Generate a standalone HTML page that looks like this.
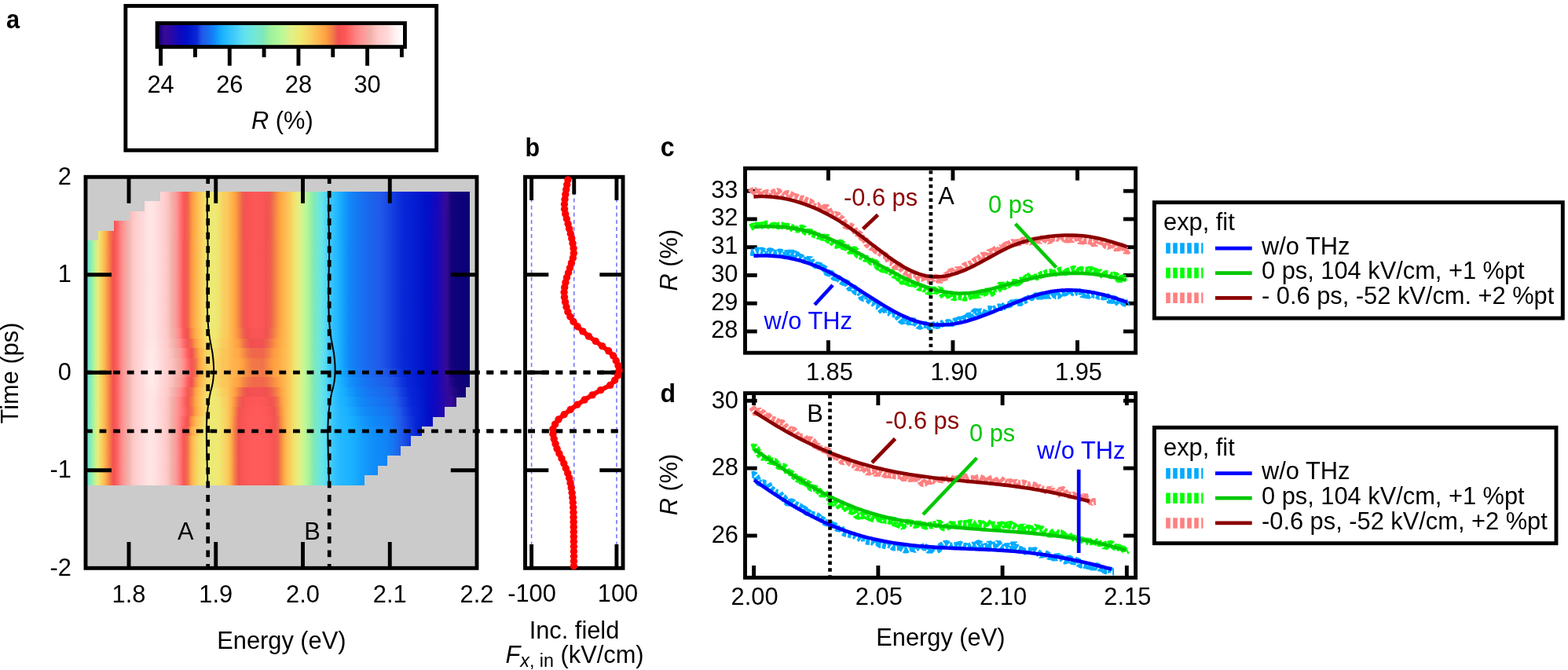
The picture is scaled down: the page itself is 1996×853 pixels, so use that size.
<!DOCTYPE html>
<html lang="en">
<head>
<meta charset="utf-8">
<title>Figure</title>
<style>html,body{margin:0;padding:0;background:#fff;}body{width:1996px;height:853px;overflow:hidden;}svg{display:block;}</style>
</head>
<body>
<svg width="1996" height="853" viewBox="0 0 1996 853" font-family='"Liberation Sans", sans-serif' fill="#000">
<defs>
<linearGradient id="cb" gradientUnits="objectBoundingBox" x1="0" y1="0" x2="1" y2="0"><stop offset="0.01" stop-color="#14047c"/><stop offset="0.03" stop-color="#3a0a98"/><stop offset="0.06" stop-color="#2808a8"/><stop offset="0.09" stop-color="#1008c0"/><stop offset="0.12" stop-color="#0010c8"/><stop offset="0.16" stop-color="#0828d8"/><stop offset="0.18" stop-color="#2058e8"/><stop offset="0.21" stop-color="#1870f0"/><stop offset="0.23" stop-color="#1088f8"/><stop offset="0.26" stop-color="#18b0ff"/><stop offset="0.29" stop-color="#30c0ff"/><stop offset="0.32" stop-color="#48d0f8"/><stop offset="0.35" stop-color="#60e0f0"/><stop offset="0.39" stop-color="#70e8d8"/><stop offset="0.43" stop-color="#80e8b8"/><stop offset="0.45" stop-color="#98f0a0"/><stop offset="0.5" stop-color="#b8f898"/><stop offset="0.51" stop-color="#c0f898"/><stop offset="0.54" stop-color="#e0f088"/><stop offset="0.58" stop-color="#f0e870"/><stop offset="0.62" stop-color="#f8d060"/><stop offset="0.65" stop-color="#ffb850"/><stop offset="0.68" stop-color="#ffa040"/><stop offset="0.71" stop-color="#f07848"/><stop offset="0.73" stop-color="#f05050"/><stop offset="0.76" stop-color="#ff5858"/><stop offset="0.8" stop-color="#ff8080"/><stop offset="0.83" stop-color="#ff9898"/><stop offset="0.86" stop-color="#f0b0a8"/><stop offset="0.89" stop-color="#ffc8c8"/><stop offset="0.93" stop-color="#ffd8d8"/><stop offset="0.96" stop-color="#fff0f0"/><stop offset="0.99" stop-color="#ffffff"/></linearGradient>
<linearGradient id="h0" gradientUnits="userSpaceOnUse" x1="203.75" y1="0" x2="598" y2="0"><stop offset="0.0000" stop-color="#ffd6d6"/><stop offset="0.0127" stop-color="#ffcfcf"/><stop offset="0.0254" stop-color="#fcc4c2"/><stop offset="0.0380" stop-color="#f0b1a9"/><stop offset="0.0507" stop-color="#fc9d9b"/><stop offset="0.0634" stop-color="#ff7b7b"/><stop offset="0.0761" stop-color="#fb5656"/><stop offset="0.0888" stop-color="#f05e4d"/><stop offset="0.1015" stop-color="#fb9542"/><stop offset="0.1141" stop-color="#ffb14b"/><stop offset="0.1268" stop-color="#fbc558"/><stop offset="0.1395" stop-color="#f5d865"/><stop offset="0.1522" stop-color="#efe871"/><stop offset="0.1649" stop-color="#ecea76"/><stop offset="0.1776" stop-color="#edea75"/><stop offset="0.1902" stop-color="#f2e36c"/><stop offset="0.2029" stop-color="#f8d161"/><stop offset="0.2156" stop-color="#facb5c"/><stop offset="0.2283" stop-color="#ffb850"/><stop offset="0.2410" stop-color="#ffa543"/><stop offset="0.2536" stop-color="#f58645"/><stop offset="0.2663" stop-color="#f05e4d"/><stop offset="0.2790" stop-color="#f55353"/><stop offset="0.2917" stop-color="#fb5656"/><stop offset="0.3044" stop-color="#fd5757"/><stop offset="0.3171" stop-color="#fc5757"/><stop offset="0.3297" stop-color="#fb5656"/><stop offset="0.3424" stop-color="#f55353"/><stop offset="0.3551" stop-color="#f05c4e"/><stop offset="0.3678" stop-color="#f07848"/><stop offset="0.3805" stop-color="#fb9742"/><stop offset="0.3932" stop-color="#ffac48"/><stop offset="0.4058" stop-color="#febc53"/><stop offset="0.4185" stop-color="#f9cb5d"/><stop offset="0.4312" stop-color="#f3e06b"/><stop offset="0.4439" stop-color="#e8ec7c"/><stop offset="0.4566" stop-color="#d7f28c"/><stop offset="0.4692" stop-color="#bcf898"/><stop offset="0.4819" stop-color="#a3f39d"/><stop offset="0.4946" stop-color="#85eab3"/><stop offset="0.5073" stop-color="#75e8ce"/><stop offset="0.5200" stop-color="#69e4e3"/><stop offset="0.5327" stop-color="#59dbf2"/><stop offset="0.5453" stop-color="#40cafa"/><stop offset="0.5580" stop-color="#31c1ff"/><stop offset="0.5707" stop-color="#23b7ff"/><stop offset="0.5834" stop-color="#17abfe"/><stop offset="0.5961" stop-color="#149bfb"/><stop offset="0.6088" stop-color="#118bf9"/><stop offset="0.6214" stop-color="#1282f6"/><stop offset="0.6341" stop-color="#157af3"/><stop offset="0.6468" stop-color="#1772f1"/><stop offset="0.6595" stop-color="#196cef"/><stop offset="0.6722" stop-color="#1b67ed"/><stop offset="0.6848" stop-color="#1c63ec"/><stop offset="0.6975" stop-color="#1e5eea"/><stop offset="0.7102" stop-color="#2059e8"/><stop offset="0.7229" stop-color="#1d52e6"/><stop offset="0.7356" stop-color="#1949e3"/><stop offset="0.7483" stop-color="#1440e0"/><stop offset="0.7609" stop-color="#1038dd"/><stop offset="0.7736" stop-color="#0b2fda"/><stop offset="0.7863" stop-color="#0827d7"/><stop offset="0.7990" stop-color="#0724d5"/><stop offset="0.8117" stop-color="#0520d3"/><stop offset="0.8244" stop-color="#041cd0"/><stop offset="0.8370" stop-color="#0318ce"/><stop offset="0.8497" stop-color="#0114cb"/><stop offset="0.8624" stop-color="#010fc7"/><stop offset="0.8751" stop-color="#080cc4"/><stop offset="0.8878" stop-color="#1008c0"/><stop offset="0.9004" stop-color="#1d08b3"/><stop offset="0.9131" stop-color="#2c08a4"/><stop offset="0.9258" stop-color="#370a96"/><stop offset="0.9385" stop-color="#14047c"/><stop offset="0.9512" stop-color="#0f027a"/><stop offset="0.9639" stop-color="#0e027a"/><stop offset="0.9765" stop-color="#0d0179"/><stop offset="0.9892" stop-color="#0b0078"/><stop offset="1.0000" stop-color="#0a0078"/></linearGradient>
<linearGradient id="h1" gradientUnits="userSpaceOnUse" x1="184.25" y1="0" x2="598" y2="0"><stop offset="0.0000" stop-color="#ffdddd"/><stop offset="0.0121" stop-color="#ffe4e4"/><stop offset="0.0242" stop-color="#ffe4e4"/><stop offset="0.0363" stop-color="#ffdddd"/><stop offset="0.0483" stop-color="#ffd6d6"/><stop offset="0.0604" stop-color="#ffcece"/><stop offset="0.0725" stop-color="#fbc2c0"/><stop offset="0.0846" stop-color="#f1afa7"/><stop offset="0.0967" stop-color="#fd9b9a"/><stop offset="0.1088" stop-color="#ff7777"/><stop offset="0.1208" stop-color="#f95555"/><stop offset="0.1329" stop-color="#f0644c"/><stop offset="0.1450" stop-color="#fd9a41"/><stop offset="0.1571" stop-color="#ffb34c"/><stop offset="0.1692" stop-color="#fbc75a"/><stop offset="0.1813" stop-color="#f5da67"/><stop offset="0.1934" stop-color="#eee972"/><stop offset="0.2054" stop-color="#ecea76"/><stop offset="0.2175" stop-color="#ede974"/><stop offset="0.2296" stop-color="#f2e16b"/><stop offset="0.2417" stop-color="#f8cf60"/><stop offset="0.2538" stop-color="#faca5c"/><stop offset="0.2659" stop-color="#ffb64e"/><stop offset="0.2779" stop-color="#ffa443"/><stop offset="0.2900" stop-color="#f48246"/><stop offset="0.3021" stop-color="#f05a4e"/><stop offset="0.3142" stop-color="#f65353"/><stop offset="0.3263" stop-color="#fb5656"/><stop offset="0.3384" stop-color="#fd5757"/><stop offset="0.3505" stop-color="#fc5757"/><stop offset="0.3625" stop-color="#fb5656"/><stop offset="0.3746" stop-color="#f45252"/><stop offset="0.3867" stop-color="#f05e4d"/><stop offset="0.3988" stop-color="#f27d47"/><stop offset="0.4109" stop-color="#fd9a41"/><stop offset="0.4230" stop-color="#ffae49"/><stop offset="0.4350" stop-color="#fdbd54"/><stop offset="0.4471" stop-color="#f9cd5e"/><stop offset="0.4592" stop-color="#f2e26c"/><stop offset="0.4713" stop-color="#e7ec7d"/><stop offset="0.4834" stop-color="#d4f38e"/><stop offset="0.4955" stop-color="#baf898"/><stop offset="0.5076" stop-color="#a0f29e"/><stop offset="0.5196" stop-color="#82e9b6"/><stop offset="0.5317" stop-color="#74e8d1"/><stop offset="0.5438" stop-color="#68e4e5"/><stop offset="0.5559" stop-color="#56d9f3"/><stop offset="0.5680" stop-color="#3ec9fb"/><stop offset="0.5801" stop-color="#30c0ff"/><stop offset="0.5921" stop-color="#22b7ff"/><stop offset="0.6042" stop-color="#17aafe"/><stop offset="0.6163" stop-color="#149afb"/><stop offset="0.6284" stop-color="#108af8"/><stop offset="0.6405" stop-color="#1281f6"/><stop offset="0.6526" stop-color="#1579f3"/><stop offset="0.6647" stop-color="#1772f1"/><stop offset="0.6767" stop-color="#196cef"/><stop offset="0.6888" stop-color="#1b67ed"/><stop offset="0.7009" stop-color="#1d62eb"/><stop offset="0.7130" stop-color="#1e5eea"/><stop offset="0.7251" stop-color="#2059e8"/><stop offset="0.7372" stop-color="#1d51e6"/><stop offset="0.7492" stop-color="#1848e3"/><stop offset="0.7613" stop-color="#1440e0"/><stop offset="0.7734" stop-color="#0f37dd"/><stop offset="0.7855" stop-color="#0b2eda"/><stop offset="0.7976" stop-color="#0827d7"/><stop offset="0.8097" stop-color="#0623d5"/><stop offset="0.8218" stop-color="#0520d3"/><stop offset="0.8338" stop-color="#041cd0"/><stop offset="0.8459" stop-color="#0318cd"/><stop offset="0.8580" stop-color="#0113ca"/><stop offset="0.8701" stop-color="#020fc7"/><stop offset="0.8822" stop-color="#090cc4"/><stop offset="0.8943" stop-color="#1208be"/><stop offset="0.9063" stop-color="#1e08b2"/><stop offset="0.9184" stop-color="#2e09a3"/><stop offset="0.9305" stop-color="#340993"/><stop offset="0.9426" stop-color="#13047c"/><stop offset="0.9547" stop-color="#0f027a"/><stop offset="0.9668" stop-color="#0e027a"/><stop offset="0.9789" stop-color="#0c0179"/><stop offset="0.9909" stop-color="#0b0078"/><stop offset="1.0000" stop-color="#0a0078"/></linearGradient>
<linearGradient id="h2" gradientUnits="userSpaceOnUse" x1="165" y1="0" x2="598" y2="0"><stop offset="0.0000" stop-color="#f5b7b2"/><stop offset="0.0115" stop-color="#ffc9c9"/><stop offset="0.0231" stop-color="#ffd1d1"/><stop offset="0.0346" stop-color="#ffd7d7"/><stop offset="0.0462" stop-color="#ffdfdf"/><stop offset="0.0577" stop-color="#ffe5e5"/><stop offset="0.0693" stop-color="#ffe4e4"/><stop offset="0.0808" stop-color="#ffdcdc"/><stop offset="0.0924" stop-color="#ffd5d5"/><stop offset="0.1039" stop-color="#ffcdcd"/><stop offset="0.1155" stop-color="#f9bfbc"/><stop offset="0.1270" stop-color="#f3aca5"/><stop offset="0.1386" stop-color="#ff9797"/><stop offset="0.1501" stop-color="#ff7070"/><stop offset="0.1617" stop-color="#f75454"/><stop offset="0.1732" stop-color="#f06d4a"/><stop offset="0.1848" stop-color="#ffa140"/><stop offset="0.1963" stop-color="#ffb54e"/><stop offset="0.2079" stop-color="#faca5c"/><stop offset="0.2194" stop-color="#f4dd69"/><stop offset="0.2309" stop-color="#ede974"/><stop offset="0.2425" stop-color="#ecea76"/><stop offset="0.2540" stop-color="#ede974"/><stop offset="0.2656" stop-color="#f3de6a"/><stop offset="0.2771" stop-color="#f9cd5e"/><stop offset="0.2887" stop-color="#fac85b"/><stop offset="0.3002" stop-color="#ffb24c"/><stop offset="0.3118" stop-color="#ffa241"/><stop offset="0.3233" stop-color="#f17b47"/><stop offset="0.3349" stop-color="#f0554f"/><stop offset="0.3464" stop-color="#f85454"/><stop offset="0.3580" stop-color="#fb5656"/><stop offset="0.3695" stop-color="#fd5757"/><stop offset="0.3811" stop-color="#fc5757"/><stop offset="0.3926" stop-color="#fb5656"/><stop offset="0.4042" stop-color="#f25151"/><stop offset="0.4157" stop-color="#f0614d"/><stop offset="0.4273" stop-color="#f48346"/><stop offset="0.4388" stop-color="#fe9e40"/><stop offset="0.4503" stop-color="#ffb04b"/><stop offset="0.4619" stop-color="#fdbf55"/><stop offset="0.4734" stop-color="#f8d060"/><stop offset="0.4850" stop-color="#f1e66f"/><stop offset="0.4965" stop-color="#e5ed80"/><stop offset="0.5081" stop-color="#d0f490"/><stop offset="0.5196" stop-color="#b7f898"/><stop offset="0.5312" stop-color="#9cf19f"/><stop offset="0.5427" stop-color="#7fe8bb"/><stop offset="0.5543" stop-color="#72e8d5"/><stop offset="0.5658" stop-color="#66e3e7"/><stop offset="0.5774" stop-color="#52d6f5"/><stop offset="0.5889" stop-color="#3bc7fc"/><stop offset="0.6005" stop-color="#2fc0ff"/><stop offset="0.6120" stop-color="#20b5ff"/><stop offset="0.6236" stop-color="#16a7fd"/><stop offset="0.6351" stop-color="#1397fb"/><stop offset="0.6467" stop-color="#1088f8"/><stop offset="0.6582" stop-color="#1380f5"/><stop offset="0.6697" stop-color="#1578f3"/><stop offset="0.6813" stop-color="#1871f0"/><stop offset="0.6928" stop-color="#1a6bee"/><stop offset="0.7044" stop-color="#1b66ed"/><stop offset="0.7159" stop-color="#1d61eb"/><stop offset="0.7275" stop-color="#1e5dea"/><stop offset="0.7390" stop-color="#2058e8"/><stop offset="0.7506" stop-color="#1c50e5"/><stop offset="0.7621" stop-color="#1747e2"/><stop offset="0.7737" stop-color="#133edf"/><stop offset="0.7852" stop-color="#0f36dd"/><stop offset="0.7968" stop-color="#0a2dda"/><stop offset="0.8083" stop-color="#0726d7"/><stop offset="0.8199" stop-color="#0623d5"/><stop offset="0.8314" stop-color="#051fd2"/><stop offset="0.8430" stop-color="#041bd0"/><stop offset="0.8545" stop-color="#0217cd"/><stop offset="0.8661" stop-color="#0113ca"/><stop offset="0.8776" stop-color="#030fc7"/><stop offset="0.8891" stop-color="#0a0bc3"/><stop offset="0.9007" stop-color="#1408bc"/><stop offset="0.9122" stop-color="#2008b0"/><stop offset="0.9238" stop-color="#3009a1"/><stop offset="0.9353" stop-color="#2e088f"/><stop offset="0.9469" stop-color="#12037b"/><stop offset="0.9584" stop-color="#0f027a"/><stop offset="0.9700" stop-color="#0e0179"/><stop offset="0.9815" stop-color="#0c0179"/><stop offset="0.9931" stop-color="#0b0078"/><stop offset="1.0000" stop-color="#0a0078"/></linearGradient>
<linearGradient id="h3" gradientUnits="userSpaceOnUse" x1="145" y1="0" x2="598" y2="0"><stop offset="0.0000" stop-color="#f65353"/><stop offset="0.0110" stop-color="#ff6868"/><stop offset="0.0221" stop-color="#ff8d8d"/><stop offset="0.0331" stop-color="#f7a4a0"/><stop offset="0.0442" stop-color="#f5b7b2"/><stop offset="0.0552" stop-color="#ffc9c9"/><stop offset="0.0662" stop-color="#ffd1d1"/><stop offset="0.0773" stop-color="#ffd7d7"/><stop offset="0.0883" stop-color="#ffdfdf"/><stop offset="0.0993" stop-color="#ffe5e5"/><stop offset="0.1104" stop-color="#ffe4e4"/><stop offset="0.1214" stop-color="#ffdcdc"/><stop offset="0.1325" stop-color="#ffd5d5"/><stop offset="0.1435" stop-color="#ffcdcd"/><stop offset="0.1545" stop-color="#f9bfbc"/><stop offset="0.1656" stop-color="#f3aca5"/><stop offset="0.1766" stop-color="#ff9797"/><stop offset="0.1876" stop-color="#ff7070"/><stop offset="0.1987" stop-color="#f75454"/><stop offset="0.2097" stop-color="#f06d4a"/><stop offset="0.2208" stop-color="#ffa140"/><stop offset="0.2318" stop-color="#ffb54e"/><stop offset="0.2428" stop-color="#faca5c"/><stop offset="0.2539" stop-color="#f4dd69"/><stop offset="0.2649" stop-color="#ede974"/><stop offset="0.2759" stop-color="#ecea76"/><stop offset="0.2870" stop-color="#ede974"/><stop offset="0.2980" stop-color="#f3de6a"/><stop offset="0.3091" stop-color="#f9cd5e"/><stop offset="0.3201" stop-color="#fac85b"/><stop offset="0.3311" stop-color="#ffb24c"/><stop offset="0.3422" stop-color="#ffa241"/><stop offset="0.3532" stop-color="#f17b47"/><stop offset="0.3642" stop-color="#f0554f"/><stop offset="0.3753" stop-color="#f85454"/><stop offset="0.3863" stop-color="#fb5656"/><stop offset="0.3974" stop-color="#fd5757"/><stop offset="0.4084" stop-color="#fc5757"/><stop offset="0.4194" stop-color="#fb5656"/><stop offset="0.4305" stop-color="#f25151"/><stop offset="0.4415" stop-color="#f0614d"/><stop offset="0.4525" stop-color="#f48346"/><stop offset="0.4636" stop-color="#fe9e40"/><stop offset="0.4746" stop-color="#ffb04b"/><stop offset="0.4857" stop-color="#fdbf55"/><stop offset="0.4967" stop-color="#f8d060"/><stop offset="0.5077" stop-color="#f1e66f"/><stop offset="0.5188" stop-color="#e5ed80"/><stop offset="0.5298" stop-color="#d0f490"/><stop offset="0.5408" stop-color="#b7f898"/><stop offset="0.5519" stop-color="#9cf19f"/><stop offset="0.5629" stop-color="#7fe8bb"/><stop offset="0.5740" stop-color="#72e8d5"/><stop offset="0.5850" stop-color="#66e3e7"/><stop offset="0.5960" stop-color="#52d6f5"/><stop offset="0.6071" stop-color="#3bc7fc"/><stop offset="0.6181" stop-color="#2fc0ff"/><stop offset="0.6291" stop-color="#20b5ff"/><stop offset="0.6402" stop-color="#16a7fd"/><stop offset="0.6512" stop-color="#1397fb"/><stop offset="0.6623" stop-color="#1088f8"/><stop offset="0.6733" stop-color="#1380f5"/><stop offset="0.6843" stop-color="#1578f3"/><stop offset="0.6954" stop-color="#1871f0"/><stop offset="0.7064" stop-color="#1a6bee"/><stop offset="0.7174" stop-color="#1b66ed"/><stop offset="0.7285" stop-color="#1d61eb"/><stop offset="0.7395" stop-color="#1e5dea"/><stop offset="0.7506" stop-color="#2058e8"/><stop offset="0.7616" stop-color="#1c50e5"/><stop offset="0.7726" stop-color="#1747e2"/><stop offset="0.7837" stop-color="#133edf"/><stop offset="0.7947" stop-color="#0f36dd"/><stop offset="0.8057" stop-color="#0a2dda"/><stop offset="0.8168" stop-color="#0726d7"/><stop offset="0.8278" stop-color="#0623d5"/><stop offset="0.8389" stop-color="#051fd2"/><stop offset="0.8499" stop-color="#041bd0"/><stop offset="0.8609" stop-color="#0217cd"/><stop offset="0.8720" stop-color="#0113ca"/><stop offset="0.8830" stop-color="#030fc7"/><stop offset="0.8940" stop-color="#0a0bc3"/><stop offset="0.9051" stop-color="#1408bc"/><stop offset="0.9161" stop-color="#2008b0"/><stop offset="0.9272" stop-color="#3009a1"/><stop offset="0.9382" stop-color="#2e088f"/><stop offset="0.9492" stop-color="#12037b"/><stop offset="0.9603" stop-color="#0f027a"/><stop offset="0.9713" stop-color="#0e0179"/><stop offset="0.9823" stop-color="#0c0179"/><stop offset="0.9934" stop-color="#0b0078"/><stop offset="1.0000" stop-color="#0a0078"/></linearGradient>
<linearGradient id="h4" gradientUnits="userSpaceOnUse" x1="125" y1="0" x2="598" y2="0"><stop offset="0.0000" stop-color="#ebeb78"/><stop offset="0.0106" stop-color="#f9cc5d"/><stop offset="0.0211" stop-color="#ffa946"/><stop offset="0.0317" stop-color="#f07648"/><stop offset="0.0423" stop-color="#f65353"/><stop offset="0.0529" stop-color="#ff6868"/><stop offset="0.0634" stop-color="#ff8d8d"/><stop offset="0.0740" stop-color="#f7a4a0"/><stop offset="0.0846" stop-color="#f5b7b2"/><stop offset="0.0951" stop-color="#ffc9c9"/><stop offset="0.1057" stop-color="#ffd1d1"/><stop offset="0.1163" stop-color="#ffd7d7"/><stop offset="0.1268" stop-color="#ffdfdf"/><stop offset="0.1374" stop-color="#ffe5e5"/><stop offset="0.1480" stop-color="#ffe4e4"/><stop offset="0.1586" stop-color="#ffdcdc"/><stop offset="0.1691" stop-color="#ffd5d5"/><stop offset="0.1797" stop-color="#ffcdcd"/><stop offset="0.1903" stop-color="#f9bfbc"/><stop offset="0.2008" stop-color="#f3aca5"/><stop offset="0.2114" stop-color="#ff9797"/><stop offset="0.2220" stop-color="#ff7070"/><stop offset="0.2326" stop-color="#f75454"/><stop offset="0.2431" stop-color="#f06d4a"/><stop offset="0.2537" stop-color="#ffa140"/><stop offset="0.2643" stop-color="#ffb54e"/><stop offset="0.2748" stop-color="#faca5c"/><stop offset="0.2854" stop-color="#f4dd69"/><stop offset="0.2960" stop-color="#ede974"/><stop offset="0.3066" stop-color="#ecea76"/><stop offset="0.3171" stop-color="#ede974"/><stop offset="0.3277" stop-color="#f3de6a"/><stop offset="0.3383" stop-color="#f9cd5e"/><stop offset="0.3488" stop-color="#fac85b"/><stop offset="0.3594" stop-color="#ffb24c"/><stop offset="0.3700" stop-color="#ffa241"/><stop offset="0.3805" stop-color="#f17b47"/><stop offset="0.3911" stop-color="#f0554f"/><stop offset="0.4017" stop-color="#f85454"/><stop offset="0.4123" stop-color="#fb5656"/><stop offset="0.4228" stop-color="#fd5757"/><stop offset="0.4334" stop-color="#fc5757"/><stop offset="0.4440" stop-color="#fb5656"/><stop offset="0.4545" stop-color="#f25151"/><stop offset="0.4651" stop-color="#f0614d"/><stop offset="0.4757" stop-color="#f48346"/><stop offset="0.4863" stop-color="#fe9e40"/><stop offset="0.4968" stop-color="#ffb04b"/><stop offset="0.5074" stop-color="#fdbf55"/><stop offset="0.5180" stop-color="#f8d060"/><stop offset="0.5285" stop-color="#f1e66f"/><stop offset="0.5391" stop-color="#e5ed80"/><stop offset="0.5497" stop-color="#d0f490"/><stop offset="0.5603" stop-color="#b7f898"/><stop offset="0.5708" stop-color="#9cf19f"/><stop offset="0.5814" stop-color="#7fe8bb"/><stop offset="0.5920" stop-color="#72e8d5"/><stop offset="0.6025" stop-color="#66e3e7"/><stop offset="0.6131" stop-color="#52d6f5"/><stop offset="0.6237" stop-color="#3bc7fc"/><stop offset="0.6342" stop-color="#2fc0ff"/><stop offset="0.6448" stop-color="#20b5ff"/><stop offset="0.6554" stop-color="#16a7fd"/><stop offset="0.6660" stop-color="#1397fb"/><stop offset="0.6765" stop-color="#1088f8"/><stop offset="0.6871" stop-color="#1380f5"/><stop offset="0.6977" stop-color="#1578f3"/><stop offset="0.7082" stop-color="#1871f0"/><stop offset="0.7188" stop-color="#1a6bee"/><stop offset="0.7294" stop-color="#1b66ed"/><stop offset="0.7400" stop-color="#1d61eb"/><stop offset="0.7505" stop-color="#1e5dea"/><stop offset="0.7611" stop-color="#2058e8"/><stop offset="0.7717" stop-color="#1c50e5"/><stop offset="0.7822" stop-color="#1747e2"/><stop offset="0.7928" stop-color="#133edf"/><stop offset="0.8034" stop-color="#0f36dd"/><stop offset="0.8140" stop-color="#0a2dda"/><stop offset="0.8245" stop-color="#0726d7"/><stop offset="0.8351" stop-color="#0623d5"/><stop offset="0.8457" stop-color="#051fd2"/><stop offset="0.8562" stop-color="#041bd0"/><stop offset="0.8668" stop-color="#0217cd"/><stop offset="0.8774" stop-color="#0113ca"/><stop offset="0.8879" stop-color="#030fc7"/><stop offset="0.8985" stop-color="#0a0bc3"/><stop offset="0.9091" stop-color="#1408bc"/><stop offset="0.9197" stop-color="#2008b0"/><stop offset="0.9302" stop-color="#3009a1"/><stop offset="0.9408" stop-color="#2e088f"/><stop offset="0.9514" stop-color="#12037b"/><stop offset="0.9619" stop-color="#0f027a"/><stop offset="0.9725" stop-color="#0e0179"/><stop offset="0.9831" stop-color="#0c0179"/><stop offset="0.9937" stop-color="#0b0078"/><stop offset="1.0000" stop-color="#0a0078"/></linearGradient>
<linearGradient id="h5" gradientUnits="userSpaceOnUse" x1="109" y1="0" x2="598" y2="0"><stop offset="0.0000" stop-color="#6ce6df"/><stop offset="0.0102" stop-color="#7ae8c4"/><stop offset="0.0204" stop-color="#abf59b"/><stop offset="0.0307" stop-color="#e6ed7f"/><stop offset="0.0409" stop-color="#f7d362"/><stop offset="0.0511" stop-color="#ffb04b"/><stop offset="0.0613" stop-color="#f48346"/><stop offset="0.0716" stop-color="#f35151"/><stop offset="0.0818" stop-color="#ff6060"/><stop offset="0.0920" stop-color="#ff8787"/><stop offset="0.1022" stop-color="#faa09e"/><stop offset="0.1125" stop-color="#f2b3ac"/><stop offset="0.1227" stop-color="#fec7c6"/><stop offset="0.1329" stop-color="#ffd0d0"/><stop offset="0.1431" stop-color="#ffd6d6"/><stop offset="0.1534" stop-color="#ffdddd"/><stop offset="0.1636" stop-color="#ffe4e4"/><stop offset="0.1738" stop-color="#ffe4e4"/><stop offset="0.1840" stop-color="#ffdede"/><stop offset="0.1943" stop-color="#ffd6d6"/><stop offset="0.2045" stop-color="#ffcfcf"/><stop offset="0.2147" stop-color="#fcc3c1"/><stop offset="0.2249" stop-color="#f0b0a8"/><stop offset="0.2352" stop-color="#fd9c9a"/><stop offset="0.2454" stop-color="#ff7979"/><stop offset="0.2556" stop-color="#fa5555"/><stop offset="0.2658" stop-color="#f0614d"/><stop offset="0.2761" stop-color="#fc9842"/><stop offset="0.2863" stop-color="#ffb24c"/><stop offset="0.2965" stop-color="#fbc659"/><stop offset="0.3067" stop-color="#f5d966"/><stop offset="0.3170" stop-color="#efe972"/><stop offset="0.3272" stop-color="#ecea76"/><stop offset="0.3374" stop-color="#ede974"/><stop offset="0.3476" stop-color="#f2e26c"/><stop offset="0.3579" stop-color="#f8d060"/><stop offset="0.3681" stop-color="#faca5c"/><stop offset="0.3783" stop-color="#ffb74f"/><stop offset="0.3885" stop-color="#ffa543"/><stop offset="0.3988" stop-color="#f48446"/><stop offset="0.4090" stop-color="#f05c4e"/><stop offset="0.4192" stop-color="#f65353"/><stop offset="0.4294" stop-color="#fb5656"/><stop offset="0.4397" stop-color="#fd5757"/><stop offset="0.4499" stop-color="#fc5757"/><stop offset="0.4601" stop-color="#fb5656"/><stop offset="0.4703" stop-color="#f45252"/><stop offset="0.4806" stop-color="#f05d4d"/><stop offset="0.4908" stop-color="#f17a48"/><stop offset="0.5010" stop-color="#fc9842"/><stop offset="0.5112" stop-color="#ffad49"/><stop offset="0.5215" stop-color="#febd53"/><stop offset="0.5317" stop-color="#f9cc5d"/><stop offset="0.5419" stop-color="#f2e16c"/><stop offset="0.5521" stop-color="#e8ec7c"/><stop offset="0.5624" stop-color="#d6f38d"/><stop offset="0.5726" stop-color="#bbf898"/><stop offset="0.5828" stop-color="#a2f29e"/><stop offset="0.5930" stop-color="#83e9b5"/><stop offset="0.6033" stop-color="#74e8d0"/><stop offset="0.6135" stop-color="#68e4e4"/><stop offset="0.6237" stop-color="#58daf3"/><stop offset="0.6339" stop-color="#3fcafb"/><stop offset="0.6442" stop-color="#30c0ff"/><stop offset="0.6544" stop-color="#23b7ff"/><stop offset="0.6646" stop-color="#17abfe"/><stop offset="0.6748" stop-color="#149afb"/><stop offset="0.6851" stop-color="#108af8"/><stop offset="0.6953" stop-color="#1281f6"/><stop offset="0.7055" stop-color="#1579f3"/><stop offset="0.7157" stop-color="#1772f1"/><stop offset="0.7260" stop-color="#196cef"/><stop offset="0.7362" stop-color="#1b67ed"/><stop offset="0.7464" stop-color="#1d62eb"/><stop offset="0.7566" stop-color="#1e5eea"/><stop offset="0.7669" stop-color="#2059e8"/><stop offset="0.7771" stop-color="#1d51e6"/><stop offset="0.7873" stop-color="#1849e3"/><stop offset="0.7975" stop-color="#1440e0"/><stop offset="0.8078" stop-color="#1037dd"/><stop offset="0.8180" stop-color="#0b2fda"/><stop offset="0.8282" stop-color="#0827d7"/><stop offset="0.8384" stop-color="#0724d5"/><stop offset="0.8487" stop-color="#0520d3"/><stop offset="0.8589" stop-color="#041cd0"/><stop offset="0.8691" stop-color="#0318cd"/><stop offset="0.8793" stop-color="#0114ca"/><stop offset="0.8896" stop-color="#010fc7"/><stop offset="0.8998" stop-color="#080cc4"/><stop offset="0.9100" stop-color="#1108bf"/><stop offset="0.9202" stop-color="#1e08b2"/><stop offset="0.9305" stop-color="#2d09a4"/><stop offset="0.9407" stop-color="#350995"/><stop offset="0.9509" stop-color="#14047c"/><stop offset="0.9611" stop-color="#0f027a"/><stop offset="0.9714" stop-color="#0e027a"/><stop offset="0.9816" stop-color="#0d0179"/><stop offset="0.9918" stop-color="#0b0078"/><stop offset="1.0000" stop-color="#0a0078"/></linearGradient>
<linearGradient id="h6" gradientUnits="userSpaceOnUse" x1="109" y1="0" x2="598" y2="0"><stop offset="0.0000" stop-color="#6ce6df"/><stop offset="0.0102" stop-color="#7ae8c4"/><stop offset="0.0204" stop-color="#abf59b"/><stop offset="0.0307" stop-color="#e6ed7f"/><stop offset="0.0409" stop-color="#f7d362"/><stop offset="0.0511" stop-color="#ffb04b"/><stop offset="0.0613" stop-color="#f48346"/><stop offset="0.0716" stop-color="#f35151"/><stop offset="0.0818" stop-color="#ff6060"/><stop offset="0.0920" stop-color="#ff8787"/><stop offset="0.1022" stop-color="#faa09e"/><stop offset="0.1125" stop-color="#f2b3ac"/><stop offset="0.1227" stop-color="#fec7c6"/><stop offset="0.1329" stop-color="#ffd0d0"/><stop offset="0.1431" stop-color="#ffd6d6"/><stop offset="0.1534" stop-color="#ffdddd"/><stop offset="0.1636" stop-color="#ffe4e4"/><stop offset="0.1738" stop-color="#ffe4e4"/><stop offset="0.1840" stop-color="#ffdede"/><stop offset="0.1943" stop-color="#ffd6d6"/><stop offset="0.2045" stop-color="#ffcfcf"/><stop offset="0.2147" stop-color="#fcc3c1"/><stop offset="0.2249" stop-color="#f0b0a8"/><stop offset="0.2352" stop-color="#fd9c9a"/><stop offset="0.2454" stop-color="#ff7979"/><stop offset="0.2556" stop-color="#fa5555"/><stop offset="0.2658" stop-color="#f0614d"/><stop offset="0.2761" stop-color="#fc9842"/><stop offset="0.2863" stop-color="#ffb24c"/><stop offset="0.2965" stop-color="#fbc659"/><stop offset="0.3067" stop-color="#f5d966"/><stop offset="0.3170" stop-color="#efe972"/><stop offset="0.3272" stop-color="#ecea76"/><stop offset="0.3374" stop-color="#ede974"/><stop offset="0.3476" stop-color="#f2e26c"/><stop offset="0.3579" stop-color="#f8d060"/><stop offset="0.3681" stop-color="#faca5c"/><stop offset="0.3783" stop-color="#ffb74f"/><stop offset="0.3885" stop-color="#ffa543"/><stop offset="0.3988" stop-color="#f48446"/><stop offset="0.4090" stop-color="#f05c4e"/><stop offset="0.4192" stop-color="#f65353"/><stop offset="0.4294" stop-color="#fb5656"/><stop offset="0.4397" stop-color="#fd5757"/><stop offset="0.4499" stop-color="#fc5757"/><stop offset="0.4601" stop-color="#fb5656"/><stop offset="0.4703" stop-color="#f45252"/><stop offset="0.4806" stop-color="#f05d4d"/><stop offset="0.4908" stop-color="#f17a48"/><stop offset="0.5010" stop-color="#fc9842"/><stop offset="0.5112" stop-color="#ffad49"/><stop offset="0.5215" stop-color="#febd53"/><stop offset="0.5317" stop-color="#f9cc5d"/><stop offset="0.5419" stop-color="#f2e16c"/><stop offset="0.5521" stop-color="#e8ec7c"/><stop offset="0.5624" stop-color="#d6f38d"/><stop offset="0.5726" stop-color="#bbf898"/><stop offset="0.5828" stop-color="#a2f29e"/><stop offset="0.5930" stop-color="#83e9b5"/><stop offset="0.6033" stop-color="#74e8d0"/><stop offset="0.6135" stop-color="#68e4e4"/><stop offset="0.6237" stop-color="#58daf3"/><stop offset="0.6339" stop-color="#3fcafb"/><stop offset="0.6442" stop-color="#30c0ff"/><stop offset="0.6544" stop-color="#23b7ff"/><stop offset="0.6646" stop-color="#17abfe"/><stop offset="0.6748" stop-color="#149afb"/><stop offset="0.6851" stop-color="#108af8"/><stop offset="0.6953" stop-color="#1281f6"/><stop offset="0.7055" stop-color="#1579f3"/><stop offset="0.7157" stop-color="#1772f1"/><stop offset="0.7260" stop-color="#196cef"/><stop offset="0.7362" stop-color="#1b67ed"/><stop offset="0.7464" stop-color="#1d62eb"/><stop offset="0.7566" stop-color="#1e5eea"/><stop offset="0.7669" stop-color="#2059e8"/><stop offset="0.7771" stop-color="#1d51e6"/><stop offset="0.7873" stop-color="#1849e3"/><stop offset="0.7975" stop-color="#1440e0"/><stop offset="0.8078" stop-color="#1037dd"/><stop offset="0.8180" stop-color="#0b2fda"/><stop offset="0.8282" stop-color="#0827d7"/><stop offset="0.8384" stop-color="#0724d5"/><stop offset="0.8487" stop-color="#0520d3"/><stop offset="0.8589" stop-color="#041cd0"/><stop offset="0.8691" stop-color="#0318cd"/><stop offset="0.8793" stop-color="#0114ca"/><stop offset="0.8896" stop-color="#010fc7"/><stop offset="0.8998" stop-color="#080cc4"/><stop offset="0.9100" stop-color="#1108bf"/><stop offset="0.9202" stop-color="#1e08b2"/><stop offset="0.9305" stop-color="#2d09a4"/><stop offset="0.9407" stop-color="#350995"/><stop offset="0.9509" stop-color="#14047c"/><stop offset="0.9611" stop-color="#0f027a"/><stop offset="0.9714" stop-color="#0e027a"/><stop offset="0.9816" stop-color="#0d0179"/><stop offset="0.9918" stop-color="#0b0078"/><stop offset="1.0000" stop-color="#0a0078"/></linearGradient>
<linearGradient id="h7" gradientUnits="userSpaceOnUse" x1="109" y1="0" x2="598" y2="0"><stop offset="0.0000" stop-color="#6ce6df"/><stop offset="0.0102" stop-color="#7ae8c4"/><stop offset="0.0204" stop-color="#abf59b"/><stop offset="0.0307" stop-color="#e6ed7f"/><stop offset="0.0409" stop-color="#f7d362"/><stop offset="0.0511" stop-color="#ffb04b"/><stop offset="0.0613" stop-color="#f48346"/><stop offset="0.0716" stop-color="#f35151"/><stop offset="0.0818" stop-color="#ff6060"/><stop offset="0.0920" stop-color="#ff8787"/><stop offset="0.1022" stop-color="#faa09e"/><stop offset="0.1125" stop-color="#f2b3ac"/><stop offset="0.1227" stop-color="#fec7c6"/><stop offset="0.1329" stop-color="#ffd0d0"/><stop offset="0.1431" stop-color="#ffd6d6"/><stop offset="0.1534" stop-color="#ffdddd"/><stop offset="0.1636" stop-color="#ffe4e4"/><stop offset="0.1738" stop-color="#ffe4e4"/><stop offset="0.1840" stop-color="#ffdede"/><stop offset="0.1943" stop-color="#ffd6d6"/><stop offset="0.2045" stop-color="#ffcfcf"/><stop offset="0.2147" stop-color="#fcc3c1"/><stop offset="0.2249" stop-color="#f0b0a8"/><stop offset="0.2352" stop-color="#fd9c9a"/><stop offset="0.2454" stop-color="#ff7979"/><stop offset="0.2556" stop-color="#fa5555"/><stop offset="0.2658" stop-color="#f0614d"/><stop offset="0.2761" stop-color="#fc9842"/><stop offset="0.2863" stop-color="#ffb24c"/><stop offset="0.2965" stop-color="#fbc659"/><stop offset="0.3067" stop-color="#f5d966"/><stop offset="0.3170" stop-color="#efe972"/><stop offset="0.3272" stop-color="#ecea76"/><stop offset="0.3374" stop-color="#ede974"/><stop offset="0.3476" stop-color="#f2e26c"/><stop offset="0.3579" stop-color="#f8d060"/><stop offset="0.3681" stop-color="#faca5c"/><stop offset="0.3783" stop-color="#ffb74f"/><stop offset="0.3885" stop-color="#ffa543"/><stop offset="0.3988" stop-color="#f48446"/><stop offset="0.4090" stop-color="#f05c4e"/><stop offset="0.4192" stop-color="#f65353"/><stop offset="0.4294" stop-color="#fb5656"/><stop offset="0.4397" stop-color="#fd5757"/><stop offset="0.4499" stop-color="#fc5757"/><stop offset="0.4601" stop-color="#fb5656"/><stop offset="0.4703" stop-color="#f45252"/><stop offset="0.4806" stop-color="#f05d4d"/><stop offset="0.4908" stop-color="#f17a48"/><stop offset="0.5010" stop-color="#fc9842"/><stop offset="0.5112" stop-color="#ffad49"/><stop offset="0.5215" stop-color="#febd53"/><stop offset="0.5317" stop-color="#f9cc5d"/><stop offset="0.5419" stop-color="#f2e16c"/><stop offset="0.5521" stop-color="#e8ec7c"/><stop offset="0.5624" stop-color="#d6f38d"/><stop offset="0.5726" stop-color="#bbf898"/><stop offset="0.5828" stop-color="#a2f29e"/><stop offset="0.5930" stop-color="#83e9b5"/><stop offset="0.6033" stop-color="#74e8d0"/><stop offset="0.6135" stop-color="#68e4e4"/><stop offset="0.6237" stop-color="#58daf3"/><stop offset="0.6339" stop-color="#3fcafb"/><stop offset="0.6442" stop-color="#30c0ff"/><stop offset="0.6544" stop-color="#23b7ff"/><stop offset="0.6646" stop-color="#17abfe"/><stop offset="0.6748" stop-color="#149afb"/><stop offset="0.6851" stop-color="#108af8"/><stop offset="0.6953" stop-color="#1281f6"/><stop offset="0.7055" stop-color="#1579f3"/><stop offset="0.7157" stop-color="#1772f1"/><stop offset="0.7260" stop-color="#196cef"/><stop offset="0.7362" stop-color="#1b67ed"/><stop offset="0.7464" stop-color="#1d62eb"/><stop offset="0.7566" stop-color="#1e5eea"/><stop offset="0.7669" stop-color="#2059e8"/><stop offset="0.7771" stop-color="#1d51e6"/><stop offset="0.7873" stop-color="#1849e3"/><stop offset="0.7975" stop-color="#1440e0"/><stop offset="0.8078" stop-color="#1037dd"/><stop offset="0.8180" stop-color="#0b2fda"/><stop offset="0.8282" stop-color="#0827d7"/><stop offset="0.8384" stop-color="#0724d5"/><stop offset="0.8487" stop-color="#0520d3"/><stop offset="0.8589" stop-color="#041cd0"/><stop offset="0.8691" stop-color="#0318cd"/><stop offset="0.8793" stop-color="#0114ca"/><stop offset="0.8896" stop-color="#010fc7"/><stop offset="0.8998" stop-color="#080cc4"/><stop offset="0.9100" stop-color="#1108bf"/><stop offset="0.9202" stop-color="#1e08b2"/><stop offset="0.9305" stop-color="#2d09a4"/><stop offset="0.9407" stop-color="#350995"/><stop offset="0.9509" stop-color="#14047c"/><stop offset="0.9611" stop-color="#0f027a"/><stop offset="0.9714" stop-color="#0e027a"/><stop offset="0.9816" stop-color="#0d0179"/><stop offset="0.9918" stop-color="#0b0078"/><stop offset="1.0000" stop-color="#0a0078"/></linearGradient>
<linearGradient id="h8" gradientUnits="userSpaceOnUse" x1="109" y1="0" x2="598" y2="0"><stop offset="0.0000" stop-color="#6ce6df"/><stop offset="0.0102" stop-color="#7ae8c4"/><stop offset="0.0204" stop-color="#abf59b"/><stop offset="0.0307" stop-color="#e6ed7f"/><stop offset="0.0409" stop-color="#f7d362"/><stop offset="0.0511" stop-color="#ffb04b"/><stop offset="0.0613" stop-color="#f48346"/><stop offset="0.0716" stop-color="#f35151"/><stop offset="0.0818" stop-color="#ff6060"/><stop offset="0.0920" stop-color="#ff8787"/><stop offset="0.1022" stop-color="#faa09e"/><stop offset="0.1125" stop-color="#f2b3ac"/><stop offset="0.1227" stop-color="#fec7c6"/><stop offset="0.1329" stop-color="#ffd0d0"/><stop offset="0.1431" stop-color="#ffd6d6"/><stop offset="0.1534" stop-color="#ffdddd"/><stop offset="0.1636" stop-color="#ffe4e4"/><stop offset="0.1738" stop-color="#ffe4e4"/><stop offset="0.1840" stop-color="#ffdede"/><stop offset="0.1943" stop-color="#ffd6d6"/><stop offset="0.2045" stop-color="#ffcfcf"/><stop offset="0.2147" stop-color="#fcc3c1"/><stop offset="0.2249" stop-color="#f0b0a8"/><stop offset="0.2352" stop-color="#fd9c9a"/><stop offset="0.2454" stop-color="#ff7979"/><stop offset="0.2556" stop-color="#fa5555"/><stop offset="0.2658" stop-color="#f0614d"/><stop offset="0.2761" stop-color="#fc9842"/><stop offset="0.2863" stop-color="#ffb24c"/><stop offset="0.2965" stop-color="#fbc659"/><stop offset="0.3067" stop-color="#f5d966"/><stop offset="0.3170" stop-color="#efe972"/><stop offset="0.3272" stop-color="#ecea76"/><stop offset="0.3374" stop-color="#ede974"/><stop offset="0.3476" stop-color="#f2e26c"/><stop offset="0.3579" stop-color="#f8d060"/><stop offset="0.3681" stop-color="#faca5c"/><stop offset="0.3783" stop-color="#ffb74f"/><stop offset="0.3885" stop-color="#ffa543"/><stop offset="0.3988" stop-color="#f48446"/><stop offset="0.4090" stop-color="#f05c4e"/><stop offset="0.4192" stop-color="#f65353"/><stop offset="0.4294" stop-color="#fb5656"/><stop offset="0.4397" stop-color="#fd5757"/><stop offset="0.4499" stop-color="#fc5757"/><stop offset="0.4601" stop-color="#fb5656"/><stop offset="0.4703" stop-color="#f45252"/><stop offset="0.4806" stop-color="#f05d4d"/><stop offset="0.4908" stop-color="#f17a48"/><stop offset="0.5010" stop-color="#fc9842"/><stop offset="0.5112" stop-color="#ffad49"/><stop offset="0.5215" stop-color="#febd53"/><stop offset="0.5317" stop-color="#f9cc5d"/><stop offset="0.5419" stop-color="#f2e16c"/><stop offset="0.5521" stop-color="#e8ec7c"/><stop offset="0.5624" stop-color="#d6f38d"/><stop offset="0.5726" stop-color="#bbf898"/><stop offset="0.5828" stop-color="#a2f29e"/><stop offset="0.5930" stop-color="#83e9b5"/><stop offset="0.6033" stop-color="#74e8d0"/><stop offset="0.6135" stop-color="#68e4e4"/><stop offset="0.6237" stop-color="#58daf3"/><stop offset="0.6339" stop-color="#3fcafb"/><stop offset="0.6442" stop-color="#30c0ff"/><stop offset="0.6544" stop-color="#23b7ff"/><stop offset="0.6646" stop-color="#17abfe"/><stop offset="0.6748" stop-color="#149afb"/><stop offset="0.6851" stop-color="#108af8"/><stop offset="0.6953" stop-color="#1281f6"/><stop offset="0.7055" stop-color="#1579f3"/><stop offset="0.7157" stop-color="#1772f1"/><stop offset="0.7260" stop-color="#196cef"/><stop offset="0.7362" stop-color="#1b67ed"/><stop offset="0.7464" stop-color="#1d62eb"/><stop offset="0.7566" stop-color="#1e5eea"/><stop offset="0.7669" stop-color="#2059e8"/><stop offset="0.7771" stop-color="#1d51e6"/><stop offset="0.7873" stop-color="#1849e3"/><stop offset="0.7975" stop-color="#1440e0"/><stop offset="0.8078" stop-color="#1037dd"/><stop offset="0.8180" stop-color="#0b2fda"/><stop offset="0.8282" stop-color="#0827d7"/><stop offset="0.8384" stop-color="#0724d5"/><stop offset="0.8487" stop-color="#0520d3"/><stop offset="0.8589" stop-color="#041cd0"/><stop offset="0.8691" stop-color="#0318cd"/><stop offset="0.8793" stop-color="#0114ca"/><stop offset="0.8896" stop-color="#010fc7"/><stop offset="0.8998" stop-color="#080cc4"/><stop offset="0.9100" stop-color="#1108bf"/><stop offset="0.9202" stop-color="#1e08b2"/><stop offset="0.9305" stop-color="#2d09a4"/><stop offset="0.9407" stop-color="#350995"/><stop offset="0.9509" stop-color="#14047c"/><stop offset="0.9611" stop-color="#0f027a"/><stop offset="0.9714" stop-color="#0e027a"/><stop offset="0.9816" stop-color="#0d0179"/><stop offset="0.9918" stop-color="#0b0078"/><stop offset="1.0000" stop-color="#0a0078"/></linearGradient>
<linearGradient id="h9" gradientUnits="userSpaceOnUse" x1="109" y1="0" x2="598" y2="0"><stop offset="0.0000" stop-color="#6ce6df"/><stop offset="0.0102" stop-color="#7ae8c4"/><stop offset="0.0204" stop-color="#abf59b"/><stop offset="0.0307" stop-color="#e6ed7f"/><stop offset="0.0409" stop-color="#f7d362"/><stop offset="0.0511" stop-color="#ffb04b"/><stop offset="0.0613" stop-color="#f48346"/><stop offset="0.0716" stop-color="#f35151"/><stop offset="0.0818" stop-color="#ff6060"/><stop offset="0.0920" stop-color="#ff8787"/><stop offset="0.1022" stop-color="#faa09e"/><stop offset="0.1125" stop-color="#f2b3ac"/><stop offset="0.1227" stop-color="#fec7c6"/><stop offset="0.1329" stop-color="#ffd0d0"/><stop offset="0.1431" stop-color="#ffd6d6"/><stop offset="0.1534" stop-color="#ffdddd"/><stop offset="0.1636" stop-color="#ffe4e4"/><stop offset="0.1738" stop-color="#ffe4e4"/><stop offset="0.1840" stop-color="#ffdede"/><stop offset="0.1943" stop-color="#ffd6d6"/><stop offset="0.2045" stop-color="#ffcfcf"/><stop offset="0.2147" stop-color="#fcc3c1"/><stop offset="0.2249" stop-color="#f0b0a8"/><stop offset="0.2352" stop-color="#fd9c9a"/><stop offset="0.2454" stop-color="#ff7979"/><stop offset="0.2556" stop-color="#fa5555"/><stop offset="0.2658" stop-color="#f0614d"/><stop offset="0.2761" stop-color="#fc9842"/><stop offset="0.2863" stop-color="#ffb24c"/><stop offset="0.2965" stop-color="#fbc659"/><stop offset="0.3067" stop-color="#f5d966"/><stop offset="0.3170" stop-color="#efe972"/><stop offset="0.3272" stop-color="#ecea76"/><stop offset="0.3374" stop-color="#ede974"/><stop offset="0.3476" stop-color="#f2e26c"/><stop offset="0.3579" stop-color="#f8d060"/><stop offset="0.3681" stop-color="#faca5c"/><stop offset="0.3783" stop-color="#ffb74f"/><stop offset="0.3885" stop-color="#ffa543"/><stop offset="0.3988" stop-color="#f48446"/><stop offset="0.4090" stop-color="#f05c4e"/><stop offset="0.4192" stop-color="#f65353"/><stop offset="0.4294" stop-color="#fb5656"/><stop offset="0.4397" stop-color="#fd5757"/><stop offset="0.4499" stop-color="#fc5757"/><stop offset="0.4601" stop-color="#fb5656"/><stop offset="0.4703" stop-color="#f45252"/><stop offset="0.4806" stop-color="#f05d4d"/><stop offset="0.4908" stop-color="#f17a48"/><stop offset="0.5010" stop-color="#fc9842"/><stop offset="0.5112" stop-color="#ffad49"/><stop offset="0.5215" stop-color="#febd53"/><stop offset="0.5317" stop-color="#f9cc5d"/><stop offset="0.5419" stop-color="#f2e16c"/><stop offset="0.5521" stop-color="#e8ec7c"/><stop offset="0.5624" stop-color="#d6f38d"/><stop offset="0.5726" stop-color="#bbf898"/><stop offset="0.5828" stop-color="#a2f29e"/><stop offset="0.5930" stop-color="#83e9b5"/><stop offset="0.6033" stop-color="#74e8d0"/><stop offset="0.6135" stop-color="#68e4e4"/><stop offset="0.6237" stop-color="#58daf3"/><stop offset="0.6339" stop-color="#3fcafb"/><stop offset="0.6442" stop-color="#30c0ff"/><stop offset="0.6544" stop-color="#23b7ff"/><stop offset="0.6646" stop-color="#17abfe"/><stop offset="0.6748" stop-color="#149afb"/><stop offset="0.6851" stop-color="#108af8"/><stop offset="0.6953" stop-color="#1281f6"/><stop offset="0.7055" stop-color="#1579f3"/><stop offset="0.7157" stop-color="#1772f1"/><stop offset="0.7260" stop-color="#196cef"/><stop offset="0.7362" stop-color="#1b67ed"/><stop offset="0.7464" stop-color="#1d62eb"/><stop offset="0.7566" stop-color="#1e5eea"/><stop offset="0.7669" stop-color="#2059e8"/><stop offset="0.7771" stop-color="#1d51e6"/><stop offset="0.7873" stop-color="#1849e3"/><stop offset="0.7975" stop-color="#1440e0"/><stop offset="0.8078" stop-color="#1037dd"/><stop offset="0.8180" stop-color="#0b2fda"/><stop offset="0.8282" stop-color="#0827d7"/><stop offset="0.8384" stop-color="#0724d5"/><stop offset="0.8487" stop-color="#0520d3"/><stop offset="0.8589" stop-color="#041cd0"/><stop offset="0.8691" stop-color="#0318cd"/><stop offset="0.8793" stop-color="#0114ca"/><stop offset="0.8896" stop-color="#010fc7"/><stop offset="0.8998" stop-color="#080cc4"/><stop offset="0.9100" stop-color="#1108bf"/><stop offset="0.9202" stop-color="#1e08b2"/><stop offset="0.9305" stop-color="#2d09a4"/><stop offset="0.9407" stop-color="#350995"/><stop offset="0.9509" stop-color="#14047c"/><stop offset="0.9611" stop-color="#0f027a"/><stop offset="0.9714" stop-color="#0e027a"/><stop offset="0.9816" stop-color="#0d0179"/><stop offset="0.9918" stop-color="#0b0078"/><stop offset="1.0000" stop-color="#0a0078"/></linearGradient>
<linearGradient id="h10" gradientUnits="userSpaceOnUse" x1="109" y1="0" x2="598" y2="0"><stop offset="0.0000" stop-color="#6ce6df"/><stop offset="0.0102" stop-color="#7ae8c4"/><stop offset="0.0204" stop-color="#abf59b"/><stop offset="0.0307" stop-color="#e6ed7f"/><stop offset="0.0409" stop-color="#f7d362"/><stop offset="0.0511" stop-color="#ffb04b"/><stop offset="0.0613" stop-color="#f48346"/><stop offset="0.0716" stop-color="#f35151"/><stop offset="0.0818" stop-color="#ff6060"/><stop offset="0.0920" stop-color="#ff8787"/><stop offset="0.1022" stop-color="#faa09e"/><stop offset="0.1125" stop-color="#f2b3ac"/><stop offset="0.1227" stop-color="#fec7c6"/><stop offset="0.1329" stop-color="#ffd0d0"/><stop offset="0.1431" stop-color="#ffd6d6"/><stop offset="0.1534" stop-color="#ffdddd"/><stop offset="0.1636" stop-color="#ffe4e4"/><stop offset="0.1738" stop-color="#ffe4e4"/><stop offset="0.1840" stop-color="#ffdede"/><stop offset="0.1943" stop-color="#ffd6d6"/><stop offset="0.2045" stop-color="#ffcfcf"/><stop offset="0.2147" stop-color="#fcc3c1"/><stop offset="0.2249" stop-color="#f0b0a8"/><stop offset="0.2352" stop-color="#fd9c9a"/><stop offset="0.2454" stop-color="#ff7979"/><stop offset="0.2556" stop-color="#fa5555"/><stop offset="0.2658" stop-color="#f0614d"/><stop offset="0.2761" stop-color="#fc9842"/><stop offset="0.2863" stop-color="#ffb24c"/><stop offset="0.2965" stop-color="#fbc659"/><stop offset="0.3067" stop-color="#f5d966"/><stop offset="0.3170" stop-color="#efe972"/><stop offset="0.3272" stop-color="#ecea76"/><stop offset="0.3374" stop-color="#ede974"/><stop offset="0.3476" stop-color="#f2e26c"/><stop offset="0.3579" stop-color="#f8d060"/><stop offset="0.3681" stop-color="#faca5c"/><stop offset="0.3783" stop-color="#ffb74f"/><stop offset="0.3885" stop-color="#ffa543"/><stop offset="0.3988" stop-color="#f48446"/><stop offset="0.4090" stop-color="#f05c4e"/><stop offset="0.4192" stop-color="#f65353"/><stop offset="0.4294" stop-color="#fb5656"/><stop offset="0.4397" stop-color="#fd5757"/><stop offset="0.4499" stop-color="#fc5757"/><stop offset="0.4601" stop-color="#fb5656"/><stop offset="0.4703" stop-color="#f45252"/><stop offset="0.4806" stop-color="#f05d4d"/><stop offset="0.4908" stop-color="#f17a48"/><stop offset="0.5010" stop-color="#fc9842"/><stop offset="0.5112" stop-color="#ffad49"/><stop offset="0.5215" stop-color="#febd53"/><stop offset="0.5317" stop-color="#f9cc5d"/><stop offset="0.5419" stop-color="#f2e16c"/><stop offset="0.5521" stop-color="#e8ec7c"/><stop offset="0.5624" stop-color="#d6f38d"/><stop offset="0.5726" stop-color="#bbf898"/><stop offset="0.5828" stop-color="#a2f29e"/><stop offset="0.5930" stop-color="#83e9b5"/><stop offset="0.6033" stop-color="#74e8d0"/><stop offset="0.6135" stop-color="#68e4e4"/><stop offset="0.6237" stop-color="#58daf3"/><stop offset="0.6339" stop-color="#3fcafb"/><stop offset="0.6442" stop-color="#30c0ff"/><stop offset="0.6544" stop-color="#23b7ff"/><stop offset="0.6646" stop-color="#17abfe"/><stop offset="0.6748" stop-color="#149afb"/><stop offset="0.6851" stop-color="#108af8"/><stop offset="0.6953" stop-color="#1281f6"/><stop offset="0.7055" stop-color="#1579f3"/><stop offset="0.7157" stop-color="#1772f1"/><stop offset="0.7260" stop-color="#196cef"/><stop offset="0.7362" stop-color="#1b67ed"/><stop offset="0.7464" stop-color="#1d62eb"/><stop offset="0.7566" stop-color="#1e5eea"/><stop offset="0.7669" stop-color="#2059e8"/><stop offset="0.7771" stop-color="#1d51e6"/><stop offset="0.7873" stop-color="#1849e3"/><stop offset="0.7975" stop-color="#1440e0"/><stop offset="0.8078" stop-color="#1037dd"/><stop offset="0.8180" stop-color="#0b2fda"/><stop offset="0.8282" stop-color="#0827d7"/><stop offset="0.8384" stop-color="#0724d5"/><stop offset="0.8487" stop-color="#0520d3"/><stop offset="0.8589" stop-color="#041cd0"/><stop offset="0.8691" stop-color="#0318cd"/><stop offset="0.8793" stop-color="#0114ca"/><stop offset="0.8896" stop-color="#010fc7"/><stop offset="0.8998" stop-color="#080cc4"/><stop offset="0.9100" stop-color="#1108bf"/><stop offset="0.9202" stop-color="#1e08b2"/><stop offset="0.9305" stop-color="#2d09a4"/><stop offset="0.9407" stop-color="#350995"/><stop offset="0.9509" stop-color="#14047c"/><stop offset="0.9611" stop-color="#0f027a"/><stop offset="0.9714" stop-color="#0e027a"/><stop offset="0.9816" stop-color="#0d0179"/><stop offset="0.9918" stop-color="#0b0078"/><stop offset="1.0000" stop-color="#0a0078"/></linearGradient>
<linearGradient id="h11" gradientUnits="userSpaceOnUse" x1="109" y1="0" x2="598" y2="0"><stop offset="0.0000" stop-color="#6ce6df"/><stop offset="0.0102" stop-color="#7ae8c4"/><stop offset="0.0204" stop-color="#abf59b"/><stop offset="0.0307" stop-color="#e6ed7f"/><stop offset="0.0409" stop-color="#f7d362"/><stop offset="0.0511" stop-color="#ffb04b"/><stop offset="0.0613" stop-color="#f48346"/><stop offset="0.0716" stop-color="#f35151"/><stop offset="0.0818" stop-color="#ff6060"/><stop offset="0.0920" stop-color="#ff8787"/><stop offset="0.1022" stop-color="#faa09e"/><stop offset="0.1125" stop-color="#f2b3ac"/><stop offset="0.1227" stop-color="#fec7c6"/><stop offset="0.1329" stop-color="#ffd0d0"/><stop offset="0.1431" stop-color="#ffd6d6"/><stop offset="0.1534" stop-color="#ffdddd"/><stop offset="0.1636" stop-color="#ffe4e4"/><stop offset="0.1738" stop-color="#ffe4e4"/><stop offset="0.1840" stop-color="#ffdede"/><stop offset="0.1943" stop-color="#ffd6d6"/><stop offset="0.2045" stop-color="#ffcfcf"/><stop offset="0.2147" stop-color="#fcc3c1"/><stop offset="0.2249" stop-color="#f0b0a8"/><stop offset="0.2352" stop-color="#fd9c9a"/><stop offset="0.2454" stop-color="#ff7979"/><stop offset="0.2556" stop-color="#fa5555"/><stop offset="0.2658" stop-color="#f0614d"/><stop offset="0.2761" stop-color="#fc9842"/><stop offset="0.2863" stop-color="#ffb24c"/><stop offset="0.2965" stop-color="#fbc659"/><stop offset="0.3067" stop-color="#f5d966"/><stop offset="0.3170" stop-color="#efe972"/><stop offset="0.3272" stop-color="#ecea76"/><stop offset="0.3374" stop-color="#ede974"/><stop offset="0.3476" stop-color="#f2e26c"/><stop offset="0.3579" stop-color="#f8d060"/><stop offset="0.3681" stop-color="#faca5c"/><stop offset="0.3783" stop-color="#ffb74f"/><stop offset="0.3885" stop-color="#ffa543"/><stop offset="0.3988" stop-color="#f48446"/><stop offset="0.4090" stop-color="#f05c4e"/><stop offset="0.4192" stop-color="#f65353"/><stop offset="0.4294" stop-color="#fb5656"/><stop offset="0.4397" stop-color="#fd5757"/><stop offset="0.4499" stop-color="#fc5757"/><stop offset="0.4601" stop-color="#fb5656"/><stop offset="0.4703" stop-color="#f45252"/><stop offset="0.4806" stop-color="#f05d4d"/><stop offset="0.4908" stop-color="#f17a48"/><stop offset="0.5010" stop-color="#fc9842"/><stop offset="0.5112" stop-color="#ffad49"/><stop offset="0.5215" stop-color="#febd53"/><stop offset="0.5317" stop-color="#f9cc5d"/><stop offset="0.5419" stop-color="#f2e16c"/><stop offset="0.5521" stop-color="#e8ec7c"/><stop offset="0.5624" stop-color="#d6f38d"/><stop offset="0.5726" stop-color="#bbf898"/><stop offset="0.5828" stop-color="#a2f29e"/><stop offset="0.5930" stop-color="#83e9b5"/><stop offset="0.6033" stop-color="#74e8d0"/><stop offset="0.6135" stop-color="#68e4e4"/><stop offset="0.6237" stop-color="#58daf3"/><stop offset="0.6339" stop-color="#3fcafb"/><stop offset="0.6442" stop-color="#30c0ff"/><stop offset="0.6544" stop-color="#23b7ff"/><stop offset="0.6646" stop-color="#17abfe"/><stop offset="0.6748" stop-color="#149afb"/><stop offset="0.6851" stop-color="#108af8"/><stop offset="0.6953" stop-color="#1281f6"/><stop offset="0.7055" stop-color="#1579f3"/><stop offset="0.7157" stop-color="#1772f1"/><stop offset="0.7260" stop-color="#196cef"/><stop offset="0.7362" stop-color="#1b67ed"/><stop offset="0.7464" stop-color="#1d62eb"/><stop offset="0.7566" stop-color="#1e5eea"/><stop offset="0.7669" stop-color="#2059e8"/><stop offset="0.7771" stop-color="#1d51e6"/><stop offset="0.7873" stop-color="#1849e3"/><stop offset="0.7975" stop-color="#1440e0"/><stop offset="0.8078" stop-color="#1037dd"/><stop offset="0.8180" stop-color="#0b2fda"/><stop offset="0.8282" stop-color="#0827d7"/><stop offset="0.8384" stop-color="#0724d5"/><stop offset="0.8487" stop-color="#0520d3"/><stop offset="0.8589" stop-color="#041cd0"/><stop offset="0.8691" stop-color="#0318cd"/><stop offset="0.8793" stop-color="#0114ca"/><stop offset="0.8896" stop-color="#010fc7"/><stop offset="0.8998" stop-color="#080cc4"/><stop offset="0.9100" stop-color="#1108bf"/><stop offset="0.9202" stop-color="#1e08b2"/><stop offset="0.9305" stop-color="#2d09a4"/><stop offset="0.9407" stop-color="#350995"/><stop offset="0.9509" stop-color="#14047c"/><stop offset="0.9611" stop-color="#0f027a"/><stop offset="0.9714" stop-color="#0e027a"/><stop offset="0.9816" stop-color="#0d0179"/><stop offset="0.9918" stop-color="#0b0078"/><stop offset="1.0000" stop-color="#0a0078"/></linearGradient>
<linearGradient id="h12" gradientUnits="userSpaceOnUse" x1="109" y1="0" x2="598" y2="0"><stop offset="0.0000" stop-color="#6ce6df"/><stop offset="0.0102" stop-color="#7ae8c4"/><stop offset="0.0204" stop-color="#abf59b"/><stop offset="0.0307" stop-color="#e6ed7f"/><stop offset="0.0409" stop-color="#f7d362"/><stop offset="0.0511" stop-color="#ffb04b"/><stop offset="0.0613" stop-color="#f48346"/><stop offset="0.0716" stop-color="#f35151"/><stop offset="0.0818" stop-color="#ff6060"/><stop offset="0.0920" stop-color="#ff8787"/><stop offset="0.1022" stop-color="#faa09e"/><stop offset="0.1125" stop-color="#f2b3ac"/><stop offset="0.1227" stop-color="#fec7c6"/><stop offset="0.1329" stop-color="#ffd0d0"/><stop offset="0.1431" stop-color="#ffd6d6"/><stop offset="0.1534" stop-color="#ffdddd"/><stop offset="0.1636" stop-color="#ffe4e4"/><stop offset="0.1738" stop-color="#ffe4e4"/><stop offset="0.1840" stop-color="#ffdede"/><stop offset="0.1943" stop-color="#ffd6d6"/><stop offset="0.2045" stop-color="#ffcfcf"/><stop offset="0.2147" stop-color="#fcc3c1"/><stop offset="0.2249" stop-color="#f0b0a8"/><stop offset="0.2352" stop-color="#fd9c9a"/><stop offset="0.2454" stop-color="#ff7979"/><stop offset="0.2556" stop-color="#fa5555"/><stop offset="0.2658" stop-color="#f0614d"/><stop offset="0.2761" stop-color="#fc9842"/><stop offset="0.2863" stop-color="#ffb24c"/><stop offset="0.2965" stop-color="#fbc659"/><stop offset="0.3067" stop-color="#f5d966"/><stop offset="0.3170" stop-color="#efe972"/><stop offset="0.3272" stop-color="#ecea76"/><stop offset="0.3374" stop-color="#ede974"/><stop offset="0.3476" stop-color="#f2e26c"/><stop offset="0.3579" stop-color="#f8d060"/><stop offset="0.3681" stop-color="#faca5c"/><stop offset="0.3783" stop-color="#ffb74f"/><stop offset="0.3885" stop-color="#ffa543"/><stop offset="0.3988" stop-color="#f48446"/><stop offset="0.4090" stop-color="#f05c4e"/><stop offset="0.4192" stop-color="#f65353"/><stop offset="0.4294" stop-color="#fb5656"/><stop offset="0.4397" stop-color="#fd5757"/><stop offset="0.4499" stop-color="#fc5757"/><stop offset="0.4601" stop-color="#fb5656"/><stop offset="0.4703" stop-color="#f45252"/><stop offset="0.4806" stop-color="#f05d4d"/><stop offset="0.4908" stop-color="#f17a48"/><stop offset="0.5010" stop-color="#fc9842"/><stop offset="0.5112" stop-color="#ffad49"/><stop offset="0.5215" stop-color="#febd53"/><stop offset="0.5317" stop-color="#f9cc5d"/><stop offset="0.5419" stop-color="#f2e16c"/><stop offset="0.5521" stop-color="#e8ec7c"/><stop offset="0.5624" stop-color="#d6f38d"/><stop offset="0.5726" stop-color="#bbf898"/><stop offset="0.5828" stop-color="#a2f29e"/><stop offset="0.5930" stop-color="#83e9b5"/><stop offset="0.6033" stop-color="#74e8d0"/><stop offset="0.6135" stop-color="#68e4e4"/><stop offset="0.6237" stop-color="#58daf3"/><stop offset="0.6339" stop-color="#3fcafb"/><stop offset="0.6442" stop-color="#30c0ff"/><stop offset="0.6544" stop-color="#23b7ff"/><stop offset="0.6646" stop-color="#17abfe"/><stop offset="0.6748" stop-color="#149afb"/><stop offset="0.6851" stop-color="#108af8"/><stop offset="0.6953" stop-color="#1281f6"/><stop offset="0.7055" stop-color="#1579f3"/><stop offset="0.7157" stop-color="#1772f1"/><stop offset="0.7260" stop-color="#196cef"/><stop offset="0.7362" stop-color="#1b67ed"/><stop offset="0.7464" stop-color="#1d62eb"/><stop offset="0.7566" stop-color="#1e5eea"/><stop offset="0.7669" stop-color="#2059e8"/><stop offset="0.7771" stop-color="#1d51e6"/><stop offset="0.7873" stop-color="#1849e3"/><stop offset="0.7975" stop-color="#1440e0"/><stop offset="0.8078" stop-color="#1037dd"/><stop offset="0.8180" stop-color="#0b2fda"/><stop offset="0.8282" stop-color="#0827d7"/><stop offset="0.8384" stop-color="#0724d5"/><stop offset="0.8487" stop-color="#0520d3"/><stop offset="0.8589" stop-color="#041cd0"/><stop offset="0.8691" stop-color="#0318cd"/><stop offset="0.8793" stop-color="#0114ca"/><stop offset="0.8896" stop-color="#010fc7"/><stop offset="0.8998" stop-color="#080cc4"/><stop offset="0.9100" stop-color="#1108bf"/><stop offset="0.9202" stop-color="#1e08b2"/><stop offset="0.9305" stop-color="#2d09a4"/><stop offset="0.9407" stop-color="#350995"/><stop offset="0.9509" stop-color="#14047c"/><stop offset="0.9611" stop-color="#0f027a"/><stop offset="0.9714" stop-color="#0e027a"/><stop offset="0.9816" stop-color="#0d0179"/><stop offset="0.9918" stop-color="#0b0078"/><stop offset="1.0000" stop-color="#0a0078"/></linearGradient>
<linearGradient id="h13" gradientUnits="userSpaceOnUse" x1="109" y1="0" x2="598" y2="0"><stop offset="0.0000" stop-color="#6ce6df"/><stop offset="0.0102" stop-color="#7ae8c4"/><stop offset="0.0204" stop-color="#abf59b"/><stop offset="0.0307" stop-color="#e6ed7f"/><stop offset="0.0409" stop-color="#f7d362"/><stop offset="0.0511" stop-color="#ffb04b"/><stop offset="0.0613" stop-color="#f48346"/><stop offset="0.0716" stop-color="#f35151"/><stop offset="0.0818" stop-color="#ff6060"/><stop offset="0.0920" stop-color="#ff8787"/><stop offset="0.1022" stop-color="#faa09e"/><stop offset="0.1125" stop-color="#f2b3ac"/><stop offset="0.1227" stop-color="#fec7c6"/><stop offset="0.1329" stop-color="#ffd0d0"/><stop offset="0.1431" stop-color="#ffd6d6"/><stop offset="0.1534" stop-color="#ffdddd"/><stop offset="0.1636" stop-color="#ffe4e4"/><stop offset="0.1738" stop-color="#ffe4e4"/><stop offset="0.1840" stop-color="#ffdede"/><stop offset="0.1943" stop-color="#ffd6d6"/><stop offset="0.2045" stop-color="#ffcfcf"/><stop offset="0.2147" stop-color="#fcc3c1"/><stop offset="0.2249" stop-color="#f0b0a8"/><stop offset="0.2352" stop-color="#fd9c9b"/><stop offset="0.2454" stop-color="#ff7979"/><stop offset="0.2556" stop-color="#fa5555"/><stop offset="0.2658" stop-color="#f0614d"/><stop offset="0.2761" stop-color="#fc9842"/><stop offset="0.2863" stop-color="#ffb24c"/><stop offset="0.2965" stop-color="#fbc659"/><stop offset="0.3067" stop-color="#f5d966"/><stop offset="0.3170" stop-color="#efe972"/><stop offset="0.3272" stop-color="#ecea76"/><stop offset="0.3374" stop-color="#ede974"/><stop offset="0.3476" stop-color="#f2e26c"/><stop offset="0.3579" stop-color="#f8d060"/><stop offset="0.3681" stop-color="#faca5c"/><stop offset="0.3783" stop-color="#ffb74f"/><stop offset="0.3885" stop-color="#ffa543"/><stop offset="0.3988" stop-color="#f58446"/><stop offset="0.4090" stop-color="#f05c4e"/><stop offset="0.4192" stop-color="#f65353"/><stop offset="0.4294" stop-color="#fb5656"/><stop offset="0.4397" stop-color="#fd5757"/><stop offset="0.4499" stop-color="#fc5757"/><stop offset="0.4601" stop-color="#fb5656"/><stop offset="0.4703" stop-color="#f45252"/><stop offset="0.4806" stop-color="#f05d4d"/><stop offset="0.4908" stop-color="#f17a48"/><stop offset="0.5010" stop-color="#fc9842"/><stop offset="0.5112" stop-color="#ffad49"/><stop offset="0.5215" stop-color="#febd53"/><stop offset="0.5317" stop-color="#f9cc5d"/><stop offset="0.5419" stop-color="#f2e16c"/><stop offset="0.5521" stop-color="#e8ec7c"/><stop offset="0.5624" stop-color="#d6f38d"/><stop offset="0.5726" stop-color="#bbf898"/><stop offset="0.5828" stop-color="#a2f29e"/><stop offset="0.5930" stop-color="#83e9b5"/><stop offset="0.6033" stop-color="#74e8d0"/><stop offset="0.6135" stop-color="#68e4e4"/><stop offset="0.6237" stop-color="#58daf3"/><stop offset="0.6339" stop-color="#3fcafb"/><stop offset="0.6442" stop-color="#30c0ff"/><stop offset="0.6544" stop-color="#23b7ff"/><stop offset="0.6646" stop-color="#17abfe"/><stop offset="0.6748" stop-color="#149afb"/><stop offset="0.6851" stop-color="#108af8"/><stop offset="0.6953" stop-color="#1281f6"/><stop offset="0.7055" stop-color="#1579f3"/><stop offset="0.7157" stop-color="#1772f1"/><stop offset="0.7260" stop-color="#196cef"/><stop offset="0.7362" stop-color="#1b67ed"/><stop offset="0.7464" stop-color="#1d62eb"/><stop offset="0.7566" stop-color="#1e5eea"/><stop offset="0.7669" stop-color="#2059e8"/><stop offset="0.7771" stop-color="#1d51e6"/><stop offset="0.7873" stop-color="#1849e3"/><stop offset="0.7975" stop-color="#1440e0"/><stop offset="0.8078" stop-color="#1037dd"/><stop offset="0.8180" stop-color="#0b2fda"/><stop offset="0.8282" stop-color="#0827d7"/><stop offset="0.8384" stop-color="#0724d5"/><stop offset="0.8487" stop-color="#0520d3"/><stop offset="0.8589" stop-color="#041cd0"/><stop offset="0.8691" stop-color="#0318cd"/><stop offset="0.8793" stop-color="#0114ca"/><stop offset="0.8896" stop-color="#010fc7"/><stop offset="0.8998" stop-color="#080cc4"/><stop offset="0.9100" stop-color="#1108bf"/><stop offset="0.9202" stop-color="#1e08b2"/><stop offset="0.9305" stop-color="#2d09a4"/><stop offset="0.9407" stop-color="#350995"/><stop offset="0.9509" stop-color="#14047c"/><stop offset="0.9611" stop-color="#0f027a"/><stop offset="0.9714" stop-color="#0e027a"/><stop offset="0.9816" stop-color="#0d0179"/><stop offset="0.9918" stop-color="#0b0078"/><stop offset="1.0000" stop-color="#0a0078"/></linearGradient>
<linearGradient id="h14" gradientUnits="userSpaceOnUse" x1="109" y1="0" x2="598" y2="0"><stop offset="0.0000" stop-color="#6ce6df"/><stop offset="0.0102" stop-color="#7ae8c4"/><stop offset="0.0204" stop-color="#abf59b"/><stop offset="0.0307" stop-color="#e6ed7f"/><stop offset="0.0409" stop-color="#f7d362"/><stop offset="0.0511" stop-color="#ffb04b"/><stop offset="0.0613" stop-color="#f48346"/><stop offset="0.0716" stop-color="#f35151"/><stop offset="0.0818" stop-color="#ff6060"/><stop offset="0.0920" stop-color="#ff8787"/><stop offset="0.1022" stop-color="#faa09e"/><stop offset="0.1125" stop-color="#f2b3ac"/><stop offset="0.1227" stop-color="#fec7c6"/><stop offset="0.1329" stop-color="#ffd0d0"/><stop offset="0.1431" stop-color="#ffd6d6"/><stop offset="0.1534" stop-color="#ffdddd"/><stop offset="0.1636" stop-color="#ffe4e4"/><stop offset="0.1738" stop-color="#ffe5e5"/><stop offset="0.1840" stop-color="#ffdfdf"/><stop offset="0.1943" stop-color="#ffd6d6"/><stop offset="0.2045" stop-color="#ffcfcf"/><stop offset="0.2147" stop-color="#fdc4c3"/><stop offset="0.2249" stop-color="#f1b2ab"/><stop offset="0.2352" stop-color="#fa9f9d"/><stop offset="0.2454" stop-color="#ff8282"/><stop offset="0.2556" stop-color="#fe5858"/><stop offset="0.2658" stop-color="#f0544f"/><stop offset="0.2761" stop-color="#f78a44"/><stop offset="0.2863" stop-color="#ffab48"/><stop offset="0.2965" stop-color="#fcc156"/><stop offset="0.3067" stop-color="#f6d563"/><stop offset="0.3170" stop-color="#f0e76f"/><stop offset="0.3272" stop-color="#eee973"/><stop offset="0.3374" stop-color="#efe972"/><stop offset="0.3476" stop-color="#f3df6a"/><stop offset="0.3579" stop-color="#f9ce5f"/><stop offset="0.3681" stop-color="#fac95b"/><stop offset="0.3783" stop-color="#ffb74f"/><stop offset="0.3885" stop-color="#ffa644"/><stop offset="0.3988" stop-color="#f78c44"/><stop offset="0.4090" stop-color="#f0664c"/><stop offset="0.4192" stop-color="#f25151"/><stop offset="0.4294" stop-color="#f75454"/><stop offset="0.4397" stop-color="#f95555"/><stop offset="0.4499" stop-color="#f95555"/><stop offset="0.4601" stop-color="#f85454"/><stop offset="0.4703" stop-color="#f25151"/><stop offset="0.4806" stop-color="#f0654c"/><stop offset="0.4908" stop-color="#f38046"/><stop offset="0.5010" stop-color="#fd9c41"/><stop offset="0.5112" stop-color="#ffae49"/><stop offset="0.5215" stop-color="#febd53"/><stop offset="0.5317" stop-color="#f9cc5d"/><stop offset="0.5419" stop-color="#f2e16c"/><stop offset="0.5521" stop-color="#e8ec7c"/><stop offset="0.5624" stop-color="#d6f38d"/><stop offset="0.5726" stop-color="#bbf898"/><stop offset="0.5828" stop-color="#a2f29e"/><stop offset="0.5930" stop-color="#83e9b5"/><stop offset="0.6033" stop-color="#74e8d0"/><stop offset="0.6135" stop-color="#68e4e4"/><stop offset="0.6237" stop-color="#58daf3"/><stop offset="0.6339" stop-color="#3fcafb"/><stop offset="0.6442" stop-color="#30c0ff"/><stop offset="0.6544" stop-color="#23b7ff"/><stop offset="0.6646" stop-color="#17abfe"/><stop offset="0.6748" stop-color="#149afb"/><stop offset="0.6851" stop-color="#108af8"/><stop offset="0.6953" stop-color="#1281f6"/><stop offset="0.7055" stop-color="#1579f3"/><stop offset="0.7157" stop-color="#1772f1"/><stop offset="0.7260" stop-color="#196cef"/><stop offset="0.7362" stop-color="#1b67ed"/><stop offset="0.7464" stop-color="#1d62eb"/><stop offset="0.7566" stop-color="#1e5eea"/><stop offset="0.7669" stop-color="#2059e8"/><stop offset="0.7771" stop-color="#1d51e6"/><stop offset="0.7873" stop-color="#1849e3"/><stop offset="0.7975" stop-color="#1440e0"/><stop offset="0.8078" stop-color="#1037dd"/><stop offset="0.8180" stop-color="#0b2fda"/><stop offset="0.8282" stop-color="#0827d7"/><stop offset="0.8384" stop-color="#0724d5"/><stop offset="0.8487" stop-color="#0520d3"/><stop offset="0.8589" stop-color="#041cd0"/><stop offset="0.8691" stop-color="#0318cd"/><stop offset="0.8793" stop-color="#0114ca"/><stop offset="0.8896" stop-color="#010fc7"/><stop offset="0.8998" stop-color="#080cc4"/><stop offset="0.9100" stop-color="#1108bf"/><stop offset="0.9202" stop-color="#1e08b2"/><stop offset="0.9305" stop-color="#2d09a4"/><stop offset="0.9407" stop-color="#350995"/><stop offset="0.9509" stop-color="#14047c"/><stop offset="0.9611" stop-color="#0f027a"/><stop offset="0.9714" stop-color="#0e027a"/><stop offset="0.9816" stop-color="#0d0179"/><stop offset="0.9918" stop-color="#0b0078"/><stop offset="1.0000" stop-color="#0a0078"/></linearGradient>
<linearGradient id="h15" gradientUnits="userSpaceOnUse" x1="109" y1="0" x2="598" y2="0"><stop offset="0.0000" stop-color="#6ce6df"/><stop offset="0.0102" stop-color="#7ae8c4"/><stop offset="0.0204" stop-color="#abf59b"/><stop offset="0.0307" stop-color="#e6ed7f"/><stop offset="0.0409" stop-color="#f7d362"/><stop offset="0.0511" stop-color="#ffb04b"/><stop offset="0.0613" stop-color="#f48346"/><stop offset="0.0716" stop-color="#f35151"/><stop offset="0.0818" stop-color="#ff6060"/><stop offset="0.0920" stop-color="#ff8787"/><stop offset="0.1022" stop-color="#faa09e"/><stop offset="0.1125" stop-color="#f2b3ac"/><stop offset="0.1227" stop-color="#fec7c6"/><stop offset="0.1329" stop-color="#ffd0d0"/><stop offset="0.1431" stop-color="#ffd6d6"/><stop offset="0.1534" stop-color="#ffdede"/><stop offset="0.1636" stop-color="#ffe6e6"/><stop offset="0.1738" stop-color="#ffe7e7"/><stop offset="0.1840" stop-color="#ffe1e1"/><stop offset="0.1943" stop-color="#ffd8d8"/><stop offset="0.2045" stop-color="#ffd1d1"/><stop offset="0.2147" stop-color="#fec7c7"/><stop offset="0.2249" stop-color="#f5b8b2"/><stop offset="0.2352" stop-color="#f6a7a2"/><stop offset="0.2454" stop-color="#ff9090"/><stop offset="0.2556" stop-color="#ff6b6b"/><stop offset="0.2658" stop-color="#f75454"/><stop offset="0.2761" stop-color="#f06d4a"/><stop offset="0.2863" stop-color="#fe9d41"/><stop offset="0.2965" stop-color="#ffb950"/><stop offset="0.3067" stop-color="#f9cd5e"/><stop offset="0.3170" stop-color="#f3e06b"/><stop offset="0.3272" stop-color="#f1e66f"/><stop offset="0.3374" stop-color="#f1e46e"/><stop offset="0.3476" stop-color="#f5d966"/><stop offset="0.3579" stop-color="#faca5c"/><stop offset="0.3681" stop-color="#fbc75a"/><stop offset="0.3783" stop-color="#ffb64f"/><stop offset="0.3885" stop-color="#ffaa47"/><stop offset="0.3988" stop-color="#fe9c41"/><stop offset="0.4090" stop-color="#f17a48"/><stop offset="0.4192" stop-color="#f0604d"/><stop offset="0.4294" stop-color="#f05050"/><stop offset="0.4397" stop-color="#f25151"/><stop offset="0.4499" stop-color="#f25151"/><stop offset="0.4601" stop-color="#f25151"/><stop offset="0.4703" stop-color="#f05e4d"/><stop offset="0.4806" stop-color="#f07449"/><stop offset="0.4908" stop-color="#f88c44"/><stop offset="0.5010" stop-color="#ffa241"/><stop offset="0.5112" stop-color="#ffb04b"/><stop offset="0.5215" stop-color="#fdbd53"/><stop offset="0.5317" stop-color="#f9cc5d"/><stop offset="0.5419" stop-color="#f2e16c"/><stop offset="0.5521" stop-color="#e8ec7c"/><stop offset="0.5624" stop-color="#d6f38d"/><stop offset="0.5726" stop-color="#bbf898"/><stop offset="0.5828" stop-color="#a2f29e"/><stop offset="0.5930" stop-color="#83e9b5"/><stop offset="0.6033" stop-color="#74e8d0"/><stop offset="0.6135" stop-color="#68e4e4"/><stop offset="0.6237" stop-color="#58daf3"/><stop offset="0.6339" stop-color="#3fcafb"/><stop offset="0.6442" stop-color="#30c0ff"/><stop offset="0.6544" stop-color="#23b7ff"/><stop offset="0.6646" stop-color="#17abfe"/><stop offset="0.6748" stop-color="#149afb"/><stop offset="0.6851" stop-color="#108af8"/><stop offset="0.6953" stop-color="#1281f6"/><stop offset="0.7055" stop-color="#1579f3"/><stop offset="0.7157" stop-color="#1772f1"/><stop offset="0.7260" stop-color="#196cef"/><stop offset="0.7362" stop-color="#1b67ed"/><stop offset="0.7464" stop-color="#1d62eb"/><stop offset="0.7566" stop-color="#1e5eea"/><stop offset="0.7669" stop-color="#2059e8"/><stop offset="0.7771" stop-color="#1d51e6"/><stop offset="0.7873" stop-color="#1849e3"/><stop offset="0.7975" stop-color="#1440e0"/><stop offset="0.8078" stop-color="#1037dd"/><stop offset="0.8180" stop-color="#0b2fda"/><stop offset="0.8282" stop-color="#0827d7"/><stop offset="0.8384" stop-color="#0724d5"/><stop offset="0.8487" stop-color="#0520d3"/><stop offset="0.8589" stop-color="#041cd0"/><stop offset="0.8691" stop-color="#0318cd"/><stop offset="0.8793" stop-color="#0114ca"/><stop offset="0.8896" stop-color="#010fc7"/><stop offset="0.8998" stop-color="#080cc4"/><stop offset="0.9100" stop-color="#1108bf"/><stop offset="0.9202" stop-color="#1e08b2"/><stop offset="0.9305" stop-color="#2d09a4"/><stop offset="0.9407" stop-color="#350995"/><stop offset="0.9509" stop-color="#14047c"/><stop offset="0.9611" stop-color="#0f027a"/><stop offset="0.9714" stop-color="#0e027a"/><stop offset="0.9816" stop-color="#0d0179"/><stop offset="0.9918" stop-color="#0b0078"/><stop offset="1.0000" stop-color="#0a0078"/></linearGradient>
<linearGradient id="h16" gradientUnits="userSpaceOnUse" x1="109" y1="0" x2="598" y2="0"><stop offset="0.0000" stop-color="#6ce6df"/><stop offset="0.0102" stop-color="#7ae8c4"/><stop offset="0.0204" stop-color="#abf59b"/><stop offset="0.0307" stop-color="#e6ed7f"/><stop offset="0.0409" stop-color="#f7d362"/><stop offset="0.0511" stop-color="#ffb04b"/><stop offset="0.0613" stop-color="#f48346"/><stop offset="0.0716" stop-color="#f35151"/><stop offset="0.0818" stop-color="#ff6060"/><stop offset="0.0920" stop-color="#ff8787"/><stop offset="0.1022" stop-color="#faa09e"/><stop offset="0.1125" stop-color="#f2b3ac"/><stop offset="0.1227" stop-color="#fec7c6"/><stop offset="0.1329" stop-color="#ffd0d0"/><stop offset="0.1431" stop-color="#ffd6d6"/><stop offset="0.1534" stop-color="#ffdfdf"/><stop offset="0.1636" stop-color="#ffe7e7"/><stop offset="0.1738" stop-color="#ffe9e9"/><stop offset="0.1840" stop-color="#ffe3e3"/><stop offset="0.1943" stop-color="#ffdada"/><stop offset="0.2045" stop-color="#ffd2d2"/><stop offset="0.2147" stop-color="#ffc9c9"/><stop offset="0.2249" stop-color="#f9bebb"/><stop offset="0.2352" stop-color="#f0b0a8"/><stop offset="0.2454" stop-color="#fb9e9c"/><stop offset="0.2556" stop-color="#ff8282"/><stop offset="0.2658" stop-color="#ff5c5c"/><stop offset="0.2761" stop-color="#f15050"/><stop offset="0.2863" stop-color="#f38046"/><stop offset="0.2965" stop-color="#ffac48"/><stop offset="0.3067" stop-color="#fbc458"/><stop offset="0.3170" stop-color="#f5d865"/><stop offset="0.3272" stop-color="#f3de69"/><stop offset="0.3374" stop-color="#f4dd69"/><stop offset="0.3476" stop-color="#f7d261"/><stop offset="0.3579" stop-color="#fbc559"/><stop offset="0.3681" stop-color="#fbc458"/><stop offset="0.3783" stop-color="#ffb64e"/><stop offset="0.3885" stop-color="#ffae4a"/><stop offset="0.3988" stop-color="#ffa845"/><stop offset="0.4090" stop-color="#fa9243"/><stop offset="0.4192" stop-color="#f17c47"/><stop offset="0.4294" stop-color="#f06c4a"/><stop offset="0.4397" stop-color="#f0664c"/><stop offset="0.4499" stop-color="#f0674b"/><stop offset="0.4601" stop-color="#f0644c"/><stop offset="0.4703" stop-color="#f07449"/><stop offset="0.4806" stop-color="#f68845"/><stop offset="0.4908" stop-color="#fd9b41"/><stop offset="0.5010" stop-color="#ffa644"/><stop offset="0.5112" stop-color="#ffb24c"/><stop offset="0.5215" stop-color="#fdbe54"/><stop offset="0.5317" stop-color="#f9cc5d"/><stop offset="0.5419" stop-color="#f2e16c"/><stop offset="0.5521" stop-color="#e8ec7c"/><stop offset="0.5624" stop-color="#d6f38d"/><stop offset="0.5726" stop-color="#bbf898"/><stop offset="0.5828" stop-color="#a2f29e"/><stop offset="0.5930" stop-color="#83e9b5"/><stop offset="0.6033" stop-color="#74e8d0"/><stop offset="0.6135" stop-color="#68e4e4"/><stop offset="0.6237" stop-color="#58daf3"/><stop offset="0.6339" stop-color="#3fcafb"/><stop offset="0.6442" stop-color="#30c0ff"/><stop offset="0.6544" stop-color="#23b7ff"/><stop offset="0.6646" stop-color="#17abfe"/><stop offset="0.6748" stop-color="#149afb"/><stop offset="0.6851" stop-color="#108af8"/><stop offset="0.6953" stop-color="#1281f6"/><stop offset="0.7055" stop-color="#1579f3"/><stop offset="0.7157" stop-color="#1772f1"/><stop offset="0.7260" stop-color="#196cef"/><stop offset="0.7362" stop-color="#1b67ed"/><stop offset="0.7464" stop-color="#1d62eb"/><stop offset="0.7566" stop-color="#1e5eea"/><stop offset="0.7669" stop-color="#2059e8"/><stop offset="0.7771" stop-color="#1d51e6"/><stop offset="0.7873" stop-color="#1849e3"/><stop offset="0.7975" stop-color="#1440e0"/><stop offset="0.8078" stop-color="#1037dd"/><stop offset="0.8180" stop-color="#0b2fda"/><stop offset="0.8282" stop-color="#0827d7"/><stop offset="0.8384" stop-color="#0724d5"/><stop offset="0.8487" stop-color="#0520d3"/><stop offset="0.8589" stop-color="#041cd0"/><stop offset="0.8691" stop-color="#0318cd"/><stop offset="0.8793" stop-color="#0114ca"/><stop offset="0.8896" stop-color="#010fc7"/><stop offset="0.8998" stop-color="#080cc4"/><stop offset="0.9100" stop-color="#1108bf"/><stop offset="0.9202" stop-color="#1e08b2"/><stop offset="0.9305" stop-color="#2d09a4"/><stop offset="0.9407" stop-color="#350995"/><stop offset="0.9509" stop-color="#14047c"/><stop offset="0.9611" stop-color="#0f027a"/><stop offset="0.9714" stop-color="#0e027a"/><stop offset="0.9816" stop-color="#0d0179"/><stop offset="0.9918" stop-color="#0b0078"/><stop offset="1.0000" stop-color="#0a0078"/></linearGradient>
<linearGradient id="h17" gradientUnits="userSpaceOnUse" x1="109" y1="0" x2="598" y2="0"><stop offset="0.0000" stop-color="#6ce6df"/><stop offset="0.0102" stop-color="#7ae8c4"/><stop offset="0.0204" stop-color="#abf59b"/><stop offset="0.0307" stop-color="#e6ed7f"/><stop offset="0.0409" stop-color="#f7d362"/><stop offset="0.0511" stop-color="#ffb04b"/><stop offset="0.0613" stop-color="#f48346"/><stop offset="0.0716" stop-color="#f35151"/><stop offset="0.0818" stop-color="#ff6060"/><stop offset="0.0920" stop-color="#ff8787"/><stop offset="0.1022" stop-color="#faa09e"/><stop offset="0.1125" stop-color="#f2b3ac"/><stop offset="0.1227" stop-color="#fec7c6"/><stop offset="0.1329" stop-color="#ffd0d0"/><stop offset="0.1431" stop-color="#ffd7d7"/><stop offset="0.1534" stop-color="#ffe0e0"/><stop offset="0.1636" stop-color="#ffe8e8"/><stop offset="0.1738" stop-color="#ffeaea"/><stop offset="0.1840" stop-color="#ffe5e5"/><stop offset="0.1943" stop-color="#ffdcdc"/><stop offset="0.2045" stop-color="#ffd3d3"/><stop offset="0.2147" stop-color="#ffcaca"/><stop offset="0.2249" stop-color="#fbc2c0"/><stop offset="0.2352" stop-color="#f4b6b0"/><stop offset="0.2454" stop-color="#f7a5a1"/><stop offset="0.2556" stop-color="#ff8d8d"/><stop offset="0.2658" stop-color="#ff6a6a"/><stop offset="0.2761" stop-color="#f65353"/><stop offset="0.2863" stop-color="#f0704a"/><stop offset="0.2965" stop-color="#ffa644"/><stop offset="0.3067" stop-color="#fdbf55"/><stop offset="0.3170" stop-color="#f7d362"/><stop offset="0.3272" stop-color="#f5da67"/><stop offset="0.3374" stop-color="#f5d966"/><stop offset="0.3476" stop-color="#f9ce5e"/><stop offset="0.3579" stop-color="#fcc357"/><stop offset="0.3681" stop-color="#fcc357"/><stop offset="0.3783" stop-color="#ffb54e"/><stop offset="0.3885" stop-color="#ffb14b"/><stop offset="0.3988" stop-color="#ffad49"/><stop offset="0.4090" stop-color="#ffa040"/><stop offset="0.4192" stop-color="#f78c44"/><stop offset="0.4294" stop-color="#f27c47"/><stop offset="0.4397" stop-color="#f07648"/><stop offset="0.4499" stop-color="#f07748"/><stop offset="0.4601" stop-color="#f07249"/><stop offset="0.4703" stop-color="#f38146"/><stop offset="0.4806" stop-color="#fa9343"/><stop offset="0.4908" stop-color="#ffa141"/><stop offset="0.5010" stop-color="#ffa946"/><stop offset="0.5112" stop-color="#ffb44d"/><stop offset="0.5215" stop-color="#fdbe54"/><stop offset="0.5317" stop-color="#f9cc5d"/><stop offset="0.5419" stop-color="#f2e16c"/><stop offset="0.5521" stop-color="#e8ec7c"/><stop offset="0.5624" stop-color="#d6f38d"/><stop offset="0.5726" stop-color="#bbf898"/><stop offset="0.5828" stop-color="#a2f29e"/><stop offset="0.5930" stop-color="#83e9b5"/><stop offset="0.6033" stop-color="#74e8d0"/><stop offset="0.6135" stop-color="#68e4e4"/><stop offset="0.6237" stop-color="#58daf3"/><stop offset="0.6339" stop-color="#3fcafb"/><stop offset="0.6442" stop-color="#30c0ff"/><stop offset="0.6544" stop-color="#23b7ff"/><stop offset="0.6646" stop-color="#17abfe"/><stop offset="0.6748" stop-color="#149afb"/><stop offset="0.6851" stop-color="#108af8"/><stop offset="0.6953" stop-color="#1281f6"/><stop offset="0.7055" stop-color="#1579f3"/><stop offset="0.7157" stop-color="#1772f1"/><stop offset="0.7260" stop-color="#196cef"/><stop offset="0.7362" stop-color="#1b67ed"/><stop offset="0.7464" stop-color="#1d62eb"/><stop offset="0.7566" stop-color="#1e5eea"/><stop offset="0.7669" stop-color="#2059e8"/><stop offset="0.7771" stop-color="#1d51e6"/><stop offset="0.7873" stop-color="#1849e3"/><stop offset="0.7975" stop-color="#1440e0"/><stop offset="0.8078" stop-color="#1037dd"/><stop offset="0.8180" stop-color="#0b2fda"/><stop offset="0.8282" stop-color="#0827d7"/><stop offset="0.8384" stop-color="#0724d5"/><stop offset="0.8487" stop-color="#0520d3"/><stop offset="0.8589" stop-color="#041cd0"/><stop offset="0.8691" stop-color="#0318cd"/><stop offset="0.8793" stop-color="#0114ca"/><stop offset="0.8896" stop-color="#010fc7"/><stop offset="0.8998" stop-color="#080cc4"/><stop offset="0.9100" stop-color="#1108bf"/><stop offset="0.9202" stop-color="#1e08b2"/><stop offset="0.9305" stop-color="#2d09a4"/><stop offset="0.9407" stop-color="#350995"/><stop offset="0.9509" stop-color="#14047c"/><stop offset="0.9611" stop-color="#0f027a"/><stop offset="0.9714" stop-color="#0e027a"/><stop offset="0.9816" stop-color="#0d0179"/><stop offset="0.9918" stop-color="#0b0078"/><stop offset="1.0000" stop-color="#0a0078"/></linearGradient>
<linearGradient id="h18" gradientUnits="userSpaceOnUse" x1="109" y1="0" x2="598" y2="0"><stop offset="0.0000" stop-color="#6ce6df"/><stop offset="0.0102" stop-color="#7ae8c4"/><stop offset="0.0204" stop-color="#abf59b"/><stop offset="0.0307" stop-color="#e6ed7f"/><stop offset="0.0409" stop-color="#f7d362"/><stop offset="0.0511" stop-color="#ffb04b"/><stop offset="0.0613" stop-color="#f48346"/><stop offset="0.0716" stop-color="#f35151"/><stop offset="0.0818" stop-color="#ff6060"/><stop offset="0.0920" stop-color="#ff8787"/><stop offset="0.1022" stop-color="#faa09e"/><stop offset="0.1125" stop-color="#f2b3ac"/><stop offset="0.1227" stop-color="#fec7c6"/><stop offset="0.1329" stop-color="#ffd0d0"/><stop offset="0.1431" stop-color="#ffd7d7"/><stop offset="0.1534" stop-color="#ffe0e0"/><stop offset="0.1636" stop-color="#ffe8e8"/><stop offset="0.1738" stop-color="#ffeaea"/><stop offset="0.1840" stop-color="#ffe5e5"/><stop offset="0.1943" stop-color="#ffdcdc"/><stop offset="0.2045" stop-color="#ffd3d3"/><stop offset="0.2147" stop-color="#ffcbcb"/><stop offset="0.2249" stop-color="#fcc3c1"/><stop offset="0.2352" stop-color="#f5b7b2"/><stop offset="0.2454" stop-color="#f6a7a2"/><stop offset="0.2556" stop-color="#ff9090"/><stop offset="0.2658" stop-color="#ff6d6d"/><stop offset="0.2761" stop-color="#f75454"/><stop offset="0.2863" stop-color="#f0704a"/><stop offset="0.2965" stop-color="#ffa644"/><stop offset="0.3067" stop-color="#fdbf55"/><stop offset="0.3170" stop-color="#f7d261"/><stop offset="0.3272" stop-color="#f5d966"/><stop offset="0.3374" stop-color="#f5d865"/><stop offset="0.3476" stop-color="#f9cd5e"/><stop offset="0.3579" stop-color="#fcc357"/><stop offset="0.3681" stop-color="#fcc357"/><stop offset="0.3783" stop-color="#ffb54e"/><stop offset="0.3885" stop-color="#ffb04a"/><stop offset="0.3988" stop-color="#ffac48"/><stop offset="0.4090" stop-color="#ffa040"/><stop offset="0.4192" stop-color="#f88e44"/><stop offset="0.4294" stop-color="#f38046"/><stop offset="0.4397" stop-color="#f17a48"/><stop offset="0.4499" stop-color="#f17b47"/><stop offset="0.4601" stop-color="#f07549"/><stop offset="0.4703" stop-color="#f38146"/><stop offset="0.4806" stop-color="#f99143"/><stop offset="0.4908" stop-color="#ffa040"/><stop offset="0.5010" stop-color="#ffa745"/><stop offset="0.5112" stop-color="#ffb24c"/><stop offset="0.5215" stop-color="#fdbd54"/><stop offset="0.5317" stop-color="#f9cc5d"/><stop offset="0.5419" stop-color="#f2e16c"/><stop offset="0.5521" stop-color="#e8ec7c"/><stop offset="0.5624" stop-color="#d6f38d"/><stop offset="0.5726" stop-color="#bbf898"/><stop offset="0.5828" stop-color="#a2f29e"/><stop offset="0.5930" stop-color="#83e9b5"/><stop offset="0.6033" stop-color="#74e8d0"/><stop offset="0.6135" stop-color="#68e4e4"/><stop offset="0.6237" stop-color="#58dbf3"/><stop offset="0.6339" stop-color="#40cafa"/><stop offset="0.6442" stop-color="#31c1ff"/><stop offset="0.6544" stop-color="#23b8ff"/><stop offset="0.6646" stop-color="#17adff"/><stop offset="0.6748" stop-color="#149efc"/><stop offset="0.6851" stop-color="#118ef9"/><stop offset="0.6953" stop-color="#1184f7"/><stop offset="0.7055" stop-color="#147cf4"/><stop offset="0.7157" stop-color="#1675f2"/><stop offset="0.7260" stop-color="#186ff0"/><stop offset="0.7362" stop-color="#1a6aee"/><stop offset="0.7464" stop-color="#1b66ed"/><stop offset="0.7566" stop-color="#1d61eb"/><stop offset="0.7669" stop-color="#1e5dea"/><stop offset="0.7771" stop-color="#2058e8"/><stop offset="0.7873" stop-color="#1c50e5"/><stop offset="0.7975" stop-color="#1747e2"/><stop offset="0.8078" stop-color="#133ddf"/><stop offset="0.8180" stop-color="#0e33dc"/><stop offset="0.8282" stop-color="#0829d8"/><stop offset="0.8384" stop-color="#0725d6"/><stop offset="0.8487" stop-color="#0621d3"/><stop offset="0.8589" stop-color="#041dd1"/><stop offset="0.8691" stop-color="#0319ce"/><stop offset="0.8793" stop-color="#0114cb"/><stop offset="0.8896" stop-color="#010fc7"/><stop offset="0.8998" stop-color="#080cc4"/><stop offset="0.9100" stop-color="#1108bf"/><stop offset="0.9202" stop-color="#1d08b3"/><stop offset="0.9305" stop-color="#2c08a5"/><stop offset="0.9407" stop-color="#3a0a98"/><stop offset="0.9509" stop-color="#18057f"/><stop offset="0.9611" stop-color="#11037b"/><stop offset="0.9714" stop-color="#0f027a"/><stop offset="0.9816" stop-color="#0e0179"/><stop offset="0.9918" stop-color="#0c0179"/><stop offset="1.0000" stop-color="#0b0078"/></linearGradient>
<linearGradient id="h19" gradientUnits="userSpaceOnUse" x1="109" y1="0" x2="598" y2="0"><stop offset="0.0000" stop-color="#6ce6df"/><stop offset="0.0102" stop-color="#7ae8c4"/><stop offset="0.0204" stop-color="#abf59b"/><stop offset="0.0307" stop-color="#e6ed7f"/><stop offset="0.0409" stop-color="#f7d362"/><stop offset="0.0511" stop-color="#ffb04b"/><stop offset="0.0613" stop-color="#f48346"/><stop offset="0.0716" stop-color="#f35151"/><stop offset="0.0818" stop-color="#ff6060"/><stop offset="0.0920" stop-color="#ff8787"/><stop offset="0.1022" stop-color="#faa09e"/><stop offset="0.1125" stop-color="#f2b3ac"/><stop offset="0.1227" stop-color="#fec7c6"/><stop offset="0.1329" stop-color="#ffd0d0"/><stop offset="0.1431" stop-color="#ffd6d6"/><stop offset="0.1534" stop-color="#ffdfdf"/><stop offset="0.1636" stop-color="#ffe7e7"/><stop offset="0.1738" stop-color="#ffe9e9"/><stop offset="0.1840" stop-color="#ffe4e4"/><stop offset="0.1943" stop-color="#ffdbdb"/><stop offset="0.2045" stop-color="#ffd3d3"/><stop offset="0.2147" stop-color="#ffcaca"/><stop offset="0.2249" stop-color="#fac0bd"/><stop offset="0.2352" stop-color="#f1b2ab"/><stop offset="0.2454" stop-color="#faa19e"/><stop offset="0.2556" stop-color="#ff8787"/><stop offset="0.2658" stop-color="#ff5e5e"/><stop offset="0.2761" stop-color="#f05150"/><stop offset="0.2863" stop-color="#f68945"/><stop offset="0.2965" stop-color="#ffb14b"/><stop offset="0.3067" stop-color="#fbc659"/><stop offset="0.3170" stop-color="#f5d865"/><stop offset="0.3272" stop-color="#f4dd69"/><stop offset="0.3374" stop-color="#f4dc68"/><stop offset="0.3476" stop-color="#f8d161"/><stop offset="0.3579" stop-color="#fbc75a"/><stop offset="0.3681" stop-color="#fbc558"/><stop offset="0.3783" stop-color="#ffb44d"/><stop offset="0.3885" stop-color="#ffaa46"/><stop offset="0.3988" stop-color="#ffa241"/><stop offset="0.4090" stop-color="#f78b44"/><stop offset="0.4192" stop-color="#f17a48"/><stop offset="0.4294" stop-color="#f06e4a"/><stop offset="0.4397" stop-color="#f0694b"/><stop offset="0.4499" stop-color="#f06a4b"/><stop offset="0.4601" stop-color="#f0654c"/><stop offset="0.4703" stop-color="#f06f4a"/><stop offset="0.4806" stop-color="#f27d47"/><stop offset="0.4908" stop-color="#f88e44"/><stop offset="0.5010" stop-color="#ffa040"/><stop offset="0.5112" stop-color="#ffae49"/><stop offset="0.5215" stop-color="#febc53"/><stop offset="0.5317" stop-color="#f9cc5d"/><stop offset="0.5419" stop-color="#f2e16c"/><stop offset="0.5521" stop-color="#e8ec7c"/><stop offset="0.5624" stop-color="#d6f38d"/><stop offset="0.5726" stop-color="#bbf898"/><stop offset="0.5828" stop-color="#a2f29e"/><stop offset="0.5930" stop-color="#83e9b5"/><stop offset="0.6033" stop-color="#74e8d0"/><stop offset="0.6135" stop-color="#68e4e4"/><stop offset="0.6237" stop-color="#59dbf2"/><stop offset="0.6339" stop-color="#42ccfa"/><stop offset="0.6442" stop-color="#33c2fe"/><stop offset="0.6544" stop-color="#25b9ff"/><stop offset="0.6646" stop-color="#19b1ff"/><stop offset="0.6748" stop-color="#16a4fd"/><stop offset="0.6851" stop-color="#1396fa"/><stop offset="0.6953" stop-color="#118bf9"/><stop offset="0.7055" stop-color="#1283f6"/><stop offset="0.7157" stop-color="#147cf4"/><stop offset="0.7260" stop-color="#1676f2"/><stop offset="0.7362" stop-color="#1870f0"/><stop offset="0.7464" stop-color="#196cef"/><stop offset="0.7566" stop-color="#1b68ed"/><stop offset="0.7669" stop-color="#1c64ec"/><stop offset="0.7771" stop-color="#1d60eb"/><stop offset="0.7873" stop-color="#1f5be9"/><stop offset="0.7975" stop-color="#1e55e7"/><stop offset="0.8078" stop-color="#1949e3"/><stop offset="0.8180" stop-color="#123cdf"/><stop offset="0.8282" stop-color="#0c30db"/><stop offset="0.8384" stop-color="#0827d7"/><stop offset="0.8487" stop-color="#0623d5"/><stop offset="0.8589" stop-color="#051fd2"/><stop offset="0.8691" stop-color="#031acf"/><stop offset="0.8793" stop-color="#0215cb"/><stop offset="0.8896" stop-color="#0110c8"/><stop offset="0.8998" stop-color="#080cc4"/><stop offset="0.9100" stop-color="#1008c0"/><stop offset="0.9202" stop-color="#1c08b4"/><stop offset="0.9305" stop-color="#2a08a7"/><stop offset="0.9407" stop-color="#370a9b"/><stop offset="0.9509" stop-color="#240688"/><stop offset="0.9611" stop-color="#14047c"/><stop offset="0.9714" stop-color="#12037b"/><stop offset="0.9816" stop-color="#10027a"/><stop offset="0.9918" stop-color="#0e027a"/><stop offset="1.0000" stop-color="#0d0179"/></linearGradient>
<linearGradient id="h20" gradientUnits="userSpaceOnUse" x1="109" y1="0" x2="593" y2="0"><stop offset="0.0000" stop-color="#6ce6df"/><stop offset="0.0103" stop-color="#7ae8c4"/><stop offset="0.0207" stop-color="#abf59b"/><stop offset="0.0310" stop-color="#e6ed7f"/><stop offset="0.0413" stop-color="#f7d362"/><stop offset="0.0517" stop-color="#ffb04b"/><stop offset="0.0620" stop-color="#f48346"/><stop offset="0.0723" stop-color="#f35151"/><stop offset="0.0826" stop-color="#ff6060"/><stop offset="0.0930" stop-color="#ff8787"/><stop offset="0.1033" stop-color="#faa09e"/><stop offset="0.1136" stop-color="#f2b3ac"/><stop offset="0.1240" stop-color="#fec7c6"/><stop offset="0.1343" stop-color="#ffd0d0"/><stop offset="0.1446" stop-color="#ffd6d6"/><stop offset="0.1550" stop-color="#ffdede"/><stop offset="0.1653" stop-color="#ffe5e5"/><stop offset="0.1756" stop-color="#ffe7e7"/><stop offset="0.1860" stop-color="#ffe1e1"/><stop offset="0.1963" stop-color="#ffd7d7"/><stop offset="0.2066" stop-color="#ffd1d1"/><stop offset="0.2169" stop-color="#fec7c7"/><stop offset="0.2273" stop-color="#f5b7b2"/><stop offset="0.2376" stop-color="#f6a6a2"/><stop offset="0.2479" stop-color="#ff9292"/><stop offset="0.2583" stop-color="#ff7272"/><stop offset="0.2686" stop-color="#fa5555"/><stop offset="0.2789" stop-color="#f06e4a"/><stop offset="0.2893" stop-color="#ffa241"/><stop offset="0.2996" stop-color="#febc52"/><stop offset="0.3099" stop-color="#f8cf5f"/><stop offset="0.3202" stop-color="#f3e06a"/><stop offset="0.3306" stop-color="#f1e56e"/><stop offset="0.3409" stop-color="#f1e56e"/><stop offset="0.3512" stop-color="#f4db68"/><stop offset="0.3616" stop-color="#f8cf5f"/><stop offset="0.3719" stop-color="#fac95b"/><stop offset="0.3822" stop-color="#ffb34d"/><stop offset="0.3926" stop-color="#ffa040"/><stop offset="0.4029" stop-color="#f38046"/><stop offset="0.4132" stop-color="#f0634c"/><stop offset="0.4236" stop-color="#f05150"/><stop offset="0.4339" stop-color="#f35252"/><stop offset="0.4442" stop-color="#f45252"/><stop offset="0.4545" stop-color="#f45252"/><stop offset="0.4649" stop-color="#f45252"/><stop offset="0.4752" stop-color="#f15151"/><stop offset="0.4855" stop-color="#f05c4e"/><stop offset="0.4959" stop-color="#f07149"/><stop offset="0.5062" stop-color="#f78b44"/><stop offset="0.5165" stop-color="#ffa845"/><stop offset="0.5269" stop-color="#febb52"/><stop offset="0.5372" stop-color="#f9cc5d"/><stop offset="0.5475" stop-color="#f2e16c"/><stop offset="0.5579" stop-color="#e8ec7c"/><stop offset="0.5682" stop-color="#d6f38d"/><stop offset="0.5785" stop-color="#bbf898"/><stop offset="0.5888" stop-color="#a2f29e"/><stop offset="0.5992" stop-color="#83e9b5"/><stop offset="0.6095" stop-color="#74e8d0"/><stop offset="0.6198" stop-color="#68e4e4"/><stop offset="0.6302" stop-color="#5adcf2"/><stop offset="0.6405" stop-color="#44cdf9"/><stop offset="0.6508" stop-color="#34c3fe"/><stop offset="0.6612" stop-color="#27baff"/><stop offset="0.6715" stop-color="#1cb3ff"/><stop offset="0.6818" stop-color="#17abfe"/><stop offset="0.6921" stop-color="#149efc"/><stop offset="0.7025" stop-color="#1294fa"/><stop offset="0.7128" stop-color="#108af8"/><stop offset="0.7231" stop-color="#1283f6"/><stop offset="0.7335" stop-color="#147df4"/><stop offset="0.7438" stop-color="#1677f2"/><stop offset="0.7541" stop-color="#1773f1"/><stop offset="0.7645" stop-color="#186ff0"/><stop offset="0.7748" stop-color="#1a6bee"/><stop offset="0.7851" stop-color="#1b68ed"/><stop offset="0.7955" stop-color="#1c63ec"/><stop offset="0.8058" stop-color="#1e5dea"/><stop offset="0.8161" stop-color="#1e55e7"/><stop offset="0.8264" stop-color="#1745e2"/><stop offset="0.8368" stop-color="#1037dd"/><stop offset="0.8471" stop-color="#0a2cd9"/><stop offset="0.8574" stop-color="#0725d6"/><stop offset="0.8678" stop-color="#0621d3"/><stop offset="0.8781" stop-color="#041cd0"/><stop offset="0.8884" stop-color="#0216cc"/><stop offset="0.8988" stop-color="#0110c8"/><stop offset="0.9091" stop-color="#080cc4"/><stop offset="0.9194" stop-color="#1008c0"/><stop offset="0.9298" stop-color="#1b08b5"/><stop offset="0.9401" stop-color="#2808a8"/><stop offset="0.9504" stop-color="#33099e"/><stop offset="0.9607" stop-color="#2f0890"/><stop offset="0.9711" stop-color="#1e0684"/><stop offset="0.9814" stop-color="#16047d"/><stop offset="0.9917" stop-color="#12037b"/><stop offset="1.0000" stop-color="#11037b"/></linearGradient>
<linearGradient id="h21" gradientUnits="userSpaceOnUse" x1="109" y1="0" x2="581.25" y2="0"><stop offset="0.0000" stop-color="#6ce6df"/><stop offset="0.0106" stop-color="#7ae8c4"/><stop offset="0.0212" stop-color="#abf59b"/><stop offset="0.0318" stop-color="#e6ed7f"/><stop offset="0.0424" stop-color="#f7d362"/><stop offset="0.0529" stop-color="#ffb04b"/><stop offset="0.0635" stop-color="#f48346"/><stop offset="0.0741" stop-color="#f35151"/><stop offset="0.0847" stop-color="#ff6060"/><stop offset="0.0953" stop-color="#ff8787"/><stop offset="0.1059" stop-color="#faa09e"/><stop offset="0.1165" stop-color="#f2b3ac"/><stop offset="0.1271" stop-color="#fec7c6"/><stop offset="0.1376" stop-color="#ffd0d0"/><stop offset="0.1482" stop-color="#ffd6d6"/><stop offset="0.1588" stop-color="#ffdddd"/><stop offset="0.1694" stop-color="#ffe4e4"/><stop offset="0.1800" stop-color="#ffe5e5"/><stop offset="0.1906" stop-color="#ffdede"/><stop offset="0.2012" stop-color="#ffd6d6"/><stop offset="0.2118" stop-color="#ffcfcf"/><stop offset="0.2223" stop-color="#fcc4c2"/><stop offset="0.2329" stop-color="#f1b1aa"/><stop offset="0.2435" stop-color="#fb9e9c"/><stop offset="0.2541" stop-color="#ff8686"/><stop offset="0.2647" stop-color="#ff6767"/><stop offset="0.2753" stop-color="#f65353"/><stop offset="0.2859" stop-color="#f17b47"/><stop offset="0.2965" stop-color="#ffa745"/><stop offset="0.3070" stop-color="#fdc055"/><stop offset="0.3176" stop-color="#f7d362"/><stop offset="0.3282" stop-color="#f1e46d"/><stop offset="0.3388" stop-color="#efe972"/><stop offset="0.3494" stop-color="#eee973"/><stop offset="0.3600" stop-color="#f2e36d"/><stop offset="0.3706" stop-color="#f6d564"/><stop offset="0.3812" stop-color="#f9cc5d"/><stop offset="0.3917" stop-color="#ffb34c"/><stop offset="0.4023" stop-color="#f99143"/><stop offset="0.4129" stop-color="#f0654c"/><stop offset="0.4235" stop-color="#f35252"/><stop offset="0.4341" stop-color="#f95555"/><stop offset="0.4447" stop-color="#fc5656"/><stop offset="0.4553" stop-color="#fd5757"/><stop offset="0.4659" stop-color="#fd5757"/><stop offset="0.4764" stop-color="#fc5757"/><stop offset="0.4870" stop-color="#f95555"/><stop offset="0.4976" stop-color="#f45252"/><stop offset="0.5082" stop-color="#f0594e"/><stop offset="0.5188" stop-color="#f17a48"/><stop offset="0.5294" stop-color="#ffa241"/><stop offset="0.5400" stop-color="#feba51"/><stop offset="0.5506" stop-color="#f9cc5d"/><stop offset="0.5611" stop-color="#f2e16c"/><stop offset="0.5717" stop-color="#e8ec7c"/><stop offset="0.5823" stop-color="#d6f38d"/><stop offset="0.5929" stop-color="#bbf898"/><stop offset="0.6035" stop-color="#a2f29e"/><stop offset="0.6141" stop-color="#83e9b5"/><stop offset="0.6247" stop-color="#74e8d0"/><stop offset="0.6353" stop-color="#68e4e4"/><stop offset="0.6458" stop-color="#5bddf2"/><stop offset="0.6564" stop-color="#46cff9"/><stop offset="0.6670" stop-color="#36c4fd"/><stop offset="0.6776" stop-color="#28bbff"/><stop offset="0.6882" stop-color="#1eb4ff"/><stop offset="0.6988" stop-color="#19b0ff"/><stop offset="0.7094" stop-color="#16a6fd"/><stop offset="0.7200" stop-color="#149cfc"/><stop offset="0.7305" stop-color="#1293fa"/><stop offset="0.7411" stop-color="#108af8"/><stop offset="0.7517" stop-color="#1184f7"/><stop offset="0.7623" stop-color="#137ff5"/><stop offset="0.7729" stop-color="#157af3"/><stop offset="0.7835" stop-color="#1676f2"/><stop offset="0.7941" stop-color="#1773f1"/><stop offset="0.8047" stop-color="#186ff0"/><stop offset="0.8152" stop-color="#1a6bee"/><stop offset="0.8258" stop-color="#1c65ec"/><stop offset="0.8364" stop-color="#1e5dea"/><stop offset="0.8470" stop-color="#1b4ee5"/><stop offset="0.8576" stop-color="#133fe0"/><stop offset="0.8682" stop-color="#0d32db"/><stop offset="0.8788" stop-color="#0827d8"/><stop offset="0.8894" stop-color="#0623d5"/><stop offset="0.8999" stop-color="#041dd1"/><stop offset="0.9105" stop-color="#0217cc"/><stop offset="0.9211" stop-color="#0010c8"/><stop offset="0.9317" stop-color="#080cc4"/><stop offset="0.9423" stop-color="#1008c0"/><stop offset="0.9529" stop-color="#1a08b6"/><stop offset="0.9635" stop-color="#2508ab"/><stop offset="0.9741" stop-color="#3009a1"/><stop offset="0.9846" stop-color="#3a0a98"/><stop offset="0.9952" stop-color="#2a078c"/><stop offset="1.0000" stop-color="#250789"/></linearGradient>
<linearGradient id="h22" gradientUnits="userSpaceOnUse" x1="109" y1="0" x2="566.25" y2="0"><stop offset="0.0000" stop-color="#6ce6df"/><stop offset="0.0109" stop-color="#7ae8c4"/><stop offset="0.0219" stop-color="#abf59b"/><stop offset="0.0328" stop-color="#e6ed7f"/><stop offset="0.0437" stop-color="#f7d362"/><stop offset="0.0547" stop-color="#ffb04b"/><stop offset="0.0656" stop-color="#f48346"/><stop offset="0.0765" stop-color="#f35151"/><stop offset="0.0875" stop-color="#ff6060"/><stop offset="0.0984" stop-color="#ff8787"/><stop offset="0.1093" stop-color="#faa09e"/><stop offset="0.1203" stop-color="#f2b3ac"/><stop offset="0.1312" stop-color="#fec7c6"/><stop offset="0.1422" stop-color="#ffd0d0"/><stop offset="0.1531" stop-color="#ffd6d6"/><stop offset="0.1640" stop-color="#ffdddd"/><stop offset="0.1750" stop-color="#ffe4e4"/><stop offset="0.1859" stop-color="#ffe4e4"/><stop offset="0.1968" stop-color="#ffdede"/><stop offset="0.2078" stop-color="#ffd6d6"/><stop offset="0.2187" stop-color="#ffcfcf"/><stop offset="0.2296" stop-color="#fcc3c1"/><stop offset="0.2406" stop-color="#f0b0a8"/><stop offset="0.2515" stop-color="#fd9c9a"/><stop offset="0.2624" stop-color="#ff8686"/><stop offset="0.2734" stop-color="#ff6d6d"/><stop offset="0.2843" stop-color="#fa5555"/><stop offset="0.2952" stop-color="#f07149"/><stop offset="0.3062" stop-color="#ffa241"/><stop offset="0.3171" stop-color="#febc53"/><stop offset="0.3280" stop-color="#f8d160"/><stop offset="0.3390" stop-color="#f2e26c"/><stop offset="0.3499" stop-color="#efe871"/><stop offset="0.3609" stop-color="#eee974"/><stop offset="0.3718" stop-color="#f1e56e"/><stop offset="0.3827" stop-color="#f5d966"/><stop offset="0.3937" stop-color="#f9cd5e"/><stop offset="0.4046" stop-color="#ffb24c"/><stop offset="0.4155" stop-color="#f68845"/><stop offset="0.4265" stop-color="#f0564f"/><stop offset="0.4374" stop-color="#f75454"/><stop offset="0.4483" stop-color="#fc5757"/><stop offset="0.4593" stop-color="#ff5858"/><stop offset="0.4702" stop-color="#ff5959"/><stop offset="0.4811" stop-color="#ff5959"/><stop offset="0.4921" stop-color="#ff5858"/><stop offset="0.5030" stop-color="#fd5757"/><stop offset="0.5139" stop-color="#f85555"/><stop offset="0.5249" stop-color="#f15151"/><stop offset="0.5358" stop-color="#f06f4a"/><stop offset="0.5467" stop-color="#fe9c41"/><stop offset="0.5577" stop-color="#ffb951"/><stop offset="0.5686" stop-color="#f9cc5d"/><stop offset="0.5796" stop-color="#f2e16c"/><stop offset="0.5905" stop-color="#e8ec7c"/><stop offset="0.6014" stop-color="#d6f38d"/><stop offset="0.6124" stop-color="#bbf898"/><stop offset="0.6233" stop-color="#a2f29e"/><stop offset="0.6342" stop-color="#83e9b5"/><stop offset="0.6452" stop-color="#74e8d0"/><stop offset="0.6561" stop-color="#68e4e4"/><stop offset="0.6670" stop-color="#5cddf1"/><stop offset="0.6780" stop-color="#48d0f8"/><stop offset="0.6889" stop-color="#37c5fd"/><stop offset="0.6998" stop-color="#2abcff"/><stop offset="0.7108" stop-color="#21b6ff"/><stop offset="0.7217" stop-color="#1cb3ff"/><stop offset="0.7326" stop-color="#18aeff"/><stop offset="0.7436" stop-color="#16a5fd"/><stop offset="0.7545" stop-color="#149cfb"/><stop offset="0.7654" stop-color="#1293fa"/><stop offset="0.7764" stop-color="#118bf9"/><stop offset="0.7873" stop-color="#1186f7"/><stop offset="0.7983" stop-color="#1282f6"/><stop offset="0.8092" stop-color="#137ef5"/><stop offset="0.8201" stop-color="#147cf4"/><stop offset="0.8311" stop-color="#1578f3"/><stop offset="0.8420" stop-color="#1773f1"/><stop offset="0.8529" stop-color="#196cef"/><stop offset="0.8639" stop-color="#1c63ec"/><stop offset="0.8748" stop-color="#2057e8"/><stop offset="0.8857" stop-color="#1746e2"/><stop offset="0.8967" stop-color="#1039de"/><stop offset="0.9076" stop-color="#0a2cd9"/><stop offset="0.9185" stop-color="#0725d6"/><stop offset="0.9295" stop-color="#051fd2"/><stop offset="0.9404" stop-color="#0318cd"/><stop offset="0.9513" stop-color="#0010c8"/><stop offset="0.9623" stop-color="#070cc4"/><stop offset="0.9732" stop-color="#0f08c0"/><stop offset="0.9841" stop-color="#1908b7"/><stop offset="0.9951" stop-color="#2308ad"/><stop offset="1.0000" stop-color="#2808a8"/></linearGradient>
<linearGradient id="h23" gradientUnits="userSpaceOnUse" x1="109" y1="0" x2="551.25" y2="0"><stop offset="0.0000" stop-color="#6ce6df"/><stop offset="0.0113" stop-color="#7ae8c4"/><stop offset="0.0226" stop-color="#abf59b"/><stop offset="0.0339" stop-color="#e6ed7f"/><stop offset="0.0452" stop-color="#f7d362"/><stop offset="0.0565" stop-color="#ffb04b"/><stop offset="0.0678" stop-color="#f48346"/><stop offset="0.0791" stop-color="#f35151"/><stop offset="0.0904" stop-color="#ff6060"/><stop offset="0.1018" stop-color="#ff8787"/><stop offset="0.1131" stop-color="#faa09e"/><stop offset="0.1244" stop-color="#f2b3ac"/><stop offset="0.1357" stop-color="#fec7c6"/><stop offset="0.1470" stop-color="#ffd0d0"/><stop offset="0.1583" stop-color="#ffd6d6"/><stop offset="0.1696" stop-color="#ffdddd"/><stop offset="0.1809" stop-color="#ffe4e4"/><stop offset="0.1922" stop-color="#ffe4e4"/><stop offset="0.2035" stop-color="#ffdede"/><stop offset="0.2148" stop-color="#ffd6d6"/><stop offset="0.2261" stop-color="#ffcfcf"/><stop offset="0.2374" stop-color="#fcc3c1"/><stop offset="0.2487" stop-color="#f0b0a8"/><stop offset="0.2600" stop-color="#fd9c9a"/><stop offset="0.2713" stop-color="#ff8282"/><stop offset="0.2826" stop-color="#ff6161"/><stop offset="0.2940" stop-color="#f25151"/><stop offset="0.3053" stop-color="#fa9243"/><stop offset="0.3166" stop-color="#ffb64e"/><stop offset="0.3279" stop-color="#faca5c"/><stop offset="0.3392" stop-color="#f4db67"/><stop offset="0.3505" stop-color="#f0e870"/><stop offset="0.3618" stop-color="#eee974"/><stop offset="0.3731" stop-color="#ede974"/><stop offset="0.3844" stop-color="#f1e66f"/><stop offset="0.3957" stop-color="#f5da67"/><stop offset="0.4070" stop-color="#f9ce5f"/><stop offset="0.4183" stop-color="#ffb14b"/><stop offset="0.4296" stop-color="#f38046"/><stop offset="0.4409" stop-color="#f15151"/><stop offset="0.4522" stop-color="#fa5555"/><stop offset="0.4635" stop-color="#fe5757"/><stop offset="0.4748" stop-color="#ff5a5a"/><stop offset="0.4862" stop-color="#ff5a5a"/><stop offset="0.4975" stop-color="#ff5a5a"/><stop offset="0.5088" stop-color="#ff5a5a"/><stop offset="0.5201" stop-color="#fe5858"/><stop offset="0.5314" stop-color="#fb5656"/><stop offset="0.5427" stop-color="#f45252"/><stop offset="0.5540" stop-color="#f0664c"/><stop offset="0.5653" stop-color="#fb9642"/><stop offset="0.5766" stop-color="#ffb850"/><stop offset="0.5879" stop-color="#f9cc5d"/><stop offset="0.5992" stop-color="#f2e16c"/><stop offset="0.6105" stop-color="#e8ec7c"/><stop offset="0.6218" stop-color="#d6f38d"/><stop offset="0.6331" stop-color="#bbf898"/><stop offset="0.6444" stop-color="#a2f29e"/><stop offset="0.6557" stop-color="#83e9b5"/><stop offset="0.6670" stop-color="#74e8d0"/><stop offset="0.6783" stop-color="#68e4e4"/><stop offset="0.6897" stop-color="#5ddef1"/><stop offset="0.7010" stop-color="#4bd2f7"/><stop offset="0.7123" stop-color="#39c6fc"/><stop offset="0.7236" stop-color="#2cbdff"/><stop offset="0.7349" stop-color="#24b8ff"/><stop offset="0.7462" stop-color="#1fb5ff"/><stop offset="0.7575" stop-color="#1bb2ff"/><stop offset="0.7688" stop-color="#17adff"/><stop offset="0.7801" stop-color="#16a5fd"/><stop offset="0.7914" stop-color="#149dfc"/><stop offset="0.8027" stop-color="#1395fa"/><stop offset="0.8140" stop-color="#118ff9"/><stop offset="0.8253" stop-color="#108af8"/><stop offset="0.8366" stop-color="#1186f7"/><stop offset="0.8479" stop-color="#1184f7"/><stop offset="0.8592" stop-color="#1281f6"/><stop offset="0.8705" stop-color="#147cf4"/><stop offset="0.8819" stop-color="#1774f1"/><stop offset="0.8932" stop-color="#1a69ee"/><stop offset="0.9045" stop-color="#1f5ce9"/><stop offset="0.9158" stop-color="#1b4de4"/><stop offset="0.9271" stop-color="#143fe0"/><stop offset="0.9384" stop-color="#0d32db"/><stop offset="0.9497" stop-color="#0827d7"/><stop offset="0.9610" stop-color="#0520d3"/><stop offset="0.9723" stop-color="#0318ce"/><stop offset="0.9836" stop-color="#0011c8"/><stop offset="0.9949" stop-color="#070cc4"/><stop offset="1.0000" stop-color="#0b0bc3"/></linearGradient>
<linearGradient id="h24" gradientUnits="userSpaceOnUse" x1="109" y1="0" x2="537" y2="0"><stop offset="0.0000" stop-color="#6ce6df"/><stop offset="0.0117" stop-color="#7ae8c4"/><stop offset="0.0234" stop-color="#abf59b"/><stop offset="0.0350" stop-color="#e6ed7f"/><stop offset="0.0467" stop-color="#f7d362"/><stop offset="0.0584" stop-color="#ffb04b"/><stop offset="0.0701" stop-color="#f48346"/><stop offset="0.0818" stop-color="#f35151"/><stop offset="0.0935" stop-color="#ff6060"/><stop offset="0.1051" stop-color="#ff8787"/><stop offset="0.1168" stop-color="#faa09e"/><stop offset="0.1285" stop-color="#f2b3ac"/><stop offset="0.1402" stop-color="#fec7c6"/><stop offset="0.1519" stop-color="#ffd0d0"/><stop offset="0.1636" stop-color="#ffd6d6"/><stop offset="0.1752" stop-color="#ffdddd"/><stop offset="0.1869" stop-color="#ffe4e4"/><stop offset="0.1986" stop-color="#ffe4e4"/><stop offset="0.2103" stop-color="#ffdede"/><stop offset="0.2220" stop-color="#ffd6d6"/><stop offset="0.2336" stop-color="#ffcfcf"/><stop offset="0.2453" stop-color="#fcc3c1"/><stop offset="0.2570" stop-color="#f0b0a8"/><stop offset="0.2687" stop-color="#fd9c9a"/><stop offset="0.2804" stop-color="#ff7d7d"/><stop offset="0.2921" stop-color="#fe5757"/><stop offset="0.3037" stop-color="#f0614d"/><stop offset="0.3154" stop-color="#ffa845"/><stop offset="0.3271" stop-color="#fbc458"/><stop offset="0.3388" stop-color="#f6d664"/><stop offset="0.3505" stop-color="#f1e46d"/><stop offset="0.3621" stop-color="#ede974"/><stop offset="0.3738" stop-color="#ecea76"/><stop offset="0.3855" stop-color="#ede974"/><stop offset="0.3972" stop-color="#f0e76f"/><stop offset="0.4089" stop-color="#f4db68"/><stop offset="0.4206" stop-color="#f9ce5f"/><stop offset="0.4322" stop-color="#ffb04b"/><stop offset="0.4439" stop-color="#f27c47"/><stop offset="0.4556" stop-color="#f25151"/><stop offset="0.4673" stop-color="#fb5656"/><stop offset="0.4790" stop-color="#fe5858"/><stop offset="0.4907" stop-color="#ff5b5b"/><stop offset="0.5023" stop-color="#ff5b5b"/><stop offset="0.5140" stop-color="#ff5b5b"/><stop offset="0.5257" stop-color="#ff5b5b"/><stop offset="0.5374" stop-color="#ff5959"/><stop offset="0.5491" stop-color="#fd5757"/><stop offset="0.5607" stop-color="#f65353"/><stop offset="0.5724" stop-color="#f0624c"/><stop offset="0.5841" stop-color="#fa9343"/><stop offset="0.5958" stop-color="#ffb850"/><stop offset="0.6075" stop-color="#f9cc5d"/><stop offset="0.6192" stop-color="#f2e16c"/><stop offset="0.6308" stop-color="#e8ec7c"/><stop offset="0.6425" stop-color="#d6f38d"/><stop offset="0.6542" stop-color="#bbf898"/><stop offset="0.6659" stop-color="#a2f29e"/><stop offset="0.6776" stop-color="#83e9b5"/><stop offset="0.6893" stop-color="#74e8d0"/><stop offset="0.7009" stop-color="#68e4e4"/><stop offset="0.7126" stop-color="#5ddef1"/><stop offset="0.7243" stop-color="#4cd2f7"/><stop offset="0.7360" stop-color="#39c6fc"/><stop offset="0.7477" stop-color="#2cbeff"/><stop offset="0.7593" stop-color="#25b9ff"/><stop offset="0.7710" stop-color="#20b6ff"/><stop offset="0.7827" stop-color="#1db3ff"/><stop offset="0.7944" stop-color="#19b0ff"/><stop offset="0.8061" stop-color="#17a9fe"/><stop offset="0.8178" stop-color="#15a1fc"/><stop offset="0.8294" stop-color="#149afb"/><stop offset="0.8411" stop-color="#1294fa"/><stop offset="0.8528" stop-color="#118ff9"/><stop offset="0.8645" stop-color="#118bf9"/><stop offset="0.8762" stop-color="#1089f8"/><stop offset="0.8879" stop-color="#1186f7"/><stop offset="0.8995" stop-color="#1380f5"/><stop offset="0.9112" stop-color="#1578f3"/><stop offset="0.9229" stop-color="#196cef"/><stop offset="0.9346" stop-color="#1e5fea"/><stop offset="0.9463" stop-color="#1d51e6"/><stop offset="0.9579" stop-color="#1543e1"/><stop offset="0.9696" stop-color="#0f36dd"/><stop offset="0.9813" stop-color="#0828d8"/><stop offset="0.9930" stop-color="#0621d3"/><stop offset="1.0000" stop-color="#041cd0"/></linearGradient>
<linearGradient id="h25" gradientUnits="userSpaceOnUse" x1="109" y1="0" x2="522.5" y2="0"><stop offset="0.0000" stop-color="#6ce6df"/><stop offset="0.0121" stop-color="#7ae8c4"/><stop offset="0.0242" stop-color="#abf59b"/><stop offset="0.0363" stop-color="#e6ed7f"/><stop offset="0.0484" stop-color="#f7d362"/><stop offset="0.0605" stop-color="#ffb04b"/><stop offset="0.0726" stop-color="#f48346"/><stop offset="0.0846" stop-color="#f35151"/><stop offset="0.0967" stop-color="#ff6060"/><stop offset="0.1088" stop-color="#ff8787"/><stop offset="0.1209" stop-color="#faa09e"/><stop offset="0.1330" stop-color="#f2b3ac"/><stop offset="0.1451" stop-color="#fec7c6"/><stop offset="0.1572" stop-color="#ffd0d0"/><stop offset="0.1693" stop-color="#ffd6d6"/><stop offset="0.1814" stop-color="#ffdddd"/><stop offset="0.1935" stop-color="#ffe4e4"/><stop offset="0.2056" stop-color="#ffe4e4"/><stop offset="0.2177" stop-color="#ffdede"/><stop offset="0.2297" stop-color="#ffd6d6"/><stop offset="0.2418" stop-color="#ffcfcf"/><stop offset="0.2539" stop-color="#fcc3c1"/><stop offset="0.2660" stop-color="#f0b0a8"/><stop offset="0.2781" stop-color="#fd9c9a"/><stop offset="0.2902" stop-color="#ff7979"/><stop offset="0.3023" stop-color="#fa5555"/><stop offset="0.3144" stop-color="#f07349"/><stop offset="0.3265" stop-color="#ffb24c"/><stop offset="0.3386" stop-color="#f9ce5e"/><stop offset="0.3507" stop-color="#f3df6a"/><stop offset="0.3628" stop-color="#efe871"/><stop offset="0.3748" stop-color="#ebea77"/><stop offset="0.3869" stop-color="#ebea77"/><stop offset="0.3990" stop-color="#edea75"/><stop offset="0.4111" stop-color="#f0e76f"/><stop offset="0.4232" stop-color="#f4db68"/><stop offset="0.4353" stop-color="#f9ce5f"/><stop offset="0.4474" stop-color="#ffb04b"/><stop offset="0.4595" stop-color="#f27c47"/><stop offset="0.4716" stop-color="#f25151"/><stop offset="0.4837" stop-color="#fb5656"/><stop offset="0.4958" stop-color="#fe5858"/><stop offset="0.5079" stop-color="#ff5b5b"/><stop offset="0.5200" stop-color="#ff5b5b"/><stop offset="0.5320" stop-color="#ff5b5b"/><stop offset="0.5441" stop-color="#ff5b5b"/><stop offset="0.5562" stop-color="#ff5959"/><stop offset="0.5683" stop-color="#fd5757"/><stop offset="0.5804" stop-color="#f65353"/><stop offset="0.5925" stop-color="#f0624c"/><stop offset="0.6046" stop-color="#fa9343"/><stop offset="0.6167" stop-color="#ffb850"/><stop offset="0.6288" stop-color="#f9cc5d"/><stop offset="0.6409" stop-color="#f2e16c"/><stop offset="0.6530" stop-color="#e8ec7c"/><stop offset="0.6651" stop-color="#d6f38d"/><stop offset="0.6771" stop-color="#bbf898"/><stop offset="0.6892" stop-color="#a2f29e"/><stop offset="0.7013" stop-color="#83e9b5"/><stop offset="0.7134" stop-color="#74e8d0"/><stop offset="0.7255" stop-color="#68e4e4"/><stop offset="0.7376" stop-color="#5ddef1"/><stop offset="0.7497" stop-color="#4cd2f7"/><stop offset="0.7618" stop-color="#39c6fc"/><stop offset="0.7739" stop-color="#2cbeff"/><stop offset="0.7860" stop-color="#25b9ff"/><stop offset="0.7981" stop-color="#20b6ff"/><stop offset="0.8102" stop-color="#1db3ff"/><stop offset="0.8222" stop-color="#19b0ff"/><stop offset="0.8343" stop-color="#17a9fe"/><stop offset="0.8464" stop-color="#15a1fc"/><stop offset="0.8585" stop-color="#149afb"/><stop offset="0.8706" stop-color="#1294fa"/><stop offset="0.8827" stop-color="#118ff9"/><stop offset="0.8948" stop-color="#118bf9"/><stop offset="0.9069" stop-color="#1089f8"/><stop offset="0.9190" stop-color="#1186f7"/><stop offset="0.9311" stop-color="#1380f5"/><stop offset="0.9432" stop-color="#1578f3"/><stop offset="0.9553" stop-color="#196cef"/><stop offset="0.9674" stop-color="#1e5fea"/><stop offset="0.9794" stop-color="#1d51e6"/><stop offset="0.9915" stop-color="#1543e1"/><stop offset="1.0000" stop-color="#113ade"/></linearGradient>
<linearGradient id="h26" gradientUnits="userSpaceOnUse" x1="109" y1="0" x2="510" y2="0"><stop offset="0.0000" stop-color="#6ce6df"/><stop offset="0.0125" stop-color="#7ae8c4"/><stop offset="0.0249" stop-color="#abf59b"/><stop offset="0.0374" stop-color="#e6ed7f"/><stop offset="0.0499" stop-color="#f7d362"/><stop offset="0.0623" stop-color="#ffb04b"/><stop offset="0.0748" stop-color="#f48346"/><stop offset="0.0873" stop-color="#f35151"/><stop offset="0.0998" stop-color="#ff6060"/><stop offset="0.1122" stop-color="#ff8787"/><stop offset="0.1247" stop-color="#faa09e"/><stop offset="0.1372" stop-color="#f2b3ac"/><stop offset="0.1496" stop-color="#fec7c6"/><stop offset="0.1621" stop-color="#ffd0d0"/><stop offset="0.1746" stop-color="#ffd6d6"/><stop offset="0.1870" stop-color="#ffdddd"/><stop offset="0.1995" stop-color="#ffe4e4"/><stop offset="0.2120" stop-color="#ffe4e4"/><stop offset="0.2244" stop-color="#ffdede"/><stop offset="0.2369" stop-color="#ffd6d6"/><stop offset="0.2494" stop-color="#ffcfcf"/><stop offset="0.2618" stop-color="#fcc3c1"/><stop offset="0.2743" stop-color="#f0b0a8"/><stop offset="0.2868" stop-color="#fd9c9a"/><stop offset="0.2993" stop-color="#ff7979"/><stop offset="0.3117" stop-color="#fa5555"/><stop offset="0.3242" stop-color="#f07349"/><stop offset="0.3367" stop-color="#ffb24c"/><stop offset="0.3491" stop-color="#f9ce5e"/><stop offset="0.3616" stop-color="#f3df6a"/><stop offset="0.3741" stop-color="#efe871"/><stop offset="0.3865" stop-color="#ebea77"/><stop offset="0.3990" stop-color="#ebea77"/><stop offset="0.4115" stop-color="#edea75"/><stop offset="0.4239" stop-color="#f0e76f"/><stop offset="0.4364" stop-color="#f4db68"/><stop offset="0.4489" stop-color="#f9ce5f"/><stop offset="0.4613" stop-color="#ffb04b"/><stop offset="0.4738" stop-color="#f27c47"/><stop offset="0.4863" stop-color="#f25151"/><stop offset="0.4988" stop-color="#fb5656"/><stop offset="0.5112" stop-color="#fe5858"/><stop offset="0.5237" stop-color="#ff5b5b"/><stop offset="0.5362" stop-color="#ff5b5b"/><stop offset="0.5486" stop-color="#ff5b5b"/><stop offset="0.5611" stop-color="#ff5b5b"/><stop offset="0.5736" stop-color="#ff5959"/><stop offset="0.5860" stop-color="#fd5757"/><stop offset="0.5985" stop-color="#f65353"/><stop offset="0.6110" stop-color="#f0624c"/><stop offset="0.6234" stop-color="#fa9343"/><stop offset="0.6359" stop-color="#ffb850"/><stop offset="0.6484" stop-color="#f9cc5d"/><stop offset="0.6608" stop-color="#f2e16c"/><stop offset="0.6733" stop-color="#e8ec7c"/><stop offset="0.6858" stop-color="#d6f38d"/><stop offset="0.6983" stop-color="#bbf898"/><stop offset="0.7107" stop-color="#a2f29e"/><stop offset="0.7232" stop-color="#83e9b5"/><stop offset="0.7357" stop-color="#74e8d0"/><stop offset="0.7481" stop-color="#68e4e4"/><stop offset="0.7606" stop-color="#5ddef1"/><stop offset="0.7731" stop-color="#4cd2f7"/><stop offset="0.7855" stop-color="#39c6fc"/><stop offset="0.7980" stop-color="#2cbeff"/><stop offset="0.8105" stop-color="#25b9ff"/><stop offset="0.8229" stop-color="#20b6ff"/><stop offset="0.8354" stop-color="#1db3ff"/><stop offset="0.8479" stop-color="#19b0ff"/><stop offset="0.8603" stop-color="#17a9fe"/><stop offset="0.8728" stop-color="#15a1fc"/><stop offset="0.8853" stop-color="#149afb"/><stop offset="0.8978" stop-color="#1294fa"/><stop offset="0.9102" stop-color="#118ff9"/><stop offset="0.9227" stop-color="#118bf9"/><stop offset="0.9352" stop-color="#1089f8"/><stop offset="0.9476" stop-color="#1186f7"/><stop offset="0.9601" stop-color="#1380f5"/><stop offset="0.9726" stop-color="#1578f3"/><stop offset="0.9850" stop-color="#196cef"/><stop offset="0.9975" stop-color="#1e5fea"/><stop offset="1.0000" stop-color="#1f5ce9"/></linearGradient>
<linearGradient id="h27" gradientUnits="userSpaceOnUse" x1="109" y1="0" x2="493.25" y2="0"><stop offset="0.0000" stop-color="#6ce6df"/><stop offset="0.0130" stop-color="#7ae8c4"/><stop offset="0.0260" stop-color="#abf59b"/><stop offset="0.0390" stop-color="#e6ed7f"/><stop offset="0.0520" stop-color="#f7d362"/><stop offset="0.0651" stop-color="#ffb04b"/><stop offset="0.0781" stop-color="#f48346"/><stop offset="0.0911" stop-color="#f35151"/><stop offset="0.1041" stop-color="#ff6060"/><stop offset="0.1171" stop-color="#ff8787"/><stop offset="0.1301" stop-color="#faa09e"/><stop offset="0.1431" stop-color="#f2b3ac"/><stop offset="0.1561" stop-color="#fec7c6"/><stop offset="0.1692" stop-color="#ffd0d0"/><stop offset="0.1822" stop-color="#ffd6d6"/><stop offset="0.1952" stop-color="#ffdddd"/><stop offset="0.2082" stop-color="#ffe4e4"/><stop offset="0.2212" stop-color="#ffe4e4"/><stop offset="0.2342" stop-color="#ffdede"/><stop offset="0.2472" stop-color="#ffd6d6"/><stop offset="0.2602" stop-color="#ffcfcf"/><stop offset="0.2733" stop-color="#fcc3c1"/><stop offset="0.2863" stop-color="#f0b0a8"/><stop offset="0.2993" stop-color="#fd9c9a"/><stop offset="0.3123" stop-color="#ff7979"/><stop offset="0.3253" stop-color="#fa5555"/><stop offset="0.3383" stop-color="#f07349"/><stop offset="0.3513" stop-color="#ffb24c"/><stop offset="0.3643" stop-color="#f9ce5e"/><stop offset="0.3774" stop-color="#f3df6a"/><stop offset="0.3904" stop-color="#efe871"/><stop offset="0.4034" stop-color="#ebea77"/><stop offset="0.4164" stop-color="#ebea77"/><stop offset="0.4294" stop-color="#edea75"/><stop offset="0.4424" stop-color="#f0e76f"/><stop offset="0.4554" stop-color="#f4db68"/><stop offset="0.4684" stop-color="#f9ce5f"/><stop offset="0.4815" stop-color="#ffb04b"/><stop offset="0.4945" stop-color="#f27c47"/><stop offset="0.5075" stop-color="#f25151"/><stop offset="0.5205" stop-color="#fb5656"/><stop offset="0.5335" stop-color="#fe5858"/><stop offset="0.5465" stop-color="#ff5b5b"/><stop offset="0.5595" stop-color="#ff5b5b"/><stop offset="0.5725" stop-color="#ff5b5b"/><stop offset="0.5856" stop-color="#ff5b5b"/><stop offset="0.5986" stop-color="#ff5959"/><stop offset="0.6116" stop-color="#fd5757"/><stop offset="0.6246" stop-color="#f65353"/><stop offset="0.6376" stop-color="#f0624c"/><stop offset="0.6506" stop-color="#fa9343"/><stop offset="0.6636" stop-color="#ffb850"/><stop offset="0.6766" stop-color="#f9cc5d"/><stop offset="0.6897" stop-color="#f2e16c"/><stop offset="0.7027" stop-color="#e8ec7c"/><stop offset="0.7157" stop-color="#d6f38d"/><stop offset="0.7287" stop-color="#bbf898"/><stop offset="0.7417" stop-color="#a2f29e"/><stop offset="0.7547" stop-color="#83e9b5"/><stop offset="0.7677" stop-color="#74e8d0"/><stop offset="0.7807" stop-color="#68e4e4"/><stop offset="0.7938" stop-color="#5ddef1"/><stop offset="0.8068" stop-color="#4cd2f7"/><stop offset="0.8198" stop-color="#39c6fc"/><stop offset="0.8328" stop-color="#2cbeff"/><stop offset="0.8458" stop-color="#25b9ff"/><stop offset="0.8588" stop-color="#20b6ff"/><stop offset="0.8718" stop-color="#1db3ff"/><stop offset="0.8848" stop-color="#19b0ff"/><stop offset="0.8979" stop-color="#17a9fe"/><stop offset="0.9109" stop-color="#15a1fc"/><stop offset="0.9239" stop-color="#149afb"/><stop offset="0.9369" stop-color="#1294fa"/><stop offset="0.9499" stop-color="#118ff9"/><stop offset="0.9629" stop-color="#118bf9"/><stop offset="0.9759" stop-color="#1089f8"/><stop offset="0.9889" stop-color="#1186f7"/><stop offset="1.0000" stop-color="#1282f6"/></linearGradient>
<linearGradient id="h28" gradientUnits="userSpaceOnUse" x1="109" y1="0" x2="480.75" y2="0"><stop offset="0.0000" stop-color="#6ce6df"/><stop offset="0.0134" stop-color="#7ae8c4"/><stop offset="0.0269" stop-color="#abf59b"/><stop offset="0.0403" stop-color="#e6ed7f"/><stop offset="0.0538" stop-color="#f7d362"/><stop offset="0.0672" stop-color="#ffb04b"/><stop offset="0.0807" stop-color="#f48346"/><stop offset="0.0941" stop-color="#f35151"/><stop offset="0.1076" stop-color="#ff6060"/><stop offset="0.1210" stop-color="#ff8787"/><stop offset="0.1345" stop-color="#faa09e"/><stop offset="0.1479" stop-color="#f2b3ac"/><stop offset="0.1614" stop-color="#fec7c6"/><stop offset="0.1748" stop-color="#ffd0d0"/><stop offset="0.1883" stop-color="#ffd6d6"/><stop offset="0.2017" stop-color="#ffdddd"/><stop offset="0.2152" stop-color="#ffe4e4"/><stop offset="0.2286" stop-color="#ffe4e4"/><stop offset="0.2421" stop-color="#ffdede"/><stop offset="0.2555" stop-color="#ffd6d6"/><stop offset="0.2690" stop-color="#ffcfcf"/><stop offset="0.2824" stop-color="#fcc3c1"/><stop offset="0.2959" stop-color="#f0b0a8"/><stop offset="0.3093" stop-color="#fd9c9a"/><stop offset="0.3228" stop-color="#ff7979"/><stop offset="0.3362" stop-color="#fa5555"/><stop offset="0.3497" stop-color="#f07349"/><stop offset="0.3631" stop-color="#ffb24c"/><stop offset="0.3766" stop-color="#f9ce5e"/><stop offset="0.3900" stop-color="#f3df6a"/><stop offset="0.4035" stop-color="#efe871"/><stop offset="0.4169" stop-color="#ebea77"/><stop offset="0.4304" stop-color="#ebea77"/><stop offset="0.4438" stop-color="#edea75"/><stop offset="0.4573" stop-color="#f0e76f"/><stop offset="0.4707" stop-color="#f4db68"/><stop offset="0.4842" stop-color="#f9ce5f"/><stop offset="0.4976" stop-color="#ffb04b"/><stop offset="0.5111" stop-color="#f27c47"/><stop offset="0.5245" stop-color="#f25151"/><stop offset="0.5380" stop-color="#fb5656"/><stop offset="0.5514" stop-color="#fe5858"/><stop offset="0.5649" stop-color="#ff5b5b"/><stop offset="0.5783" stop-color="#ff5b5b"/><stop offset="0.5918" stop-color="#ff5b5b"/><stop offset="0.6052" stop-color="#ff5b5b"/><stop offset="0.6187" stop-color="#ff5959"/><stop offset="0.6321" stop-color="#fd5757"/><stop offset="0.6456" stop-color="#f65353"/><stop offset="0.6590" stop-color="#f0624c"/><stop offset="0.6725" stop-color="#fa9343"/><stop offset="0.6859" stop-color="#ffb850"/><stop offset="0.6994" stop-color="#f9cc5d"/><stop offset="0.7128" stop-color="#f2e16c"/><stop offset="0.7263" stop-color="#e8ec7c"/><stop offset="0.7397" stop-color="#d6f38d"/><stop offset="0.7532" stop-color="#bbf898"/><stop offset="0.7666" stop-color="#a2f29e"/><stop offset="0.7801" stop-color="#83e9b5"/><stop offset="0.7935" stop-color="#74e8d0"/><stop offset="0.8070" stop-color="#68e4e4"/><stop offset="0.8204" stop-color="#5ddef1"/><stop offset="0.8339" stop-color="#4cd2f7"/><stop offset="0.8473" stop-color="#39c6fc"/><stop offset="0.8608" stop-color="#2cbeff"/><stop offset="0.8742" stop-color="#25b9ff"/><stop offset="0.8877" stop-color="#20b6ff"/><stop offset="0.9011" stop-color="#1db3ff"/><stop offset="0.9146" stop-color="#19b0ff"/><stop offset="0.9280" stop-color="#17a9fe"/><stop offset="0.9415" stop-color="#15a1fc"/><stop offset="0.9549" stop-color="#149afb"/><stop offset="0.9684" stop-color="#1294fa"/><stop offset="0.9818" stop-color="#118ff9"/><stop offset="0.9953" stop-color="#118bf9"/><stop offset="1.0000" stop-color="#108af8"/></linearGradient>
<linearGradient id="h29" gradientUnits="userSpaceOnUse" x1="109" y1="0" x2="463.75" y2="0"><stop offset="0.0000" stop-color="#6ce6df"/><stop offset="0.0141" stop-color="#7ae8c4"/><stop offset="0.0282" stop-color="#abf59b"/><stop offset="0.0423" stop-color="#e6ed7f"/><stop offset="0.0564" stop-color="#f7d362"/><stop offset="0.0705" stop-color="#ffb04b"/><stop offset="0.0846" stop-color="#f48346"/><stop offset="0.0987" stop-color="#f35151"/><stop offset="0.1128" stop-color="#ff6060"/><stop offset="0.1268" stop-color="#ff8787"/><stop offset="0.1409" stop-color="#faa09e"/><stop offset="0.1550" stop-color="#f2b3ac"/><stop offset="0.1691" stop-color="#fec7c6"/><stop offset="0.1832" stop-color="#ffd0d0"/><stop offset="0.1973" stop-color="#ffd6d6"/><stop offset="0.2114" stop-color="#ffdddd"/><stop offset="0.2255" stop-color="#ffe4e4"/><stop offset="0.2396" stop-color="#ffe4e4"/><stop offset="0.2537" stop-color="#ffdede"/><stop offset="0.2678" stop-color="#ffd6d6"/><stop offset="0.2819" stop-color="#ffcfcf"/><stop offset="0.2960" stop-color="#fcc3c1"/><stop offset="0.3101" stop-color="#f0b0a8"/><stop offset="0.3242" stop-color="#fd9c9a"/><stop offset="0.3383" stop-color="#ff7979"/><stop offset="0.3524" stop-color="#fa5555"/><stop offset="0.3665" stop-color="#f07349"/><stop offset="0.3805" stop-color="#ffb24c"/><stop offset="0.3946" stop-color="#f9ce5e"/><stop offset="0.4087" stop-color="#f3df6a"/><stop offset="0.4228" stop-color="#efe871"/><stop offset="0.4369" stop-color="#ebea77"/><stop offset="0.4510" stop-color="#ebea77"/><stop offset="0.4651" stop-color="#edea75"/><stop offset="0.4792" stop-color="#f0e76f"/><stop offset="0.4933" stop-color="#f4db68"/><stop offset="0.5074" stop-color="#f9ce5f"/><stop offset="0.5215" stop-color="#ffb04b"/><stop offset="0.5356" stop-color="#f27c47"/><stop offset="0.5497" stop-color="#f25151"/><stop offset="0.5638" stop-color="#fb5656"/><stop offset="0.5779" stop-color="#fe5858"/><stop offset="0.5920" stop-color="#ff5b5b"/><stop offset="0.6061" stop-color="#ff5b5b"/><stop offset="0.6202" stop-color="#ff5b5b"/><stop offset="0.6342" stop-color="#ff5b5b"/><stop offset="0.6483" stop-color="#ff5959"/><stop offset="0.6624" stop-color="#fd5757"/><stop offset="0.6765" stop-color="#f65353"/><stop offset="0.6906" stop-color="#f0624c"/><stop offset="0.7047" stop-color="#fa9343"/><stop offset="0.7188" stop-color="#ffb850"/><stop offset="0.7329" stop-color="#f9cc5d"/><stop offset="0.7470" stop-color="#f2e16c"/><stop offset="0.7611" stop-color="#e8ec7c"/><stop offset="0.7752" stop-color="#d6f38d"/><stop offset="0.7893" stop-color="#bbf898"/><stop offset="0.8034" stop-color="#a2f29e"/><stop offset="0.8175" stop-color="#83e9b5"/><stop offset="0.8316" stop-color="#74e8d0"/><stop offset="0.8457" stop-color="#68e4e4"/><stop offset="0.8598" stop-color="#5ddef1"/><stop offset="0.8739" stop-color="#4cd2f7"/><stop offset="0.8879" stop-color="#39c6fc"/><stop offset="0.9020" stop-color="#2cbeff"/><stop offset="0.9161" stop-color="#25b9ff"/><stop offset="0.9302" stop-color="#20b6ff"/><stop offset="0.9443" stop-color="#1db3ff"/><stop offset="0.9584" stop-color="#19b0ff"/><stop offset="0.9725" stop-color="#17a9fe"/><stop offset="0.9866" stop-color="#15a1fc"/><stop offset="1.0000" stop-color="#149afb"/></linearGradient>
</defs>
<rect x="0" y="0" width="1996" height="853" fill="#fff"/>
<rect x="159.85" y="7.5" width="395.8" height="183.8" fill="none" stroke="#000" stroke-width="4.9"/>
<rect x="200.1" y="29.55" width="315.35" height="30.15" fill="url(#cb)" stroke="#000" stroke-width="4.9"/>
<line x1="204.6" y1="61" x2="204.6" y2="83.7" stroke="#000" stroke-width="4.9"/>
<text x="204.6" y="118" font-size="30.8" text-anchor="middle">24</text>
<line x1="248.43" y1="61" x2="248.43" y2="72.8" stroke="#000" stroke-width="4.9"/>
<line x1="292.26" y1="61" x2="292.26" y2="83.7" stroke="#000" stroke-width="4.9"/>
<text x="292.26" y="118" font-size="30.8" text-anchor="middle">26</text>
<line x1="336.09" y1="61" x2="336.09" y2="72.8" stroke="#000" stroke-width="4.9"/>
<line x1="379.92" y1="61" x2="379.92" y2="83.7" stroke="#000" stroke-width="4.9"/>
<text x="379.92" y="118" font-size="30.8" text-anchor="middle">28</text>
<line x1="423.75" y1="61" x2="423.75" y2="72.8" stroke="#000" stroke-width="4.9"/>
<line x1="467.58" y1="61" x2="467.58" y2="83.7" stroke="#000" stroke-width="4.9"/>
<text x="467.58" y="118" font-size="30.8" text-anchor="middle">30</text>
<line x1="511.41" y1="61" x2="511.41" y2="72.8" stroke="#000" stroke-width="4.9"/>
<text x="359.3" y="163.6" font-size="30.8" text-anchor="middle"><tspan font-style="italic">R</tspan> (%)</text>
<text transform="translate(7.9 36.2) scale(0.93 1)" font-size="33" font-weight="bold">a</text>
<rect x="109" y="225.3" width="498" height="498" fill="#cbcbcb"/>
<g shape-rendering="crispEdges">
<rect x="203.75" y="243.87" width="394.25" height="12.75" fill="url(#h0)"/>
<rect x="184.25" y="256.32" width="413.75" height="12.75" fill="url(#h1)"/>
<rect x="165" y="268.77" width="433" height="12.75" fill="url(#h2)"/>
<rect x="145" y="281.23" width="453" height="12.75" fill="url(#h3)"/>
<rect x="125" y="293.67" width="473" height="12.75" fill="url(#h4)"/>
<rect x="109" y="306.12" width="489" height="12.75" fill="url(#h5)"/>
<rect x="109" y="318.57" width="489" height="12.75" fill="url(#h6)"/>
<rect x="109" y="331.02" width="489" height="12.75" fill="url(#h7)"/>
<rect x="109" y="343.48" width="489" height="12.75" fill="url(#h8)"/>
<rect x="109" y="355.92" width="489" height="12.75" fill="url(#h9)"/>
<rect x="109" y="368.38" width="489" height="12.75" fill="url(#h10)"/>
<rect x="109" y="380.82" width="489" height="12.75" fill="url(#h11)"/>
<rect x="109" y="393.27" width="489" height="12.75" fill="url(#h12)"/>
<rect x="109" y="405.72" width="489" height="12.75" fill="url(#h13)"/>
<rect x="109" y="418.18" width="489" height="12.75" fill="url(#h14)"/>
<rect x="109" y="430.62" width="489" height="12.75" fill="url(#h15)"/>
<rect x="109" y="443.07" width="489" height="12.75" fill="url(#h16)"/>
<rect x="109" y="455.52" width="489" height="12.75" fill="url(#h17)"/>
<rect x="109" y="467.97" width="489" height="12.75" fill="url(#h18)"/>
<rect x="109" y="480.43" width="489" height="12.75" fill="url(#h19)"/>
<rect x="109" y="492.88" width="484" height="12.75" fill="url(#h20)"/>
<rect x="109" y="505.32" width="472.25" height="12.75" fill="url(#h21)"/>
<rect x="109" y="517.77" width="457.25" height="12.75" fill="url(#h22)"/>
<rect x="109" y="530.23" width="442.25" height="12.75" fill="url(#h23)"/>
<rect x="109" y="542.67" width="428" height="12.75" fill="url(#h24)"/>
<rect x="109" y="555.12" width="413.5" height="12.75" fill="url(#h25)"/>
<rect x="109" y="567.58" width="401" height="12.75" fill="url(#h26)"/>
<rect x="109" y="580.02" width="384.25" height="12.75" fill="url(#h27)"/>
<rect x="109" y="592.48" width="371.75" height="12.75" fill="url(#h28)"/>
<rect x="109" y="604.92" width="354.75" height="12.75" fill="url(#h29)"/>
</g>
<path d="M263.86 243.87 L263.8 250.1 L263.75 256.32 L263.72 262.55 L263.76 268.77 L263.86 275 L263.99 281.23 L264.11 287.45 L264.24 293.68 L264.37 299.9 L264.48 306.12 L264.59 312.35 L264.66 318.58 L264.64 324.8 L264.52 331.03 L264.35 337.25 L264.2 343.48 L264.04 349.7 L263.89 355.93 L263.79 362.15 L263.72 368.38 L263.71 374.6 L263.75 380.83 L263.84 387.05 L263.95 393.28 L264.13 399.5 L264.42 405.73 L264.79 411.95 L265.34 418.18 L266.08 424.4 L267.01 430.63 L268.13 436.85 L269.27 443.08 L270.45 449.3 L271.19 455.53 L271.74 461.75 L272.1 467.98 L272.12 474.2 L271.68 480.43 L270.93 486.65 L269.64 492.88 L267.95 499.1 L266.67 505.33 L265.61 511.55 L264.74 517.78 L264.06 524 L263.49 530.23 L263.14 536.45 L262.92 542.68 L262.85 548.9 L262.88 555.13 L262.96 561.35 L263.06 567.58 L263.19 573.8 L263.37 580.03 L263.57 586.25 L263.75 592.48 L263.93 598.7 L264.1 604.93 L264.24 611.15 L264.34 617.38" fill="none" stroke="#000" stroke-width="2" stroke-linejoin="round"/>
<path d="M418.36 243.87 L418.3 250.1 L418.25 256.32 L418.22 262.55 L418.26 268.77 L418.36 275 L418.49 281.23 L418.61 287.45 L418.74 293.68 L418.87 299.9 L418.98 306.12 L419.09 312.35 L419.16 318.58 L419.14 324.8 L419.02 331.03 L418.85 337.25 L418.7 343.48 L418.54 349.7 L418.39 355.93 L418.29 362.15 L418.22 368.38 L418.21 374.6 L418.25 380.83 L418.34 387.05 L418.45 393.28 L418.63 399.5 L418.92 405.73 L419.29 411.95 L419.84 418.18 L420.58 424.4 L421.51 430.63 L422.63 436.85 L423.77 443.08 L424.95 449.3 L425.69 455.53 L426.24 461.75 L426.6 467.98 L426.62 474.2 L426.18 480.43 L425.43 486.65 L424.14 492.88 L422.45 499.1 L421.17 505.33 L420.11 511.55 L419.24 517.78 L418.56 524 L417.99 530.23 L417.64 536.45 L417.42 542.68 L417.35 548.9 L417.38 555.13 L417.46 561.35 L417.56 567.58 L417.69 573.8 L417.87 580.03 L418.07 586.25 L418.25 592.48 L418.43 598.7 L418.6 604.93 L418.74 611.15 L418.84 617.38" fill="none" stroke="#000" stroke-width="2" stroke-linejoin="round"/>
<line x1="264.7" y1="225.3" x2="264.7" y2="723.3" stroke="#000" stroke-width="4.7" stroke-dasharray="8.8 8.8"/>
<line x1="419.2" y1="225.3" x2="419.2" y2="723.3" stroke="#000" stroke-width="4.7" stroke-dasharray="8.8 8.8"/>
<line x1="109" y1="474.2" x2="793" y2="474.2" stroke="#000" stroke-width="4.7" stroke-dasharray="8.8 8.8"/>
<line x1="109" y1="548.9" x2="793" y2="548.9" stroke="#000" stroke-width="4.7" stroke-dasharray="8.8 8.8"/>
<line x1="164" y1="225.3" x2="164" y2="258.8" stroke="#000" stroke-width="4.9"/>
<line x1="164" y1="723.3" x2="164" y2="690" stroke="#000" stroke-width="4.9"/>
<line x1="274.75" y1="225.3" x2="274.75" y2="258.8" stroke="#000" stroke-width="4.9"/>
<line x1="274.75" y1="723.3" x2="274.75" y2="690" stroke="#000" stroke-width="4.9"/>
<line x1="385.5" y1="225.3" x2="385.5" y2="258.8" stroke="#000" stroke-width="4.9"/>
<line x1="385.5" y1="723.3" x2="385.5" y2="690" stroke="#000" stroke-width="4.9"/>
<line x1="496.25" y1="225.3" x2="496.25" y2="258.8" stroke="#000" stroke-width="4.9"/>
<line x1="496.25" y1="723.3" x2="496.25" y2="690" stroke="#000" stroke-width="4.9"/>
<line x1="109" y1="349.7" x2="142" y2="349.7" stroke="#000" stroke-width="4.9"/>
<line x1="607" y1="349.7" x2="573.8" y2="349.7" stroke="#000" stroke-width="4.9"/>
<line x1="109" y1="474.2" x2="142" y2="474.2" stroke="#000" stroke-width="4.9"/>
<line x1="607" y1="474.2" x2="573.8" y2="474.2" stroke="#000" stroke-width="4.9"/>
<line x1="109" y1="598.7" x2="142" y2="598.7" stroke="#000" stroke-width="4.9"/>
<line x1="607" y1="598.7" x2="573.8" y2="598.7" stroke="#000" stroke-width="4.9"/>
<rect x="109" y="225.3" width="498" height="498" fill="none" stroke="#000" stroke-width="4.9"/>
<text x="164" y="767.3" font-size="30.8" text-anchor="middle">1.8</text>
<text x="274.75" y="767.3" font-size="30.8" text-anchor="middle">1.9</text>
<text x="385.5" y="767.3" font-size="30.8" text-anchor="middle">2.0</text>
<text x="496.25" y="767.3" font-size="30.8" text-anchor="middle">2.1</text>
<text x="607" y="767.3" font-size="30.8" text-anchor="middle">2.2</text>
<text x="91" y="234.7" font-size="30.8" text-anchor="end">2</text>
<text x="91" y="359.2" font-size="30.8" text-anchor="end">1</text>
<text x="91" y="483.7" font-size="30.8" text-anchor="end">0</text>
<text x="91" y="608.2" font-size="30.8" text-anchor="end">-1</text>
<text x="91" y="732.7" font-size="30.8" text-anchor="end">-2</text>
<text x="358.4" y="826.2" font-size="30.8" text-anchor="middle">Energy (eV)</text>
<text transform="translate(23.3 475) rotate(-90)" font-size="30.8" text-anchor="middle">Time (ps)</text>
<text x="236.2" y="687" font-size="30.8" text-anchor="middle">A</text>
<text x="397.5" y="687" font-size="30.8" text-anchor="middle">B</text>
<text transform="translate(668.6 198.7) scale(0.9 1)" font-size="33.8" font-weight="bold">b</text>
<line x1="676.6" y1="225.3" x2="676.6" y2="723.3" stroke="#7676ff" stroke-width="1.6" stroke-dasharray="5 4.1"/>
<line x1="730.75" y1="225.3" x2="730.75" y2="723.3" stroke="#7676ff" stroke-width="1.6" stroke-dasharray="5 4.1"/>
<line x1="784.9" y1="225.3" x2="784.9" y2="723.3" stroke="#7676ff" stroke-width="1.6" stroke-dasharray="5 4.1"/>
<line x1="676.6" y1="225.3" x2="676.6" y2="255" stroke="#000" stroke-width="4.9"/>
<line x1="676.6" y1="723.3" x2="676.6" y2="693" stroke="#000" stroke-width="4.9"/>
<line x1="784.9" y1="225.3" x2="784.9" y2="255" stroke="#000" stroke-width="4.9"/>
<line x1="784.9" y1="723.3" x2="784.9" y2="693" stroke="#000" stroke-width="4.9"/>
<line x1="730.75" y1="225.3" x2="730.75" y2="247.5" stroke="#000" stroke-width="4.9"/>
<line x1="730.75" y1="723.3" x2="730.75" y2="700.5" stroke="#000" stroke-width="4.9"/>
<line x1="668.5" y1="349.7" x2="698.3" y2="349.7" stroke="#000" stroke-width="4.9"/>
<line x1="793" y1="349.7" x2="763.3" y2="349.7" stroke="#000" stroke-width="4.9"/>
<line x1="668.5" y1="474.2" x2="698.3" y2="474.2" stroke="#000" stroke-width="4.9"/>
<line x1="793" y1="474.2" x2="763.3" y2="474.2" stroke="#000" stroke-width="4.9"/>
<line x1="668.5" y1="598.7" x2="698.3" y2="598.7" stroke="#000" stroke-width="4.9"/>
<line x1="793" y1="598.7" x2="763.3" y2="598.7" stroke="#000" stroke-width="4.9"/>
<rect x="668.5" y="225.3" width="124.5" height="498" fill="none" stroke="#000" stroke-width="4.9"/>
<line x1="607" y1="474.2" x2="793" y2="474.2" stroke="#000" stroke-width="4.7" stroke-dasharray="8.8 8.8" stroke-dashoffset="5.2"/>
<line x1="607" y1="548.9" x2="788" y2="548.9" stroke="#000" stroke-width="4.7" stroke-dasharray="8.8 8.8" stroke-dashoffset="5.2"/>
<path d="M722.92 228.94 L721.74 235.16 L720.72 241.38 L719.86 247.61 L719.02 253.84 L718.46 260.06 L718.61 266.29 L719.72 272.51 L721.36 278.74 L723.09 284.96 L724.62 291.19 L726.28 297.41 L727.76 303.64 L728.98 309.86 L730.05 316.09 L730.36 322.31 L729.33 328.54 L727.44 334.76 L725.5 340.99 L723.54 347.21 L721.48 353.44 L719.94 359.66 L718.7 365.89 L718.1 372.11 L718.5 378.34 L719.54 384.56 L720.97 390.79 L722.83 397.01 L725.93 403.24 L729.93 409.46 L735.07 415.69 L741.86 421.91 L749.42 428.14 L758.17 434.36 L766.49 440.59 L774.69 446.81 L780.7 453.04 L784.25 459.26 L786.94 465.49 L788 471.71 L786.47 477.94 L782.58 484.16 L776.74 490.39 L764.67 496.61 L754.06 502.84 L744.06 509.06 L734.77 515.29 L726.2 521.51 L718.12 527.74 L710.98 533.96 L706.59 540.19 L703.8 546.41 L703.92 552.64 L705.24 558.86 L707.06 565.09 L709.09 571.31 L711.89 577.54 L714.99 583.76 L717.8 589.99 L720.31 596.21 L722.71 602.44 L724.69 608.66 L726.08 614.89 L727.22 621.11 L728.14 627.34 L728.8 633.56 L729.29 639.79 L729.69 646.01 L729.95 652.24 L730.05 658.46 L730.14 664.69 L730.21 670.91 L730.28 677.14 L730.33 683.36 L730.38 689.59 L730.42 695.81 L730.45 702.04 L730.48 708.26 L730.49 714.49 L730.5 720.71" fill="none" stroke="#ff0000" stroke-width="6" stroke-linejoin="round" stroke-linecap="round"/>
<g fill="#ff0000"><circle cx="722.92" cy="228.94" r="4.7"/><circle cx="721.74" cy="235.16" r="4.7"/><circle cx="720.72" cy="241.38" r="4.7"/><circle cx="719.86" cy="247.61" r="4.7"/><circle cx="719.02" cy="253.84" r="4.7"/><circle cx="718.46" cy="260.06" r="4.7"/><circle cx="718.61" cy="266.29" r="4.7"/><circle cx="719.72" cy="272.51" r="4.7"/><circle cx="721.36" cy="278.74" r="4.7"/><circle cx="723.09" cy="284.96" r="4.7"/><circle cx="724.62" cy="291.19" r="4.7"/><circle cx="726.28" cy="297.41" r="4.7"/><circle cx="727.76" cy="303.64" r="4.7"/><circle cx="728.98" cy="309.86" r="4.7"/><circle cx="730.05" cy="316.09" r="4.7"/><circle cx="730.36" cy="322.31" r="4.7"/><circle cx="729.33" cy="328.54" r="4.7"/><circle cx="727.44" cy="334.76" r="4.7"/><circle cx="725.5" cy="340.99" r="4.7"/><circle cx="723.54" cy="347.21" r="4.7"/><circle cx="721.48" cy="353.44" r="4.7"/><circle cx="719.94" cy="359.66" r="4.7"/><circle cx="718.7" cy="365.89" r="4.7"/><circle cx="718.1" cy="372.11" r="4.7"/><circle cx="718.5" cy="378.34" r="4.7"/><circle cx="719.54" cy="384.56" r="4.7"/><circle cx="720.97" cy="390.79" r="4.7"/><circle cx="722.83" cy="397.01" r="4.7"/><circle cx="725.93" cy="403.24" r="4.7"/><circle cx="729.93" cy="409.46" r="4.7"/><circle cx="735.07" cy="415.69" r="4.7"/><circle cx="741.86" cy="421.91" r="4.7"/><circle cx="749.42" cy="428.14" r="4.7"/><circle cx="758.17" cy="434.36" r="4.7"/><circle cx="766.49" cy="440.59" r="4.7"/><circle cx="774.69" cy="446.81" r="4.7"/><circle cx="780.7" cy="453.04" r="4.7"/><circle cx="784.25" cy="459.26" r="4.7"/><circle cx="786.94" cy="465.49" r="4.7"/><circle cx="788" cy="471.71" r="4.7"/><circle cx="786.47" cy="477.94" r="4.7"/><circle cx="782.58" cy="484.16" r="4.7"/><circle cx="776.74" cy="490.39" r="4.7"/><circle cx="764.67" cy="496.61" r="4.7"/><circle cx="754.06" cy="502.84" r="4.7"/><circle cx="744.06" cy="509.06" r="4.7"/><circle cx="734.77" cy="515.29" r="4.7"/><circle cx="726.2" cy="521.51" r="4.7"/><circle cx="718.12" cy="527.74" r="4.7"/><circle cx="710.98" cy="533.96" r="4.7"/><circle cx="706.59" cy="540.19" r="4.7"/><circle cx="703.8" cy="546.41" r="4.7"/><circle cx="703.92" cy="552.64" r="4.7"/><circle cx="705.24" cy="558.86" r="4.7"/><circle cx="707.06" cy="565.09" r="4.7"/><circle cx="709.09" cy="571.31" r="4.7"/><circle cx="711.89" cy="577.54" r="4.7"/><circle cx="714.99" cy="583.76" r="4.7"/><circle cx="717.8" cy="589.99" r="4.7"/><circle cx="720.31" cy="596.21" r="4.7"/><circle cx="722.71" cy="602.44" r="4.7"/><circle cx="724.69" cy="608.66" r="4.7"/><circle cx="726.08" cy="614.89" r="4.7"/><circle cx="727.22" cy="621.11" r="4.7"/><circle cx="728.14" cy="627.34" r="4.7"/><circle cx="728.8" cy="633.56" r="4.7"/><circle cx="729.29" cy="639.79" r="4.7"/><circle cx="729.69" cy="646.01" r="4.7"/><circle cx="729.95" cy="652.24" r="4.7"/><circle cx="730.05" cy="658.46" r="4.7"/><circle cx="730.14" cy="664.69" r="4.7"/><circle cx="730.21" cy="670.91" r="4.7"/><circle cx="730.28" cy="677.14" r="4.7"/><circle cx="730.33" cy="683.36" r="4.7"/><circle cx="730.38" cy="689.59" r="4.7"/><circle cx="730.42" cy="695.81" r="4.7"/><circle cx="730.45" cy="702.04" r="4.7"/><circle cx="730.48" cy="708.26" r="4.7"/><circle cx="730.49" cy="714.49" r="4.7"/><circle cx="730.5" cy="720.71" r="4.7"/></g>
<text x="677" y="766" font-size="30.8" text-anchor="middle">-100</text>
<text x="786.5" y="766" font-size="30.8" text-anchor="middle">100</text>
<text x="731" y="812.5" font-size="30.8" text-anchor="middle">Inc. field</text>
<text x="731.5" y="843.7" font-size="30.8" text-anchor="middle"><tspan font-style="italic">F</tspan><tspan font-style="italic" font-size="23.3" dy="5.5">x</tspan><tspan font-size="23.3">, in</tspan><tspan dy="-5.5"> (kV/cm)</tspan></text>
<text transform="translate(840.8 199.2) scale(0.92 1)" font-size="35" font-weight="bold">c</text>
<line x1="1054.4" y1="214.3" x2="1054.4" y2="229.7" stroke="#000" stroke-width="4.9"/>
<line x1="1054.4" y1="449.2" x2="1054.4" y2="433.2" stroke="#000" stroke-width="4.9"/>
<line x1="1212.95" y1="214.3" x2="1212.95" y2="229.7" stroke="#000" stroke-width="4.9"/>
<line x1="1212.95" y1="449.2" x2="1212.95" y2="433.2" stroke="#000" stroke-width="4.9"/>
<line x1="1371.5" y1="214.3" x2="1371.5" y2="229.7" stroke="#000" stroke-width="4.9"/>
<line x1="1371.5" y1="449.2" x2="1371.5" y2="433.2" stroke="#000" stroke-width="4.9"/>
<line x1="948.5" y1="421.95" x2="963.7" y2="421.95" stroke="#000" stroke-width="4.9"/>
<line x1="1445.6" y1="421.95" x2="1430" y2="421.95" stroke="#000" stroke-width="4.9"/>
<line x1="948.5" y1="386.2" x2="963.7" y2="386.2" stroke="#000" stroke-width="4.9"/>
<line x1="1445.6" y1="386.2" x2="1430" y2="386.2" stroke="#000" stroke-width="4.9"/>
<line x1="948.5" y1="350.45" x2="963.7" y2="350.45" stroke="#000" stroke-width="4.9"/>
<line x1="1445.6" y1="350.45" x2="1430" y2="350.45" stroke="#000" stroke-width="4.9"/>
<line x1="948.5" y1="314.7" x2="963.7" y2="314.7" stroke="#000" stroke-width="4.9"/>
<line x1="1445.6" y1="314.7" x2="1430" y2="314.7" stroke="#000" stroke-width="4.9"/>
<line x1="948.5" y1="278.95" x2="963.7" y2="278.95" stroke="#000" stroke-width="4.9"/>
<line x1="1445.6" y1="278.95" x2="1430" y2="278.95" stroke="#000" stroke-width="4.9"/>
<line x1="948.5" y1="243.2" x2="963.7" y2="243.2" stroke="#000" stroke-width="4.9"/>
<line x1="1445.6" y1="243.2" x2="1430" y2="243.2" stroke="#000" stroke-width="4.9"/>
<path d="M955.4 321.03 L958.3 321.48 L961.2 320.2 L964.1 318.87 L967 319.7 L969.9 318.62 L972.8 320.76 L975.7 323.4 L978.6 319.87 L981.5 319.79 L984.4 322.23 L987.3 322.23 L990.2 322.05 L993.1 320.34 L996 322.56 L998.9 324.47 L1001.8 321.03 L1004.7 323.58 L1007.6 321.51 L1010.5 323.61 L1013.4 323.42 L1016.3 327.61 L1019.2 326.57 L1022.1 330.72 L1025 331.62 L1027.9 332.12 L1030.8 328.73 L1033.7 334.12 L1036.6 336.59 L1039.5 338.46 L1042.4 336.77 L1045.3 340.53 L1048.2 341.23 L1051.1 343.34 L1054 348.9 L1056.9 347.03 L1059.8 350.5 L1062.7 354.11 L1065.6 352.98 L1068.5 355.77 L1071.4 358.09 L1074.3 359.91 L1077.2 359.27 L1080.1 363.84 L1083 368.39 L1085.9 364.58 L1088.8 371.42 L1091.7 371.97 L1094.6 372.49 L1097.5 379.83 L1100.4 379.4 L1103.3 377.52 L1106.2 382.11 L1109.1 385.14 L1112 385.63 L1114.9 389.38 L1117.8 389.87 L1120.7 393.31 L1123.6 396.8 L1126.5 394.34 L1129.4 397.69 L1132.3 397.92 L1135.2 400.62 L1138.1 399.47 L1141 402.12 L1143.9 404.27 L1146.8 407.78 L1149.7 409.55 L1152.6 405.66 L1155.5 407.68 L1158.4 411.46 L1161.3 407.01 L1164.2 410.81 L1167.1 412.21 L1170 415.49 L1172.9 414.85 L1175.8 413.21 L1178.7 413.42 L1181.6 413.87 L1184.5 417.53 L1187.4 413.65 L1190.3 413.8 L1193.2 414.68 L1196.1 413.21 L1199 412.45 L1201.9 409.94 L1204.8 411.38 L1207.7 409.89 L1210.6 412.42 L1213.5 410.64 L1216.4 408.46 L1219.3 408.96 L1222.2 405.99 L1225.1 407.77 L1228 404.89 L1230.9 405.24 L1233.8 400.62 L1236.7 402.97 L1239.6 397.93 L1242.5 396.22 L1245.4 398.63 L1248.3 396.35 L1251.2 397.5 L1254.1 400.86 L1257 393.88 L1259.9 393.44 L1262.8 394.23 L1265.7 393.91 L1268.6 391.67 L1271.5 390.8 L1274.4 391.9 L1277.3 390.8 L1280.2 386.97 L1283.1 388.15 L1286 387.67 L1288.9 384.75 L1291.8 386.6 L1294.7 383.6 L1297.6 386.51 L1300.5 384.23 L1303.4 383.32 L1306.3 381.3 L1309.2 381.6 L1312.1 377.03 L1315 377.9 L1317.9 380.08 L1320.8 374.32 L1323.7 379.55 L1326.6 373.7 L1329.5 378.09 L1332.4 374.33 L1335.3 377.09 L1338.2 375.37 L1341.1 371.62 L1344 376.78 L1346.9 376.81 L1349.8 373.51 L1352.7 372.87 L1355.6 372.94 L1358.5 371.21 L1361.4 375.32 L1364.3 372.05 L1367.2 373.11 L1370.1 371.75 L1373 372.27 L1375.9 371.21 L1378.8 376.56 L1381.7 374.08 L1384.6 376.71 L1387.5 375.24 L1390.4 374.3 L1393.3 375.57 L1396.2 375.67 L1399.1 377.42 L1402 377.3 L1404.9 378.15 L1407.8 376.72 L1410.7 378.63 L1413.6 384.36 L1416.5 380.55 L1419.4 380.65 L1422.3 384.34 L1425.2 387.41 L1428.1 382.65 L1431 386.13 L1433.9 386.3 L1436.8 385.08" fill="none" stroke="#00aaff" stroke-width="9" stroke-dasharray="4.8 2" stroke-linejoin="bevel"/>
<path d="M955.4 289.86 L958.3 288.1 L961.2 288.05 L964.1 286.19 L967 288.44 L969.9 286.32 L972.8 287.02 L975.7 285.03 L978.6 284.8 L981.5 289.93 L984.4 286.31 L987.3 288.02 L990.2 287.52 L993.1 286.89 L996 286.99 L998.9 289.54 L1001.8 288.04 L1004.7 288.77 L1007.6 289.6 L1010.5 292.43 L1013.4 292.01 L1016.3 292.02 L1019.2 290.79 L1022.1 289.86 L1025 295.27 L1027.9 296.1 L1030.8 294.73 L1033.7 296.99 L1036.6 298.42 L1039.5 299.51 L1042.4 300.79 L1045.3 299.2 L1048.2 304.35 L1051.1 300.09 L1054 305.62 L1056.9 306.25 L1059.8 308.42 L1062.7 311.88 L1065.6 312.58 L1068.5 308.85 L1071.4 309.32 L1074.3 315.93 L1077.2 313.89 L1080.1 317.54 L1083 320.85 L1085.9 317.51 L1088.8 318.22 L1091.7 324.62 L1094.6 325.86 L1097.5 326.97 L1100.4 329.24 L1103.3 329.14 L1106.2 329.54 L1109.1 333.94 L1112 334.04 L1114.9 334.4 L1117.8 340.39 L1120.7 340.93 L1123.6 343.47 L1126.5 342.27 L1129.4 344.5 L1132.3 345.38 L1135.2 347.13 L1138.1 350.81 L1141 350.34 L1143.9 354.08 L1146.8 355.49 L1149.7 360.26 L1152.6 354.8 L1155.5 360.7 L1158.4 360.06 L1161.3 361.48 L1164.2 359.84 L1167.1 363.01 L1170 366.56 L1172.9 366.16 L1175.8 367.69 L1178.7 368.1 L1181.6 372.1 L1184.5 370.8 L1187.4 367.45 L1190.3 371.4 L1193.2 369.63 L1196.1 367.79 L1199 373.89 L1201.9 378.22 L1204.8 376.18 L1207.7 374.21 L1210.6 375.08 L1213.5 379.55 L1216.4 377.87 L1219.3 377.83 L1222.2 377.74 L1225.1 377.96 L1228 379.45 L1230.9 378.76 L1233.8 377.69 L1236.7 374.7 L1239.6 377.28 L1242.5 374.3 L1245.4 377.21 L1248.3 371.78 L1251.2 373.31 L1254.1 372.78 L1257 369.29 L1259.9 374.46 L1262.8 372.99 L1265.7 368.17 L1268.6 369.65 L1271.5 367.85 L1274.4 360.84 L1277.3 365.53 L1280.2 363.87 L1283.1 363.05 L1286 359.63 L1288.9 360.16 L1291.8 359.26 L1294.7 360.92 L1297.6 358.16 L1300.5 356.45 L1303.4 358.59 L1306.3 353.52 L1309.2 352.96 L1312.1 349.24 L1315 355.16 L1317.9 353.13 L1320.8 352.25 L1323.7 350.98 L1326.6 349.13 L1329.5 348.64 L1332.4 347.14 L1335.3 346.74 L1338.2 346.79 L1341.1 349.28 L1344 346.98 L1346.9 345.4 L1349.8 344.04 L1352.7 343.66 L1355.6 347.89 L1358.5 345.5 L1361.4 344.46 L1364.3 343.5 L1367.2 341.88 L1370.1 343.91 L1373 345.78 L1375.9 343.26 L1378.8 343.65 L1381.7 343.89 L1384.6 344.93 L1387.5 341.94 L1390.4 345.1 L1393.3 344.34 L1396.2 348.34 L1399.1 345.58 L1402 348.86 L1404.9 351.38 L1407.8 348.36 L1410.7 348.45 L1413.6 350.66 L1416.5 350.94 L1419.4 349.65 L1422.3 353.29 L1425.2 357.16 L1428.1 353.41 L1431 354.34 L1433.9 353.52" fill="none" stroke="#00ff00" stroke-width="9" stroke-dasharray="4.8 2" stroke-linejoin="bevel"/>
<path d="M955.4 245.78 L958.3 242.45 L961.2 242.55 L964.1 247.19 L967 242.74 L969.9 246.7 L972.8 247.62 L975.7 245.19 L978.6 245.93 L981.5 248.93 L984.4 244.9 L987.3 244.42 L990.2 243.28 L993.1 246.49 L996 249.85 L998.9 249.35 L1001.8 246.14 L1004.7 246.96 L1007.6 248.36 L1010.5 250.7 L1013.4 250.51 L1016.3 252.21 L1019.2 253.28 L1022.1 253.05 L1025 254.58 L1027.9 256.14 L1030.8 256.67 L1033.7 259.01 L1036.6 262.97 L1039.5 261.68 L1042.4 262.09 L1045.3 260.18 L1048.2 265.96 L1051.1 262.96 L1054 265.76 L1056.9 272.07 L1059.8 273.59 L1062.7 273.75 L1065.6 272.55 L1068.5 277.2 L1071.4 278.61 L1074.3 283.31 L1077.2 288.95 L1080.1 287.4 L1083 288 L1085.9 289.84 L1088.8 294.74 L1091.7 297.21 L1094.6 298 L1097.5 303.3 L1100.4 303.5 L1103.3 310.46 L1106.2 312.81 L1109.1 315.3 L1112 314.64 L1114.9 319.06 L1117.8 320.21 L1120.7 322.12 L1123.6 324.62 L1126.5 325.07 L1129.4 327.13 L1132.3 333.92 L1135.2 334.22 L1138.1 337.26 L1141 340.9 L1143.9 337.25 L1146.8 340.89 L1149.7 344.48 L1152.6 346.5 L1155.5 346.46 L1158.4 350.66 L1161.3 350.32 L1164.2 348.64 L1167.1 350.26 L1170 354.67 L1172.9 354.8 L1175.8 350.77 L1178.7 357.83 L1181.6 356.56 L1184.5 358 L1187.4 354.36 L1190.3 354.22 L1193.2 352.12 L1196.1 358.87 L1199 352.76 L1201.9 355.26 L1204.8 349.54 L1207.7 349.8 L1210.6 344.67 L1213.5 345.7 L1216.4 347.08 L1219.3 341.48 L1222.2 344.93 L1225.1 342.17 L1228 338.06 L1230.9 337.72 L1233.8 336.32 L1236.7 335.59 L1239.6 333.02 L1242.5 330.8 L1245.4 330.16 L1248.3 327 L1251.2 324.83 L1254.1 325.81 L1257 326.14 L1259.9 319.79 L1262.8 321.34 L1265.7 318.52 L1268.6 316.37 L1271.5 318.56 L1274.4 314.38 L1277.3 317.01 L1280.2 311.11 L1283.1 312.14 L1286 309.85 L1288.9 308.12 L1291.8 310.21 L1294.7 308.19 L1297.6 309.24 L1300.5 307.54 L1303.4 305.13 L1306.3 306.82 L1309.2 306.91 L1312.1 308.57 L1315 304.73 L1317.9 306.41 L1320.8 303.04 L1323.7 307.83 L1326.6 304.23 L1329.5 302.51 L1332.4 305.77 L1335.3 307.91 L1338.2 302.49 L1341.1 303.24 L1344 303.84 L1346.9 303.02 L1349.8 306.03 L1352.7 303.52 L1355.6 303.58 L1358.5 306.13 L1361.4 303.43 L1364.3 305.84 L1367.2 303.1 L1370.1 302.74 L1373 301.66 L1375.9 309.27 L1378.8 305.17 L1381.7 306.62 L1384.6 306.44 L1387.5 307.25 L1390.4 307.51 L1393.3 311.77 L1396.2 306.46 L1399.1 306.06 L1402 307.8 L1404.9 307.84 L1407.8 312.73 L1410.7 313.64 L1413.6 310.86 L1416.5 310.82 L1419.4 313.74 L1422.3 318.1 L1425.2 310.57 L1428.1 318.17 L1431 315.88 L1433.9 321.04 L1436.8 317.74" fill="none" stroke="#ff8080" stroke-width="9" stroke-dasharray="4.8 2" stroke-linejoin="bevel"/>
<path d="M959.4 325.78 L963.39 325.58 L967.39 325.46 L971.38 325.43 L975.37 325.48 L979.37 325.62 L983.36 325.85 L987.35 326.17 L991.35 326.57 L995.34 327.07 L999.33 327.66 L1003.33 328.34 L1007.32 329.12 L1011.31 329.99 L1015.31 330.96 L1019.3 332.03 L1023.29 333.2 L1027.29 334.46 L1031.28 335.83 L1035.27 337.3 L1039.27 338.87 L1043.26 340.55 L1047.25 342.33 L1051.25 344.21 L1055.24 346.2 L1059.23 348.29 L1063.23 350.47 L1067.22 352.72 L1071.21 355.04 L1075.21 357.43 L1079.2 359.87 L1083.19 362.35 L1087.18 364.87 L1091.18 367.42 L1095.17 369.98 L1099.16 372.56 L1103.16 375.13 L1107.15 377.7 L1111.14 380.25 L1115.14 382.77 L1119.13 385.27 L1123.12 387.72 L1127.12 390.11 L1131.11 392.45 L1135.1 394.72 L1139.1 396.91 L1143.09 399 L1147.08 401 L1151.08 402.88 L1155.07 404.64 L1159.06 406.27 L1163.06 407.76 L1167.05 409.1 L1171.04 410.27 L1175.04 411.27 L1179.03 412.09 L1183.02 412.74 L1187.02 413.21 L1191.01 413.51 L1195 413.66 L1199 413.65 L1202.99 413.49 L1206.98 413.18 L1210.98 412.74 L1214.97 412.17 L1218.96 411.47 L1222.96 410.65 L1226.95 409.72 L1230.94 408.68 L1234.94 407.54 L1238.93 406.31 L1242.92 405 L1246.92 403.61 L1250.91 402.16 L1254.9 400.65 L1258.9 399.09 L1262.89 397.5 L1266.88 395.87 L1270.88 394.23 L1274.87 392.56 L1278.86 390.9 L1282.86 389.23 L1286.85 387.58 L1290.84 385.95 L1294.84 384.35 L1298.83 382.78 L1302.82 381.26 L1306.82 379.8 L1310.81 378.39 L1314.8 377.06 L1318.79 375.82 L1322.79 374.65 L1326.78 373.59 L1330.77 372.63 L1334.77 371.79 L1338.76 371.07 L1342.75 370.48 L1346.75 370.01 L1350.74 369.67 L1354.73 369.45 L1358.73 369.34 L1362.72 369.35 L1366.71 369.46 L1370.71 369.68 L1374.7 370 L1378.69 370.43 L1382.69 370.94 L1386.68 371.55 L1390.67 372.25 L1394.67 373.03 L1398.66 373.89 L1402.65 374.83 L1406.65 375.85 L1410.64 376.94 L1414.63 378.09 L1418.63 379.31 L1422.62 380.59 L1426.61 381.93 L1430.61 383.32 L1434.6 384.76" fill="none" stroke="#0000ff" stroke-width="4.6" stroke-linejoin="round"/>
<path d="M959.4 289.05 L963.38 288.74 L967.36 288.51 L971.35 288.35 L975.33 288.25 L979.31 288.24 L983.29 288.3 L987.28 288.43 L991.26 288.65 L995.24 288.94 L999.22 289.31 L1003.21 289.77 L1007.19 290.3 L1011.17 290.93 L1015.15 291.63 L1019.14 292.42 L1023.12 293.3 L1027.1 294.27 L1031.08 295.32 L1035.06 296.47 L1039.05 297.71 L1043.03 299.04 L1047.01 300.47 L1050.99 301.99 L1054.98 303.6 L1058.96 305.31 L1062.94 307.09 L1066.92 308.95 L1070.91 310.88 L1074.89 312.88 L1078.87 314.92 L1082.85 317.02 L1086.84 319.15 L1090.82 321.32 L1094.8 323.52 L1098.78 325.74 L1102.76 327.98 L1106.75 330.22 L1110.73 332.47 L1114.71 334.71 L1118.69 336.94 L1122.68 339.15 L1126.66 341.33 L1130.64 343.49 L1134.62 345.6 L1138.61 347.68 L1142.59 349.71 L1146.57 351.69 L1150.55 353.62 L1154.54 355.49 L1158.52 357.29 L1162.5 359.02 L1166.48 360.68 L1170.46 362.26 L1174.45 363.75 L1178.43 365.16 L1182.41 366.47 L1186.39 367.69 L1190.38 368.8 L1194.36 369.81 L1198.34 370.7 L1202.32 371.48 L1206.31 372.14 L1210.29 372.66 L1214.27 373.06 L1218.25 373.33 L1222.24 373.45 L1226.22 373.42 L1230.2 373.25 L1234.18 372.95 L1238.16 372.52 L1242.15 371.97 L1246.13 371.32 L1250.11 370.57 L1254.09 369.75 L1258.08 368.85 L1262.06 367.88 L1266.04 366.87 L1270.02 365.81 L1274.01 364.73 L1277.99 363.63 L1281.97 362.51 L1285.95 361.4 L1289.94 360.3 L1293.92 359.22 L1297.9 358.17 L1301.88 357.15 L1305.86 356.15 L1309.85 355.2 L1313.83 354.28 L1317.81 353.42 L1321.79 352.6 L1325.78 351.84 L1329.76 351.13 L1333.74 350.49 L1337.72 349.91 L1341.71 349.41 L1345.69 348.97 L1349.67 348.61 L1353.65 348.32 L1357.64 348.1 L1361.62 347.94 L1365.6 347.86 L1369.58 347.85 L1373.56 347.9 L1377.55 348.02 L1381.53 348.21 L1385.51 348.47 L1389.49 348.79 L1393.48 349.19 L1397.46 349.64 L1401.44 350.16 L1405.42 350.75 L1409.41 351.4 L1413.39 352.12 L1417.37 352.9 L1421.35 353.74 L1425.34 354.65 L1429.32 355.62 L1433.3 356.65" fill="none" stroke="#00c800" stroke-width="4.6" stroke-linejoin="round"/>
<path d="M959.4 250.37 L963.39 250.16 L967.39 250.05 L971.38 250.05 L975.37 250.16 L979.37 250.37 L983.36 250.69 L987.35 251.12 L991.35 251.65 L995.34 252.28 L999.33 253.02 L1003.33 253.85 L1007.32 254.8 L1011.31 255.84 L1015.31 256.98 L1019.3 258.22 L1023.29 259.56 L1027.29 261 L1031.28 262.53 L1035.27 264.16 L1039.27 265.89 L1043.26 267.71 L1047.25 269.63 L1051.25 271.64 L1055.24 273.75 L1059.23 275.95 L1063.23 278.24 L1067.22 280.62 L1071.21 283.1 L1075.21 285.67 L1079.2 288.34 L1083.19 291.09 L1087.18 293.93 L1091.18 296.84 L1095.17 299.81 L1099.16 302.83 L1103.16 305.88 L1107.15 308.95 L1111.14 312.03 L1115.14 315.1 L1119.13 318.15 L1123.12 321.17 L1127.12 324.14 L1131.11 327.06 L1135.1 329.9 L1139.1 332.65 L1143.09 335.29 L1147.08 337.81 L1151.08 340.17 L1155.07 342.37 L1159.06 344.39 L1163.06 346.2 L1167.05 347.78 L1171.04 349.14 L1175.04 350.27 L1179.03 351.16 L1183.02 351.81 L1187.02 352.21 L1191.01 352.37 L1195 352.28 L1199 351.96 L1202.99 351.42 L1206.98 350.68 L1210.98 349.75 L1214.97 348.63 L1218.96 347.35 L1222.96 345.91 L1226.95 344.33 L1230.94 342.61 L1234.94 340.78 L1238.93 338.84 L1242.92 336.8 L1246.92 334.7 L1250.91 332.54 L1254.9 330.34 L1258.9 328.13 L1262.89 325.92 L1266.88 323.72 L1270.88 321.57 L1274.87 319.48 L1278.86 317.46 L1282.86 315.54 L1286.85 313.73 L1290.84 312.05 L1294.84 310.51 L1298.83 309.09 L1302.82 307.8 L1306.82 306.62 L1310.81 305.55 L1314.8 304.59 L1318.79 303.73 L1322.79 302.95 L1326.78 302.27 L1330.77 301.67 L1334.77 301.14 L1338.76 300.68 L1342.75 300.29 L1346.75 299.97 L1350.74 299.73 L1354.73 299.55 L1358.73 299.46 L1362.72 299.45 L1366.71 299.53 L1370.71 299.69 L1374.7 299.95 L1378.69 300.3 L1382.69 300.75 L1386.68 301.3 L1390.67 301.96 L1394.67 302.72 L1398.66 303.57 L1402.65 304.51 L1406.65 305.53 L1410.64 306.61 L1414.63 307.76 L1418.63 308.96 L1422.62 310.2 L1426.61 311.48 L1430.61 312.79 L1434.6 314.12" fill="none" stroke="#8b0000" stroke-width="4.6" stroke-linejoin="round"/>
<line x1="1184.9" y1="214.3" x2="1184.9" y2="449.2" stroke="#000" stroke-width="4.7" stroke-dasharray="4.4 4.42" stroke-dashoffset="5.92"/>
<text x="1055.9" y="484.3" font-size="30.8" text-anchor="middle">1.85</text>
<text x="1214.45" y="484.3" font-size="30.8" text-anchor="middle">1.90</text>
<text x="1373" y="484.3" font-size="30.8" text-anchor="middle">1.95</text>
<text x="939.5" y="430.45" font-size="30.8" text-anchor="end">28</text>
<text x="939.5" y="394.7" font-size="30.8" text-anchor="end">29</text>
<text x="939.5" y="358.95" font-size="30.8" text-anchor="end">30</text>
<text x="939.5" y="323.2" font-size="30.8" text-anchor="end">31</text>
<text x="939.5" y="287.45" font-size="30.8" text-anchor="end">32</text>
<text x="939.5" y="251.7" font-size="30.8" text-anchor="end">33</text>
<rect x="948.5" y="214.3" width="497.1" height="234.9" fill="none" stroke="#000" stroke-width="4.9"/>
<text transform="translate(862.4 331.2) rotate(-90)" font-size="30.8" text-anchor="middle"><tspan font-style="italic">R</tspan> (%)</text>
<text x="1074" y="262.2" font-size="30.8" text-anchor="start" fill="#8b0000">-0.6 ps</text>
<line x1="1117.5" y1="273.5" x2="1098.5" y2="291.5" stroke="#8b0000" stroke-width="4.7"/>
<text x="1204.5" y="260" font-size="30.8" text-anchor="middle">A</text>
<text x="1258" y="270.8" font-size="30.8" text-anchor="start" fill="#00c800">0 ps</text>
<line x1="1292.5" y1="285" x2="1344.5" y2="340.5" stroke="#00c800" stroke-width="4.7"/>
<text x="972.5" y="419" font-size="30.8" text-anchor="start" fill="#0000ff">w/o THz</text>
<line x1="1060" y1="363" x2="1037" y2="388" stroke="#0000ff" stroke-width="4.7"/>
<text transform="translate(840.6 511.9) scale(0.96 1)" font-size="33.4" font-weight="bold">d</text>
<line x1="959.6" y1="500.6" x2="959.6" y2="516" stroke="#000" stroke-width="4.9"/>
<line x1="959.6" y1="735.4" x2="959.6" y2="720" stroke="#000" stroke-width="4.9"/>
<line x1="1117.85" y1="500.6" x2="1117.85" y2="516" stroke="#000" stroke-width="4.9"/>
<line x1="1117.85" y1="735.4" x2="1117.85" y2="720" stroke="#000" stroke-width="4.9"/>
<line x1="1276.1" y1="500.6" x2="1276.1" y2="516" stroke="#000" stroke-width="4.9"/>
<line x1="1276.1" y1="735.4" x2="1276.1" y2="720" stroke="#000" stroke-width="4.9"/>
<line x1="1434.35" y1="500.6" x2="1434.35" y2="516" stroke="#000" stroke-width="4.9"/>
<line x1="1434.35" y1="735.4" x2="1434.35" y2="720" stroke="#000" stroke-width="4.9"/>
<line x1="948.5" y1="682" x2="963.7" y2="682" stroke="#000" stroke-width="4.9"/>
<line x1="1445.6" y1="682" x2="1430" y2="682" stroke="#000" stroke-width="4.9"/>
<line x1="948.5" y1="596.1" x2="963.7" y2="596.1" stroke="#000" stroke-width="4.9"/>
<line x1="1445.6" y1="596.1" x2="1430" y2="596.1" stroke="#000" stroke-width="4.9"/>
<line x1="948.5" y1="510.2" x2="963.7" y2="510.2" stroke="#000" stroke-width="4.9"/>
<line x1="1445.6" y1="510.2" x2="1430" y2="510.2" stroke="#000" stroke-width="4.9"/>
<path d="M957 604.37 L959.9 603.97 L962.8 607.24 L965.7 614.34 L968.6 615.27 L971.5 614.8 L974.4 615.9 L977.3 615.8 L980.2 620.99 L983.1 623.76 L986 625.64 L988.9 627.58 L991.8 627.37 L994.7 631.5 L997.6 633.46 L1000.5 638.12 L1003.4 641.19 L1006.3 638.81 L1009.2 639.3 L1012.1 642.55 L1015 643.16 L1017.9 644.61 L1020.8 647.75 L1023.7 647.35 L1026.6 652.46 L1029.5 652.59 L1032.4 654.92 L1035.3 655.58 L1038.2 655.97 L1041.1 657.12 L1044 660.38 L1046.9 661.46 L1049.8 664.81 L1052.7 665.98 L1055.6 664.77 L1058.5 669.47 L1061.4 668.18 L1064.3 671.35 L1067.2 673.64 L1070.1 671.48 L1073 677.57 L1075.9 679.12 L1078.8 679.66 L1081.7 680.27 L1084.6 681.5 L1087.5 681.33 L1090.4 683.88 L1093.3 684.32 L1096.2 686.68 L1099.1 684.93 L1102 688.78 L1104.9 689.33 L1107.8 689.45 L1110.7 689.52 L1113.6 692.26 L1116.5 688.25 L1119.4 693.32 L1122.3 693.46 L1125.2 694.1 L1128.1 694.86 L1131 693.2 L1133.9 694.52 L1136.8 696.88 L1139.7 696.9 L1142.6 696.87 L1145.5 693.67 L1148.4 698.37 L1151.3 700.02 L1154.2 699.92 L1157.1 698.51 L1160 694.95 L1162.9 700.39 L1165.8 698.27 L1168.7 693.42 L1171.6 699.67 L1174.5 695.87 L1177.4 696.4 L1180.3 697.89 L1183.2 701.99 L1186.1 698.23 L1189 698.61 L1191.9 700.74 L1194.8 699.43 L1197.7 694.87 L1200.6 693.79 L1203.5 691.63 L1206.4 692.79 L1209.3 695.11 L1212.2 695.01 L1215.1 694.36 L1218 696.17 L1220.9 692.41 L1223.8 693.86 L1226.7 695.55 L1229.6 695.33 L1232.5 696.45 L1235.4 695.13 L1238.3 693.74 L1241.2 695.24 L1244.1 692.47 L1247 691.23 L1249.9 696 L1252.8 694.77 L1255.7 695.64 L1258.6 691.54 L1261.5 694.46 L1264.4 694.09 L1267.3 693.67 L1270.2 690.89 L1273.1 695.07 L1276 697.81 L1278.9 696.9 L1281.8 695.01 L1284.7 696.43 L1287.6 698.24 L1290.5 691.1 L1293.4 697.08 L1296.3 698.93 L1299.2 699.68 L1302.1 702.3 L1305 701.61 L1307.9 700.39 L1310.8 700.88 L1313.7 702.44 L1316.6 700.2 L1319.5 701.82 L1322.4 704.58 L1325.3 707.63 L1328.2 704.03 L1331.1 705.12 L1334 706.52 L1336.9 709.81 L1339.8 707.83 L1342.7 711.72 L1345.6 707.35 L1348.5 709.74 L1351.4 710.48 L1354.3 713.33 L1357.2 714.67 L1360.1 710.11 L1363 712.18 L1365.9 715.64 L1368.8 714.4 L1371.7 713.32 L1374.6 719.36 L1377.5 718.89 L1380.4 719.58 L1383.3 718.25 L1386.2 722.12 L1389.1 720.18 L1392 723.73 L1394.9 720.27 L1397.8 721.15 L1400.7 724.16 L1403.6 723.04 L1406.5 726.74 L1409.4 726.69 L1412.3 725.03 L1415.2 727.97 L1418.1 727.92" fill="none" stroke="#00aaff" stroke-width="9" stroke-dasharray="4.8 2" stroke-linejoin="bevel"/>
<path d="M957 569.84 L959.9 568.72 L962.8 571.26 L965.7 576.86 L968.6 581.14 L971.5 582.76 L974.4 580.82 L977.3 583.26 L980.2 588.12 L983.1 586.74 L986 587.04 L988.9 591.41 L991.8 594.18 L994.7 593.54 L997.6 593.87 L1000.5 596.33 L1003.4 602.7 L1006.3 601.65 L1009.2 604.87 L1012.1 607.52 L1015 610.26 L1017.9 610.13 L1020.8 613.73 L1023.7 612.64 L1026.6 615.55 L1029.5 615.95 L1032.4 622.23 L1035.3 621.53 L1038.2 621.75 L1041.1 624.35 L1044 626.58 L1046.9 630.44 L1049.8 627.51 L1052.7 630.55 L1055.6 633.78 L1058.5 641.65 L1061.4 640.07 L1064.3 639.52 L1067.2 642.92 L1070.1 647.38 L1073 644.17 L1075.9 645.41 L1078.8 650.08 L1081.7 649.89 L1084.6 651.55 L1087.5 650.32 L1090.4 656.65 L1093.3 657.38 L1096.2 656.13 L1099.1 657.5 L1102 652.73 L1104.9 659.15 L1107.8 658.2 L1110.7 660.28 L1113.6 661.54 L1116.5 660.09 L1119.4 657.94 L1122.3 662.91 L1125.2 661.21 L1128.1 662.67 L1131 662.67 L1133.9 663.77 L1136.8 660.17 L1139.7 668.07 L1142.6 666.53 L1145.5 668.79 L1148.4 671.06 L1151.3 667.36 L1154.2 663.93 L1157.1 666.22 L1160 665.92 L1162.9 667.75 L1165.8 669.3 L1168.7 665.23 L1171.6 670.45 L1174.5 666.84 L1177.4 670.52 L1180.3 669.46 L1183.2 668.8 L1186.1 669.07 L1189 667.85 L1191.9 667.44 L1194.8 664.92 L1197.7 668.11 L1200.6 671.81 L1203.5 672.03 L1206.4 670.58 L1209.3 669.21 L1212.2 666.22 L1215.1 670.58 L1218 667.34 L1220.9 667.21 L1223.8 666.63 L1226.7 667.36 L1229.6 666.19 L1232.5 666.87 L1235.4 664.7 L1238.3 666.12 L1241.2 671.62 L1244.1 666.61 L1247 666.17 L1249.9 667.71 L1252.8 668 L1255.7 664.19 L1258.6 666.43 L1261.5 669.12 L1264.4 668.1 L1267.3 668.12 L1270.2 671.46 L1273.1 667.11 L1276 669.05 L1278.9 668.12 L1281.8 672.69 L1284.7 665.8 L1287.6 668.85 L1290.5 669.49 L1293.4 672.36 L1296.3 672.6 L1299.2 674.62 L1302.1 668.82 L1305 674.16 L1307.9 672.44 L1310.8 672.14 L1313.7 675.15 L1316.6 672.58 L1319.5 670.65 L1322.4 674.74 L1325.3 672.88 L1328.2 675.19 L1331.1 677.86 L1334 678.28 L1336.9 681.51 L1339.8 678.32 L1342.7 676.16 L1345.6 678.45 L1348.5 678.77 L1351.4 678.82 L1354.3 682.98 L1357.2 681.42 L1360.1 679.34 L1363 685.68 L1365.9 684.65 L1368.8 686.14 L1371.7 686.13 L1374.6 687.77 L1377.5 687.08 L1380.4 690.16 L1383.3 689.04 L1386.2 689.57 L1389.1 690.22 L1392 686.94 L1394.9 690.3 L1397.8 690.77 L1400.7 692.44 L1403.6 689.85 L1406.5 696.86 L1409.4 694.4 L1412.3 692.4 L1415.2 692.14 L1418.1 695.94 L1421 697.17 L1423.9 696.7 L1426.8 699.27 L1429.7 698.62 L1432.6 702.04 L1435.5 700.29" fill="none" stroke="#00ff00" stroke-width="9" stroke-dasharray="4.8 2" stroke-linejoin="bevel"/>
<path d="M957 518.07 L959.9 522.13 L962.8 527.39 L965.7 521.76 L968.6 524.77 L971.5 525.84 L974.4 531.08 L977.3 528.83 L980.2 532.02 L983.1 534.74 L986 534.5 L988.9 536.27 L991.8 538.98 L994.7 537.26 L997.6 540.29 L1000.5 544.12 L1003.4 546.99 L1006.3 547.95 L1009.2 546.27 L1012.1 550.64 L1015 554.9 L1017.9 555.97 L1020.8 556.19 L1023.7 556.03 L1026.6 560.73 L1029.5 559.68 L1032.4 559.91 L1035.3 562.12 L1038.2 568.27 L1041.1 567.27 L1044 571.08 L1046.9 569.46 L1049.8 574.24 L1052.7 572.78 L1055.6 575.46 L1058.5 582.8 L1061.4 580.95 L1064.3 580.04 L1067.2 582.63 L1070.1 585.19 L1073 588.71 L1075.9 586.64 L1078.8 585.13 L1081.7 589.3 L1084.6 591 L1087.5 592.25 L1090.4 595.82 L1093.3 594.73 L1096.2 596.75 L1099.1 593.7 L1102 598.69 L1104.9 602.07 L1107.8 600.08 L1110.7 599.75 L1113.6 600.28 L1116.5 604.43 L1119.4 599.43 L1122.3 601.83 L1125.2 603.69 L1128.1 604.94 L1131 603.08 L1133.9 605.26 L1136.8 604.62 L1139.7 606.03 L1142.6 606.06 L1145.5 604.48 L1148.4 607.36 L1151.3 609.73 L1154.2 606.27 L1157.1 608.19 L1160 610.48 L1162.9 607.21 L1165.8 610.2 L1168.7 607.93 L1171.6 612.88 L1174.5 615.67 L1177.4 615.37 L1180.3 610.96 L1183.2 613.26 L1186.1 611.97 L1189 611.51 L1191.9 614.11 L1194.8 607.65 L1197.7 612.19 L1200.6 609.5 L1203.5 612.52 L1206.4 609.91 L1209.3 608.06 L1212.2 610 L1215.1 610.9 L1218 609.37 L1220.9 610.25 L1223.8 608.06 L1226.7 604.67 L1229.6 611.08 L1232.5 610.7 L1235.4 609.59 L1238.3 609.46 L1241.2 611.54 L1244.1 608.44 L1247 607.96 L1249.9 609.1 L1252.8 612.3 L1255.7 607.2 L1258.6 612.94 L1261.5 609.42 L1264.4 608.78 L1267.3 614.07 L1270.2 611.56 L1273.1 609.38 L1276 611.72 L1278.9 614.79 L1281.8 615.72 L1284.7 612.7 L1287.6 614.84 L1290.5 615.89 L1293.4 613.45 L1296.3 615.98 L1299.2 615.6 L1302.1 615.01 L1305 615.59 L1307.9 617.27 L1310.8 617.7 L1313.7 616.97 L1316.6 617.8 L1319.5 621.58 L1322.4 620.25 L1325.3 622.23 L1328.2 623.47 L1331.1 622.78 L1334 626.92 L1336.9 621.04 L1339.8 625.1 L1342.7 623.38 L1345.6 628.6 L1348.5 628.95 L1351.4 622 L1354.3 624.85 L1357.2 629.08 L1360.1 630.16 L1363 630.87 L1365.9 630.02 L1368.8 631.97 L1371.7 633.26 L1374.6 632.6 L1377.5 635.82 L1380.4 629.86 L1383.3 637.05 L1386.2 634.69 L1389.1 640.02 L1392 638.67 L1394.9 638.43" fill="none" stroke="#ff8080" stroke-width="9" stroke-dasharray="4.8 2" stroke-linejoin="bevel"/>
<path d="M960 611.1 L963.82 613.85 L967.65 616.57 L971.47 619.26 L975.3 621.91 L979.12 624.52 L982.95 627.1 L986.77 629.63 L990.59 632.13 L994.42 634.58 L998.24 637 L1002.07 639.37 L1005.89 641.7 L1009.72 643.98 L1013.54 646.22 L1017.37 648.42 L1021.19 650.57 L1025.01 652.67 L1028.84 654.72 L1032.66 656.73 L1036.49 658.68 L1040.31 660.59 L1044.14 662.44 L1047.96 664.24 L1051.78 665.99 L1055.61 667.69 L1059.43 669.33 L1063.26 670.91 L1067.08 672.44 L1070.91 673.91 L1074.73 675.33 L1078.56 676.68 L1082.38 677.98 L1086.2 679.22 L1090.03 680.41 L1093.85 681.54 L1097.68 682.63 L1101.5 683.66 L1105.33 684.64 L1109.15 685.58 L1112.97 686.46 L1116.8 687.31 L1120.62 688.11 L1124.45 688.87 L1128.27 689.58 L1132.1 690.26 L1135.92 690.9 L1139.75 691.5 L1143.57 692.07 L1147.39 692.61 L1151.22 693.11 L1155.04 693.58 L1158.87 694.02 L1162.69 694.44 L1166.52 694.83 L1170.34 695.19 L1174.16 695.53 L1177.99 695.84 L1181.81 696.14 L1185.64 696.41 L1189.46 696.67 L1193.29 696.91 L1197.11 697.14 L1200.94 697.35 L1204.76 697.55 L1208.58 697.74 L1212.41 697.92 L1216.23 698.09 L1220.06 698.25 L1223.88 698.41 L1227.71 698.57 L1231.53 698.72 L1235.35 698.87 L1239.18 699.03 L1243 699.18 L1246.83 699.34 L1250.65 699.5 L1254.48 699.67 L1258.3 699.85 L1262.13 700.04 L1265.95 700.24 L1269.77 700.45 L1273.6 700.67 L1277.42 700.91 L1281.25 701.17 L1285.07 701.44 L1288.9 701.74 L1292.72 702.05 L1296.54 702.39 L1300.37 702.75 L1304.19 703.14 L1308.02 703.55 L1311.84 703.99 L1315.67 704.45 L1319.49 704.93 L1323.32 705.44 L1327.14 705.98 L1330.96 706.54 L1334.79 707.13 L1338.61 707.73 L1342.44 708.37 L1346.26 709.03 L1350.09 709.71 L1353.91 710.41 L1357.73 711.14 L1361.56 711.89 L1365.38 712.67 L1369.21 713.47 L1373.03 714.29 L1376.86 715.13 L1380.68 716 L1384.51 716.89 L1388.33 717.81 L1392.15 718.75 L1395.98 719.7 L1399.8 720.69 L1403.63 721.69 L1407.45 722.72 L1411.28 723.76 L1415.1 724.83" fill="none" stroke="#0000ff" stroke-width="4.6" stroke-linejoin="round"/>
<path d="M960 571.9 L963.98 574.65 L967.95 577.39 L971.93 580.13 L975.91 582.86 L979.89 585.57 L983.86 588.27 L987.84 590.95 L991.82 593.61 L995.8 596.25 L999.77 598.86 L1003.75 601.44 L1007.73 604 L1011.71 606.52 L1015.68 609.01 L1019.66 611.47 L1023.64 613.88 L1027.61 616.25 L1031.59 618.58 L1035.57 620.86 L1039.55 623.1 L1043.52 625.28 L1047.5 627.42 L1051.48 629.51 L1055.46 631.55 L1059.43 633.53 L1063.41 635.46 L1067.39 637.33 L1071.36 639.15 L1075.34 640.9 L1079.32 642.6 L1083.3 644.23 L1087.27 645.8 L1091.25 647.31 L1095.23 648.75 L1099.21 650.13 L1103.18 651.46 L1107.16 652.72 L1111.14 653.93 L1115.12 655.08 L1119.09 656.18 L1123.07 657.23 L1127.05 658.23 L1131.02 659.18 L1135 660.09 L1138.98 660.96 L1142.96 661.78 L1146.93 662.56 L1150.91 663.3 L1154.89 664 L1158.87 664.67 L1162.84 665.31 L1166.82 665.91 L1170.8 666.49 L1174.77 667.03 L1178.75 667.55 L1182.73 668.05 L1186.71 668.52 L1190.68 668.97 L1194.66 669.4 L1198.64 669.81 L1202.62 670.21 L1206.59 670.59 L1210.57 670.96 L1214.55 671.32 L1218.53 671.66 L1222.5 671.99 L1226.48 672.32 L1230.46 672.63 L1234.43 672.94 L1238.41 673.24 L1242.39 673.54 L1246.37 673.83 L1250.34 674.11 L1254.32 674.4 L1258.3 674.68 L1262.28 674.96 L1266.25 675.24 L1270.23 675.53 L1274.21 675.81 L1278.18 676.1 L1282.16 676.39 L1286.14 676.69 L1290.12 677 L1294.09 677.31 L1298.07 677.63 L1302.05 677.96 L1306.03 678.3 L1310 678.65 L1313.98 679.02 L1317.96 679.4 L1321.94 679.79 L1325.91 680.2 L1329.89 680.62 L1333.87 681.06 L1337.84 681.52 L1341.82 682 L1345.8 682.5 L1349.78 683.02 L1353.75 683.56 L1357.73 684.13 L1361.71 684.72 L1365.69 685.34 L1369.66 685.98 L1373.64 686.65 L1377.62 687.35 L1381.59 688.08 L1385.57 688.84 L1389.55 689.63 L1393.53 690.46 L1397.5 691.31 L1401.48 692.2 L1405.46 693.13 L1409.44 694.09 L1413.41 695.09 L1417.39 696.13 L1421.37 697.21 L1425.35 698.33 L1429.32 699.49 L1433.3 700.7" fill="none" stroke="#00c800" stroke-width="4.6" stroke-linejoin="round"/>
<path d="M960 524.14 L963.59 526.5 L967.17 528.83 L970.76 531.13 L974.35 533.4 L977.94 535.64 L981.52 537.84 L985.11 540.02 L988.7 542.16 L992.29 544.27 L995.87 546.34 L999.46 548.39 L1003.05 550.39 L1006.64 552.37 L1010.22 554.31 L1013.81 556.22 L1017.4 558.09 L1020.99 559.93 L1024.57 561.74 L1028.16 563.51 L1031.75 565.24 L1035.34 566.94 L1038.92 568.61 L1042.51 570.23 L1046.1 571.83 L1049.68 573.38 L1053.27 574.9 L1056.86 576.38 L1060.45 577.83 L1064.03 579.24 L1067.62 580.61 L1071.21 581.94 L1074.8 583.24 L1078.38 584.49 L1081.97 585.71 L1085.56 586.9 L1089.15 588.04 L1092.73 589.16 L1096.32 590.23 L1099.91 591.28 L1103.5 592.29 L1107.08 593.26 L1110.67 594.21 L1114.26 595.12 L1117.85 596.01 L1121.43 596.86 L1125.02 597.69 L1128.61 598.48 L1132.19 599.25 L1135.78 600 L1139.37 600.71 L1142.96 601.41 L1146.54 602.07 L1150.13 602.72 L1153.72 603.34 L1157.31 603.94 L1160.89 604.51 L1164.48 605.07 L1168.07 605.6 L1171.66 606.12 L1175.24 606.62 L1178.83 607.09 L1182.42 607.56 L1186.01 608 L1189.59 608.43 L1193.18 608.85 L1196.77 609.26 L1200.36 609.65 L1203.94 610.03 L1207.53 610.4 L1211.12 610.77 L1214.71 611.13 L1218.29 611.48 L1221.88 611.83 L1225.47 612.17 L1229.05 612.51 L1232.64 612.85 L1236.23 613.19 L1239.82 613.52 L1243.4 613.86 L1246.99 614.21 L1250.58 614.55 L1254.17 614.9 L1257.75 615.26 L1261.34 615.63 L1264.93 616 L1268.52 616.38 L1272.1 616.77 L1275.69 617.18 L1279.28 617.59 L1282.87 618.02 L1286.45 618.47 L1290.04 618.93 L1293.63 619.4 L1297.22 619.9 L1300.8 620.41 L1304.39 620.94 L1307.98 621.48 L1311.56 622.04 L1315.15 622.62 L1318.74 623.22 L1322.33 623.84 L1325.91 624.47 L1329.5 625.13 L1333.09 625.8 L1336.68 626.49 L1340.26 627.2 L1343.85 627.93 L1347.44 628.68 L1351.03 629.45 L1354.61 630.24 L1358.2 631.06 L1361.79 631.89 L1365.38 632.74 L1368.96 633.62 L1372.55 634.51 L1376.14 635.43 L1379.73 636.37 L1383.31 637.34 L1386.9 638.32" fill="none" stroke="#8b0000" stroke-width="4.6" stroke-linejoin="round"/>
<line x1="1056.5" y1="500.6" x2="1056.5" y2="735.4" stroke="#000" stroke-width="4.7" stroke-dasharray="4.4 4.42" stroke-dashoffset="6.6"/>
<text x="960.6" y="769.5" font-size="30.8" text-anchor="middle">2.00</text>
<text x="1118.85" y="769.5" font-size="30.8" text-anchor="middle">2.05</text>
<text x="1277.1" y="769.5" font-size="30.8" text-anchor="middle">2.10</text>
<text x="1435.35" y="769.5" font-size="30.8" text-anchor="middle">2.15</text>
<text x="940" y="690.5" font-size="30.8" text-anchor="end">26</text>
<text x="940" y="604.6" font-size="30.8" text-anchor="end">28</text>
<text x="940" y="519.8" font-size="30.8" text-anchor="end">30</text>
<rect x="948.5" y="500.6" width="497.1" height="234.8" fill="none" stroke="#000" stroke-width="4.9"/>
<text transform="translate(862.4 617) rotate(-90)" font-size="30.8" text-anchor="middle"><tspan font-style="italic">R</tspan> (%)</text>
<text x="1197.4" y="822" font-size="30.8" text-anchor="middle">Energy (eV)</text>
<text x="1037.5" y="537.4" font-size="30.8" text-anchor="middle">B</text>
<text x="1127" y="545.8" font-size="30.8" text-anchor="start" fill="#8b0000">-0.6 ps</text>
<line x1="1139.5" y1="558.5" x2="1110" y2="589" stroke="#8b0000" stroke-width="4.7"/>
<text x="1234" y="562.2" font-size="30.8" text-anchor="start" fill="#00c800">0 ps</text>
<line x1="1243.5" y1="583" x2="1175" y2="655" stroke="#00c800" stroke-width="4.7"/>
<text x="1320" y="583.8" font-size="30.8" text-anchor="start" fill="#0000ff">w/o THz</text>
<line x1="1373.2" y1="597.8" x2="1373.2" y2="704" stroke="#0000ff" stroke-width="4.7"/>
<rect x="1469.4" y="257.7" width="519.9" height="147.4" fill="none" stroke="#000" stroke-width="4.9"/>
<text x="1481" y="292.9" font-size="30.8" text-anchor="start">exp, fit</text>
<line x1="1484.2" y1="316.1" x2="1531.5" y2="316.1" stroke="#00aaff" stroke-width="13.5" stroke-dasharray="5.6 3.4"/>
<line x1="1547" y1="316.1" x2="1593.7" y2="316.1" stroke="#0000ff" stroke-width="4.7"/>
<text x="1606" y="323.8" font-size="30.8" text-anchor="start">w/o THz</text>
<line x1="1484.2" y1="347.6" x2="1531.5" y2="347.6" stroke="#00ff00" stroke-width="13.5" stroke-dasharray="5.6 3.4"/>
<line x1="1547" y1="347.6" x2="1593.7" y2="347.6" stroke="#00c800" stroke-width="4.7"/>
<text x="1606" y="355.3" font-size="30.8" text-anchor="start">0 ps, 104 kV/cm, +1 %pt</text>
<line x1="1484.2" y1="379.3" x2="1531.5" y2="379.3" stroke="#ff8080" stroke-width="13.5" stroke-dasharray="5.6 3.4"/>
<line x1="1547" y1="379.3" x2="1593.7" y2="379.3" stroke="#8b0000" stroke-width="4.7"/>
<text x="1606" y="387" font-size="30.8" text-anchor="start">- 0.6 ps, -52 kV/cm. +2 %pt</text>
<rect x="1469.4" y="544.3" width="511.6" height="147.4" fill="none" stroke="#000" stroke-width="4.9"/>
<text x="1481" y="579.5" font-size="30.8" text-anchor="start">exp, fit</text>
<line x1="1484.2" y1="602.7" x2="1531.5" y2="602.7" stroke="#00aaff" stroke-width="13.5" stroke-dasharray="5.6 3.4"/>
<line x1="1547" y1="602.7" x2="1593.7" y2="602.7" stroke="#0000ff" stroke-width="4.7"/>
<text x="1606" y="610.4" font-size="30.8" text-anchor="start">w/o THz</text>
<line x1="1484.2" y1="634.2" x2="1531.5" y2="634.2" stroke="#00ff00" stroke-width="13.5" stroke-dasharray="5.6 3.4"/>
<line x1="1547" y1="634.2" x2="1593.7" y2="634.2" stroke="#00c800" stroke-width="4.7"/>
<text x="1606" y="641.9" font-size="30.8" text-anchor="start">0 ps, 104 kV/cm, +1 %pt</text>
<line x1="1484.2" y1="665.9" x2="1531.5" y2="665.9" stroke="#ff8080" stroke-width="13.5" stroke-dasharray="5.6 3.4"/>
<line x1="1547" y1="665.9" x2="1593.7" y2="665.9" stroke="#8b0000" stroke-width="4.7"/>
<text x="1606" y="673.6" font-size="30.8" text-anchor="start">-0.6 ps, -52 kV/cm, +2 %pt</text>
</svg>
</body>
</html>
